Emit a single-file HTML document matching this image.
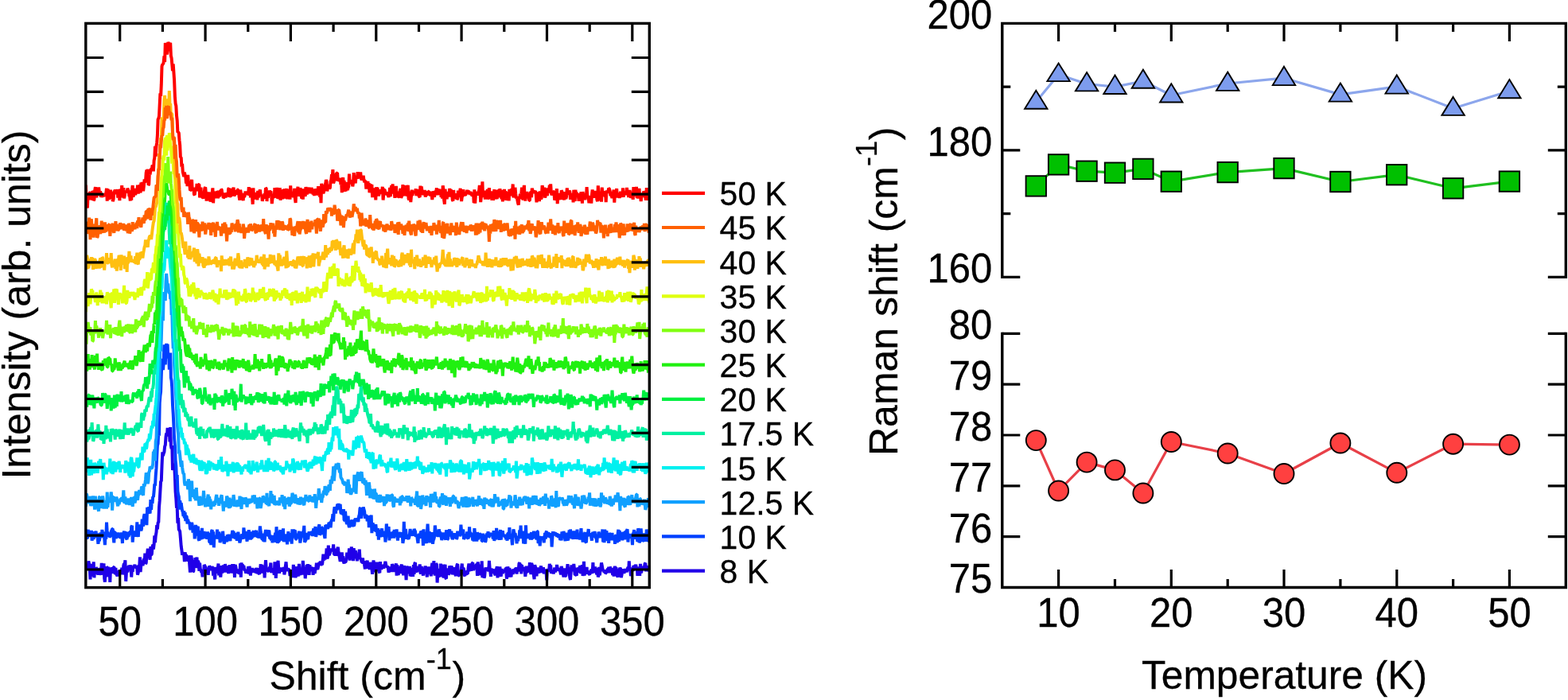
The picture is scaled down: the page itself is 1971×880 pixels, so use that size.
<!DOCTYPE html>
<html lang="en"><head><meta charset="utf-8"><title>Raman spectra</title>
<style>html,body{margin:0;padding:0;background:#fff;}body{width:1971px;height:880px;overflow:hidden;}svg{display:block;}text{font-family:'Liberation Sans', Arial, Helvetica, sans-serif;fill:#000;stroke:#000;stroke-width:0.3px;}</style>
</head><body>
<svg width="1971" height="880" viewBox="0 0 1971 880">
<rect x="0" y="0" width="1971" height="880" fill="#ffffff"/>
<g fill="none" stroke-width="4.0" stroke-linejoin="bevel" clip-path="url(#clipL)">
<clipPath id="clipL"><rect x="107.8" y="29.4" width="708.5" height="709.2"/></clipPath>
<path stroke="#2000e8" d="M107.8 716.7L108.5 714.4L109.2 713.8L109.9 714.7L110.6 714.9L111.3 705.5L112.1 708.9L112.8 714.6L113.5 728.4L114.2 713.6L114.9 709.0L115.6 718.0L116.3 718.8L117.0 724.5L117.7 706.4L118.4 726.3L119.1 717.5L119.9 720.7L120.6 713.6L121.3 714.5L122.0 720.9L122.7 721.0L123.4 714.5L124.1 722.7L124.8 717.4L125.5 714.1L126.2 718.4L126.9 722.9L127.7 707.9L128.4 719.6L129.1 709.7L129.8 719.4L130.5 708.3L131.2 727.1L131.9 731.8L132.6 712.9L133.3 725.4L134.0 712.5L134.7 713.4L135.5 725.0L136.2 712.6L136.9 722.4L137.6 714.9L138.3 731.9L139.0 714.7L139.7 714.9L140.4 716.3L141.1 719.4L141.8 720.4L142.6 713.1L143.3 713.0L144.0 714.5L144.7 722.0L145.4 714.0L146.1 721.8L146.8 722.5L147.5 724.1L148.2 722.1L148.9 722.1L149.6 718.1L150.4 717.5L151.1 720.5L151.8 717.3L152.5 722.2L153.2 713.6L153.9 722.2L154.6 719.6L155.3 711.0L156.0 708.2L156.7 710.3L157.4 704.3L158.2 730.8L158.9 719.7L159.6 711.7L160.3 719.3L161.0 716.1L161.7 712.4L162.4 711.4L163.1 712.9L163.8 713.4L164.5 710.4L165.2 725.5L166.0 712.9L166.7 718.8L167.4 711.7L168.1 714.2L168.8 711.8L169.5 709.8L170.2 713.6L170.9 712.4L171.6 713.2L172.3 714.9L173.0 722.6L173.8 719.8L174.5 710.1L175.2 712.7L175.9 700.4L176.6 719.0L177.3 710.4L178.0 708.2L178.7 704.4L179.4 711.1L180.1 708.2L180.8 702.2L181.6 707.4L182.3 695.6L183.0 708.7L183.7 707.8L184.4 698.9L185.1 696.3L185.8 689.6L186.5 696.9L187.2 697.9L187.9 698.9L188.6 703.7L189.4 687.2L190.1 697.3L190.8 696.8L191.5 688.0L192.2 684.8L192.9 690.5L193.6 684.6L194.3 673.3L195.0 682.2L195.7 673.9L196.5 669.1L197.2 660.1L197.9 665.3L198.6 657.0L199.3 656.5L200.0 637.7L200.7 629.4L201.4 617.3L202.1 605.4L202.8 604.7L203.5 586.0L204.3 568.4L205.0 573.2L205.7 569.9L206.4 568.2L207.1 561.4L207.8 559.4L208.5 549.4L209.2 544.5L209.9 548.3L210.6 537.8L211.3 542.9L212.1 546.5L212.8 540.6L213.5 555.3L214.2 537.0L214.9 559.9L215.6 564.3L216.3 560.0L217.0 590.9L217.7 588.8L218.4 584.6L219.1 582.5L219.9 599.5L220.6 618.4L221.3 626.5L222.0 638.4L222.7 638.3L223.4 657.6L224.1 651.0L224.8 665.9L225.5 666.5L226.2 668.3L226.9 676.5L227.7 686.6L228.4 691.4L229.1 697.7L229.8 695.5L230.5 694.7L231.2 696.4L231.9 706.1L232.6 694.3L233.3 698.5L234.0 697.1L234.7 702.1L235.5 703.2L236.2 705.3L236.9 698.6L237.6 700.7L238.3 710.6L239.0 719.7L239.7 703.4L240.4 698.4L241.1 704.1L241.8 705.7L242.5 718.9L243.3 718.1L244.0 706.6L244.7 713.8L245.4 701.1L246.1 712.9L246.8 704.9L247.5 700.6L248.2 714.1L248.9 705.0L249.6 706.8L250.4 717.9L251.1 707.7L251.8 715.3L252.5 716.7L253.2 719.6L253.9 719.1L254.6 725.4L255.3 718.3L256.0 722.3L256.7 710.0L257.4 711.3L258.2 712.6L258.9 718.3L259.6 719.5L260.3 713.8L261.0 718.5L261.7 722.8L262.4 714.2L263.1 711.7L263.8 712.5L264.5 712.8L265.2 715.5L266.0 716.1L266.7 713.1L267.4 713.5L268.1 723.7L268.8 717.9L269.5 722.9L270.2 728.4L270.9 712.9L271.6 719.8L272.3 715.6L273.0 720.8L273.8 714.3L274.5 708.5L275.2 723.3L275.9 714.7L276.6 716.0L277.3 725.6L278.0 718.1L278.7 711.1L279.4 720.4L280.1 716.6L280.8 710.6L281.6 716.3L282.3 719.4L283.0 709.2L283.7 713.2L284.4 719.6L285.1 711.4L285.8 716.5L286.5 713.5L287.2 721.0L287.9 713.3L288.6 710.5L289.4 713.4L290.1 715.6L290.8 717.6L291.5 720.3L292.2 709.1L292.9 715.8L293.6 709.2L294.3 716.0L295.0 725.8L295.7 710.0L296.4 712.5L297.2 718.5L297.9 717.9L298.6 720.4L299.3 715.4L300.0 721.3L300.7 719.3L301.4 721.7L302.1 708.3L302.8 725.7L303.5 707.4L304.3 714.1L305.0 709.8L305.7 712.4L306.4 711.0L307.1 715.7L307.8 717.5L308.5 716.0L309.2 720.8L309.9 718.4L310.6 716.0L311.3 717.5L312.1 712.2L312.8 721.7L313.5 711.8L314.2 715.7L314.9 723.6L315.6 714.3L316.3 719.9L317.0 714.1L317.7 719.1L318.4 715.1L319.1 719.5L319.9 717.6L320.6 718.1L321.3 720.0L322.0 713.9L322.7 718.5L323.4 721.0L324.1 714.3L324.8 720.5L325.5 720.9L326.2 721.7L326.9 717.7L327.7 709.3L328.4 720.7L329.1 710.1L329.8 713.5L330.5 720.5L331.2 713.6L331.9 711.9L332.6 726.3L333.3 713.1L334.0 704.1L334.7 714.3L335.5 715.2L336.2 717.0L336.9 717.8L337.6 718.2L338.3 715.9L339.0 712.9L339.7 713.3L340.4 707.5L341.1 720.2L341.8 716.5L342.5 716.8L343.3 715.8L344.0 715.2L344.7 722.9L345.4 706.3L346.1 717.0L346.8 726.8L347.5 716.4L348.2 720.8L348.9 708.4L349.6 704.8L350.3 715.4L351.1 720.7L351.8 717.2L352.5 713.6L353.2 718.1L353.9 714.5L354.6 718.8L355.3 714.2L356.0 718.8L356.7 713.0L357.4 722.4L358.2 718.0L358.9 711.3L359.6 706.4L360.3 716.1L361.0 714.2L361.7 717.8L362.4 715.6L363.1 716.0L363.8 716.4L364.5 724.1L365.2 718.9L366.0 717.4L366.7 718.5L367.4 722.5L368.1 725.9L368.8 709.9L369.5 715.6L370.2 713.3L370.9 713.2L371.6 726.3L372.3 713.6L373.0 713.9L373.8 720.7L374.5 721.9L375.2 724.4L375.9 708.9L376.6 715.7L377.3 723.2L378.0 715.1L378.7 716.6L379.4 718.9L380.1 722.3L380.8 704.9L381.6 715.5L382.3 716.3L383.0 715.2L383.7 727.2L384.4 719.7L385.1 716.4L385.8 710.0L386.5 722.5L387.2 709.2L387.9 716.6L388.6 722.8L389.4 710.2L390.1 717.2L390.8 715.0L391.5 718.0L392.2 714.3L392.9 713.1L393.6 722.8L394.3 715.7L395.0 713.8L395.7 720.9L396.4 715.5L397.2 714.7L397.9 707.8L398.6 714.7L399.3 715.7L400.0 712.6L400.7 708.7L401.4 707.5L402.1 710.9L402.8 705.6L403.5 710.4L404.2 709.3L405.0 710.0L405.7 704.6L406.4 696.8L407.1 704.5L407.8 700.1L408.5 703.6L409.2 698.0L409.9 699.1L410.6 689.5L411.3 702.3L412.1 700.1L412.8 685.7L413.5 698.0L414.2 696.7L414.9 694.9L415.6 689.6L416.3 692.2L417.0 691.5L417.7 691.9L418.4 691.6L419.1 684.4L419.9 696.8L420.6 697.0L421.3 696.5L422.0 689.8L422.7 694.5L423.4 698.8L424.1 690.7L424.8 687.8L425.5 693.1L426.2 697.8L426.9 701.2L427.7 705.9L428.4 703.0L429.1 700.4L429.8 694.4L430.5 704.6L431.2 699.2L431.9 706.3L432.6 708.2L433.3 705.6L434.0 706.7L434.7 706.0L435.5 702.6L436.2 694.7L436.9 698.8L437.6 700.0L438.3 698.4L439.0 689.3L439.7 704.6L440.4 693.0L441.1 700.5L441.8 687.4L442.5 695.2L443.3 691.4L444.0 705.1L444.7 689.1L445.4 695.6L446.1 702.3L446.8 692.2L447.5 695.5L448.2 698.5L448.9 705.2L449.6 700.6L450.3 697.5L451.1 702.6L451.8 690.5L452.5 702.7L453.2 701.8L453.9 703.4L454.6 706.7L455.3 706.9L456.0 701.5L456.7 708.9L457.4 705.2L458.1 710.3L458.9 715.4L459.6 706.1L460.3 712.7L461.0 707.7L461.7 704.6L462.4 714.8L463.1 707.7L463.8 709.8L464.5 715.9L465.2 706.8L466.0 711.3L466.7 711.6L467.4 715.3L468.1 721.8L468.8 715.2L469.5 704.5L470.2 710.0L470.9 714.7L471.6 718.1L472.3 718.2L473.0 712.1L473.8 706.8L474.5 710.6L475.2 711.2L475.9 710.8L476.6 718.9L477.3 720.2L478.0 706.1L478.7 713.8L479.4 715.9L480.1 712.9L480.8 711.2L481.6 711.5L482.3 714.6L483.0 711.5L483.7 710.0L484.4 705.9L485.1 709.6L485.8 712.2L486.5 712.4L487.2 711.6L487.9 714.9L488.6 719.7L489.4 712.4L490.1 715.5L490.8 718.2L491.5 717.1L492.2 718.2L492.9 709.1L493.6 711.4L494.3 719.1L495.0 713.7L495.7 715.6L496.4 716.1L497.2 711.9L497.9 708.3L498.6 723.7L499.3 710.1L500.0 716.9L500.7 723.1L501.4 712.7L502.1 713.5L502.8 721.0L503.5 714.3L504.2 711.7L505.0 709.7L505.7 715.1L506.4 718.8L507.1 723.2L507.8 711.0L508.5 717.8L509.2 717.3L509.9 716.6L510.6 729.1L511.3 711.6L512.0 715.7L512.8 721.1L513.5 712.6L514.2 716.5L514.9 711.9L515.6 724.2L516.3 723.0L517.0 713.9L517.7 720.1L518.4 715.4L519.1 724.8L519.9 710.0L520.6 722.0L521.3 708.2L522.0 707.3L522.7 718.8L523.4 718.2L524.1 717.9L524.8 717.5L525.5 713.7L526.2 712.8L526.9 717.0L527.7 709.5L528.4 720.0L529.1 721.1L529.8 712.0L530.5 720.8L531.2 718.6L531.9 723.7L532.6 715.6L533.3 719.2L534.0 714.3L534.7 711.7L535.5 714.5L536.2 721.1L536.9 725.4L537.6 712.5L538.3 721.6L539.0 719.8L539.7 715.0L540.4 713.0L541.1 718.6L541.8 724.3L542.5 713.3L543.3 707.9L544.0 718.2L544.7 721.2L545.4 705.2L546.1 720.4L546.8 723.4L547.5 719.1L548.2 708.9L548.9 709.3L549.6 732.5L550.3 721.5L551.1 718.9L551.8 714.8L552.5 724.2L553.2 724.8L553.9 708.7L554.6 714.9L555.3 709.7L556.0 718.9L556.7 720.1L557.4 726.4L558.1 724.2L558.9 712.0L559.6 709.8L560.3 726.9L561.0 727.5L561.7 714.5L562.4 719.7L563.1 714.5L563.8 722.1L564.5 721.4L565.2 711.3L565.9 714.5L566.7 720.8L567.4 711.5L568.1 713.7L568.8 722.4L569.5 717.9L570.2 722.2L570.9 718.1L571.6 713.2L572.3 721.9L573.0 724.0L573.8 714.5L574.5 710.0L575.2 709.1L575.9 722.4L576.6 723.5L577.3 723.6L578.0 718.3L578.7 722.9L579.4 720.1L580.1 713.4L580.8 708.6L581.6 722.4L582.3 713.9L583.0 715.5L583.7 723.2L584.4 723.8L585.1 721.4L585.8 718.3L586.5 718.8L587.2 721.1L587.9 721.2L588.6 714.1L589.4 708.5L590.1 716.8L590.8 717.8L591.5 711.8L592.2 717.7L592.9 710.9L593.6 707.9L594.3 707.5L595.0 717.1L595.7 713.8L596.4 712.7L597.2 715.3L597.9 714.0L598.6 709.8L599.3 709.6L600.0 723.9L600.7 706.4L601.4 713.6L602.1 709.7L602.8 723.2L603.5 718.2L604.2 710.3L605.0 720.7L605.7 705.4L606.4 726.1L607.1 717.3L607.8 715.4L608.5 726.5L609.2 724.5L609.9 715.6L610.6 713.7L611.3 717.3L612.0 714.7L612.8 714.8L613.5 715.3L614.2 718.3L614.9 704.9L615.6 713.9L616.3 718.2L617.0 724.9L617.7 714.6L618.4 720.6L619.1 715.4L619.8 718.6L620.6 720.4L621.3 715.9L622.0 721.7L622.7 723.0L623.4 715.3L624.1 715.4L624.8 712.2L625.5 726.3L626.2 713.4L626.9 723.8L627.7 718.7L628.4 712.5L629.1 721.9L629.8 724.7L630.5 715.2L631.2 717.7L631.9 721.2L632.6 716.2L633.3 718.1L634.0 716.1L634.7 719.7L635.5 714.5L636.2 714.5L636.9 727.7L637.6 723.8L638.3 712.3L639.0 716.4L639.7 718.6L640.4 713.8L641.1 725.5L641.8 721.6L642.5 725.2L643.3 716.4L644.0 717.0L644.7 721.9L645.4 717.5L646.1 720.1L646.8 716.0L647.5 715.7L648.2 720.1L648.9 713.2L649.6 721.6L650.3 716.1L651.1 718.1L651.8 715.7L652.5 708.3L653.2 707.5L653.9 717.9L654.6 708.9L655.3 721.3L656.0 710.1L656.7 717.5L657.4 713.1L658.1 715.8L658.9 717.6L659.6 714.2L660.3 724.8L661.0 719.2L661.7 711.6L662.4 719.1L663.1 718.5L663.8 719.2L664.5 713.7L665.2 716.7L665.9 707.1L666.7 716.6L667.4 722.1L668.1 708.1L668.8 709.8L669.5 717.7L670.2 719.1L670.9 723.5L671.6 728.2L672.3 710.2L673.0 712.7L673.7 716.1L674.5 724.4L675.2 716.4L675.9 713.6L676.6 718.1L677.3 714.8L678.0 719.2L678.7 719.7L679.4 714.9L680.1 711.5L680.8 720.0L681.6 713.6L682.3 716.3L683.0 713.2L683.7 721.3L684.4 717.9L685.1 715.5L685.8 719.8L686.5 717.6L687.2 729.4L687.9 717.0L688.6 715.5L689.4 717.6L690.1 718.4L690.8 708.8L691.5 713.8L692.2 710.4L692.9 720.9L693.6 718.3L694.3 720.7L695.0 717.9L695.7 721.3L696.4 718.4L697.2 713.7L697.9 719.5L698.6 714.4L699.3 717.1L700.0 710.0L700.7 713.8L701.4 717.8L702.1 715.0L702.8 716.5L703.5 714.2L704.2 718.3L705.0 722.4L705.7 712.0L706.4 714.9L707.1 719.1L707.8 721.1L708.5 725.5L709.2 716.7L709.9 714.5L710.6 724.0L711.3 723.9L712.0 717.8L712.8 716.2L713.5 709.2L714.2 716.3L714.9 713.5L715.6 720.3L716.3 726.2L717.0 728.9L717.7 719.4L718.4 710.5L719.1 717.7L719.8 716.0L720.6 716.2L721.3 709.0L722.0 715.6L722.7 722.9L723.4 722.7L724.1 722.7L724.8 723.7L725.5 713.7L726.2 719.7L726.9 716.4L727.6 713.3L728.4 719.2L729.1 711.0L729.8 721.2L730.5 714.3L731.2 719.0L731.9 710.2L732.6 724.0L733.3 715.3L734.0 705.8L734.7 723.6L735.5 713.8L736.2 716.1L736.9 717.4L737.6 712.9L738.3 721.5L739.0 718.5L739.7 717.9L740.4 721.7L741.1 722.1L741.8 720.7L742.5 719.9L743.3 715.5L744.0 720.5L744.7 718.8L745.4 707.1L746.1 720.1L746.8 715.2L747.5 717.3L748.2 712.6L748.9 716.9L749.6 719.6L750.3 722.1L751.1 714.0L751.8 725.4L752.5 723.2L753.2 712.8L753.9 723.2L754.6 716.4L755.3 715.0L756.0 707.5L756.7 710.6L757.4 714.8L758.1 717.8L758.9 716.4L759.6 719.8L760.3 717.2L761.0 720.9L761.7 720.3L762.4 716.3L763.1 718.5L763.8 714.5L764.5 720.3L765.2 712.6L765.9 720.3L766.7 712.7L767.4 713.9L768.1 719.5L768.8 718.0L769.5 716.3L770.2 723.0L770.9 714.1L771.6 724.7L772.3 714.2L773.0 712.0L773.7 714.2L774.5 713.4L775.2 722.5L775.9 723.9L776.6 725.3L777.3 721.3L778.0 717.9L778.7 715.8L779.4 714.0L780.1 715.1L780.8 726.0L781.5 722.9L782.3 716.7L783.0 719.9L783.7 715.3L784.4 720.9L785.1 717.0L785.8 715.8L786.5 717.1L787.2 717.3L787.9 719.2L788.6 715.4L789.4 713.2L790.1 717.3L790.8 705.3L791.5 717.3L792.2 713.4L792.9 724.1L793.6 719.4L794.3 717.8L795.0 714.7L795.7 718.0L796.4 710.9L797.2 713.0L797.9 710.9L798.6 713.5L799.3 709.7L800.0 715.5L800.7 712.4L801.4 723.8L802.1 716.6L802.8 713.4L803.5 718.9L804.2 723.8L805.0 708.9L805.7 719.9L806.4 718.9L807.1 713.6L807.8 712.0L808.5 714.2L809.2 715.6L809.9 713.3L810.6 708.6L811.3 708.0L812.0 718.4L812.8 711.0L813.5 718.1L814.2 714.3L814.9 716.0L815.6 718.2L816.3 711.9"/>
<path stroke="#0040ff" d="M107.8 665.4L108.5 675.1L109.2 676.4L109.9 677.2L110.6 665.9L111.3 669.3L112.1 670.1L112.8 674.9L113.5 667.9L114.2 675.0L114.9 666.9L115.6 679.7L116.3 673.0L117.0 671.5L117.7 677.9L118.4 672.6L119.1 668.2L119.9 671.3L120.6 667.6L121.3 675.6L122.0 670.6L122.7 676.0L123.4 683.8L124.1 678.7L124.8 680.1L125.5 676.4L126.2 669.8L126.9 671.3L127.7 675.8L128.4 666.0L129.1 671.4L129.8 669.7L130.5 669.1L131.2 676.9L131.9 685.2L132.6 670.4L133.3 677.6L134.0 656.6L134.7 668.5L135.5 669.9L136.2 673.7L136.9 672.7L137.6 674.9L138.3 674.4L139.0 673.3L139.7 668.4L140.4 666.9L141.1 665.0L141.8 664.9L142.6 676.0L143.3 682.4L144.0 669.0L144.7 668.9L145.4 674.9L146.1 676.8L146.8 674.3L147.5 674.6L148.2 669.6L148.9 675.5L149.6 672.6L150.4 671.4L151.1 676.8L151.8 675.4L152.5 669.5L153.2 672.4L153.9 683.0L154.6 670.8L155.3 671.3L156.0 667.7L156.7 675.6L157.4 668.2L158.2 675.5L158.9 677.1L159.6 678.1L160.3 668.6L161.0 674.1L161.7 674.2L162.4 669.3L163.1 669.3L163.8 668.3L164.5 672.3L165.2 662.0L166.0 660.7L166.7 681.6L167.4 671.3L168.1 667.5L168.8 669.7L169.5 672.4L170.2 669.2L170.9 674.8L171.6 668.9L172.3 656.3L173.0 671.1L173.8 674.8L174.5 663.2L175.2 667.0L175.9 659.5L176.6 663.3L177.3 667.3L178.0 664.8L178.7 652.6L179.4 659.7L180.1 661.7L180.8 649.8L181.6 646.3L182.3 649.4L183.0 646.7L183.7 647.2L184.4 660.2L185.1 637.9L185.8 643.0L186.5 645.3L187.2 637.2L187.9 643.5L188.6 645.5L189.4 628.0L190.1 641.0L190.8 629.3L191.5 632.8L192.2 624.3L192.9 624.8L193.6 617.8L194.3 608.3L195.0 610.6L195.7 598.5L196.5 588.7L197.2 573.8L197.9 560.3L198.6 557.8L199.3 542.0L200.0 547.8L200.7 506.6L201.4 497.5L202.1 492.3L202.8 470.8L203.5 451.0L204.3 452.7L205.0 465.0L205.7 456.4L206.4 433.3L207.1 437.5L207.8 458.5L208.5 439.9L209.2 432.0L209.9 438.6L210.6 432.6L211.3 450.6L212.1 443.7L212.8 464.6L213.5 449.7L214.2 443.5L214.9 474.8L215.6 478.3L216.3 488.2L217.0 508.8L217.7 519.9L218.4 534.5L219.1 551.6L219.9 560.2L220.6 578.6L221.3 585.8L222.0 602.5L222.7 597.1L223.4 617.5L224.1 621.8L224.8 624.4L225.5 640.6L226.2 629.4L226.9 633.5L227.7 632.3L228.4 637.9L229.1 642.0L229.8 643.3L230.5 649.0L231.2 642.1L231.9 651.3L232.6 644.1L233.3 655.1L234.0 648.6L234.7 649.8L235.5 658.5L236.2 652.9L236.9 657.3L237.6 656.9L238.3 657.6L239.0 664.7L239.7 665.1L240.4 662.0L241.1 656.8L241.8 660.7L242.5 669.6L243.3 665.9L244.0 661.2L244.7 677.3L245.4 670.6L246.1 660.0L246.8 669.7L247.5 673.3L248.2 663.3L248.9 661.9L249.6 677.7L250.4 679.7L251.1 669.3L251.8 667.5L252.5 678.1L253.2 674.3L253.9 663.9L254.6 677.6L255.3 668.9L256.0 672.3L256.7 667.9L257.4 674.4L258.2 673.9L258.9 676.7L259.6 671.4L260.3 677.7L261.0 668.5L261.7 674.6L262.4 670.0L263.1 680.7L263.8 682.1L264.5 675.9L265.2 685.0L266.0 667.5L266.7 666.0L267.4 678.9L268.1 668.4L268.8 688.3L269.5 672.8L270.2 675.6L270.9 674.9L271.6 673.0L272.3 677.5L273.0 665.7L273.8 677.7L274.5 673.3L275.2 668.7L275.9 671.4L276.6 682.2L277.3 675.9L278.0 680.4L278.7 672.4L279.4 677.3L280.1 667.8L280.8 675.5L281.6 683.3L282.3 682.0L283.0 674.2L283.7 677.3L284.4 675.0L285.1 681.3L285.8 672.4L286.5 673.4L287.2 675.9L287.9 678.3L288.6 674.9L289.4 680.1L290.1 671.6L290.8 676.2L291.5 672.6L292.2 666.9L292.9 669.9L293.6 667.8L294.3 676.8L295.0 670.0L295.7 677.5L296.4 671.3L297.2 676.0L297.9 679.7L298.6 675.2L299.3 668.8L300.0 673.1L300.7 677.5L301.4 682.4L302.1 679.3L302.8 675.7L303.5 676.7L304.3 671.2L305.0 675.1L305.7 677.6L306.4 663.4L307.1 669.6L307.8 672.6L308.5 668.3L309.2 676.6L309.9 675.4L310.6 680.7L311.3 667.8L312.1 678.0L312.8 666.0L313.5 678.6L314.2 668.4L314.9 678.2L315.6 676.2L316.3 676.9L317.0 675.0L317.7 670.2L318.4 668.7L319.1 667.5L319.9 673.6L320.6 674.1L321.3 669.0L322.0 666.9L322.7 674.9L323.4 674.6L324.1 670.9L324.8 675.8L325.5 675.1L326.2 671.1L326.9 661.4L327.7 668.4L328.4 673.0L329.1 676.9L329.8 678.2L330.5 670.6L331.2 680.7L331.9 671.9L332.6 681.4L333.3 670.0L334.0 666.0L334.7 673.2L335.5 667.1L336.2 673.6L336.9 673.1L337.6 668.2L338.3 666.7L339.0 676.0L339.7 677.5L340.4 672.7L341.1 679.5L341.8 676.1L342.5 682.3L343.3 674.1L344.0 674.4L344.7 678.4L345.4 677.2L346.1 669.7L346.8 681.8L347.5 662.2L348.2 674.9L348.9 682.8L349.6 678.8L350.3 680.5L351.1 680.0L351.8 668.2L352.5 666.4L353.2 679.3L353.9 677.3L354.6 675.4L355.3 673.1L356.0 664.3L356.7 681.2L357.4 674.4L358.2 673.3L358.9 676.8L359.6 678.0L360.3 671.5L361.0 684.4L361.7 676.4L362.4 668.2L363.1 680.1L363.8 678.3L364.5 670.6L365.2 672.2L366.0 674.4L366.7 683.6L367.4 665.4L368.1 676.4L368.8 668.9L369.5 668.5L370.2 667.1L370.9 666.6L371.6 677.8L372.3 677.7L373.0 676.2L373.8 673.9L374.5 671.1L375.2 673.3L375.9 667.8L376.6 672.5L377.3 682.5L378.0 678.1L378.7 675.0L379.4 674.2L380.1 668.5L380.8 669.2L381.6 667.3L382.3 660.9L383.0 681.6L383.7 680.1L384.4 679.0L385.1 670.0L385.8 674.7L386.5 676.7L387.2 678.1L387.9 672.2L388.6 668.3L389.4 672.6L390.1 670.0L390.8 670.9L391.5 672.2L392.2 667.7L392.9 674.1L393.6 668.1L394.3 664.4L395.0 673.3L395.7 668.2L396.4 662.0L397.2 675.0L397.9 670.5L398.6 670.0L399.3 667.1L400.0 672.0L400.7 662.0L401.4 659.3L402.1 672.6L402.8 671.0L403.5 669.0L404.2 662.7L405.0 663.4L405.7 670.1L406.4 671.1L407.1 667.5L407.8 673.9L408.5 676.9L409.2 660.0L409.9 661.3L410.6 659.9L411.3 662.6L412.1 664.9L412.8 661.4L413.5 656.7L414.2 659.2L414.9 656.2L415.6 663.2L416.3 655.7L417.0 653.6L417.7 652.7L418.4 646.2L419.1 655.7L419.9 642.2L420.6 637.2L421.3 639.9L422.0 645.6L422.7 636.8L423.4 641.6L424.1 633.8L424.8 640.6L425.5 633.0L426.2 638.7L426.9 636.1L427.7 633.8L428.4 644.9L429.1 645.4L429.8 640.9L430.5 644.9L431.2 647.1L431.9 640.2L432.6 653.9L433.3 654.2L434.0 642.8L434.7 650.0L435.5 656.9L436.2 658.9L436.9 657.0L437.6 648.5L438.3 660.2L439.0 663.0L439.7 659.4L440.4 656.1L441.1 654.7L441.8 658.1L442.5 653.4L443.3 662.2L444.0 655.3L444.7 661.3L445.4 659.7L446.1 653.1L446.8 652.5L447.5 655.2L448.2 651.7L448.9 652.6L449.6 654.0L450.3 655.9L451.1 649.2L451.8 646.9L452.5 639.0L453.2 638.3L453.9 651.8L454.6 646.4L455.3 644.8L456.0 641.8L456.7 637.6L457.4 640.4L458.1 642.6L458.9 651.8L459.6 648.4L460.3 648.2L461.0 648.6L461.7 655.2L462.4 651.2L463.1 648.1L463.8 663.1L464.5 654.4L465.2 655.0L466.0 652.9L466.7 647.5L467.4 670.2L468.1 658.6L468.8 657.5L469.5 665.6L470.2 662.1L470.9 667.0L471.6 666.8L472.3 659.3L473.0 665.4L473.8 664.3L474.5 673.9L475.2 664.2L475.9 678.7L476.6 670.1L477.3 666.2L478.0 675.4L478.7 668.4L479.4 668.1L480.1 664.3L480.8 674.7L481.6 669.4L482.3 674.9L483.0 668.2L483.7 669.2L484.4 681.4L485.1 675.4L485.8 658.5L486.5 664.7L487.2 669.7L487.9 671.3L488.6 662.1L489.4 679.4L490.1 668.8L490.8 676.6L491.5 672.2L492.2 672.6L492.9 670.7L493.6 672.0L494.3 668.2L495.0 676.7L495.7 665.8L496.4 674.6L497.2 669.4L497.9 672.8L498.6 665.4L499.3 674.2L500.0 679.6L500.7 671.7L501.4 670.2L502.1 670.6L502.8 675.8L503.5 670.6L504.2 669.7L505.0 672.8L505.7 671.5L506.4 682.9L507.1 678.4L507.8 655.9L508.5 677.4L509.2 673.0L509.9 664.9L510.6 671.8L511.3 677.7L512.0 671.9L512.8 676.7L513.5 677.4L514.2 675.8L514.9 672.1L515.6 665.0L516.3 672.2L517.0 673.4L517.7 666.9L518.4 672.9L519.1 671.4L519.9 673.4L520.6 665.0L521.3 667.0L522.0 668.0L522.7 674.7L523.4 673.7L524.1 672.2L524.8 678.6L525.5 682.9L526.2 672.8L526.9 671.3L527.7 676.8L528.4 671.4L529.1 667.9L529.8 668.6L530.5 675.2L531.2 671.8L531.9 685.9L532.6 665.3L533.3 678.8L534.0 671.9L534.7 669.0L535.5 680.4L536.2 682.9L536.9 669.8L537.6 658.7L538.3 672.6L539.0 676.6L539.7 668.1L540.4 682.3L541.1 676.2L541.8 674.9L542.5 669.3L543.3 677.7L544.0 683.7L544.7 679.0L545.4 677.6L546.1 674.6L546.8 660.6L547.5 665.9L548.2 672.3L548.9 674.2L549.6 669.1L550.3 670.7L551.1 674.9L551.8 665.4L552.5 669.0L553.2 668.9L553.9 672.4L554.6 674.6L555.3 679.0L556.0 676.7L556.7 675.3L557.4 669.6L558.1 673.4L558.9 672.3L559.6 676.7L560.3 678.6L561.0 666.3L561.7 670.8L562.4 677.9L563.1 677.6L563.8 670.6L564.5 669.8L565.2 665.4L565.9 674.1L566.7 672.5L567.4 667.7L568.1 676.1L568.8 677.9L569.5 676.4L570.2 673.8L570.9 670.3L571.6 676.4L572.3 675.0L573.0 673.9L573.8 677.7L574.5 676.7L575.2 667.6L575.9 671.7L576.6 673.8L577.3 670.2L578.0 673.8L578.7 672.6L579.4 659.7L580.1 668.5L580.8 672.4L581.6 667.6L582.3 665.7L583.0 678.0L583.7 676.2L584.4 671.7L585.1 673.2L585.8 672.0L586.5 676.9L587.2 668.5L587.9 676.3L588.6 677.2L589.4 673.1L590.1 662.4L590.8 674.9L591.5 670.2L592.2 670.7L592.9 675.0L593.6 674.3L594.3 679.6L595.0 672.3L595.7 680.5L596.4 664.1L597.2 672.6L597.9 678.7L598.6 673.0L599.3 680.6L600.0 669.0L600.7 678.0L601.4 676.0L602.1 672.6L602.8 670.6L603.5 671.7L604.2 675.4L605.0 673.2L605.7 680.3L606.4 680.2L607.1 670.7L607.8 677.1L608.5 675.2L609.2 672.3L609.9 681.5L610.6 680.1L611.3 674.3L612.0 670.5L612.8 674.6L613.5 668.1L614.2 675.1L614.9 674.6L615.6 670.0L616.3 671.6L617.0 671.5L617.7 671.6L618.4 670.6L619.1 673.6L619.8 677.5L620.6 667.1L621.3 679.9L622.0 675.2L622.7 674.5L623.4 678.3L624.1 663.8L624.8 671.9L625.5 667.9L626.2 676.9L626.9 670.0L627.7 678.8L628.4 670.2L629.1 666.1L629.8 678.5L630.5 668.7L631.2 672.3L631.9 667.1L632.6 674.0L633.3 673.0L634.0 672.9L634.7 675.5L635.5 671.8L636.2 678.2L636.9 675.7L637.6 679.6L638.3 670.5L639.0 670.4L639.7 675.9L640.4 663.2L641.1 677.6L641.8 675.7L642.5 671.0L643.3 678.6L644.0 685.2L644.7 674.4L645.4 665.5L646.1 668.5L646.8 675.1L647.5 670.1L648.2 673.3L648.9 676.0L649.6 683.2L650.3 676.6L651.1 680.4L651.8 674.0L652.5 677.4L653.2 666.5L653.9 673.7L654.6 660.6L655.3 675.5L656.0 675.4L656.7 675.4L657.4 670.6L658.1 683.3L658.9 667.7L659.6 670.9L660.3 683.8L661.0 660.3L661.7 676.0L662.4 676.6L663.1 673.1L663.8 670.8L664.5 676.0L665.2 673.5L665.9 674.8L666.7 678.3L667.4 671.5L668.1 669.4L668.8 676.9L669.5 677.0L670.2 672.3L670.9 667.8L671.6 673.2L672.3 675.7L673.0 675.3L673.7 675.6L674.5 678.3L675.2 668.0L675.9 668.2L676.6 682.8L677.3 681.6L678.0 677.8L678.7 686.3L679.4 675.6L680.1 674.9L680.8 676.8L681.6 678.4L682.3 675.7L683.0 675.6L683.7 682.3L684.4 676.2L685.1 670.1L685.8 677.5L686.5 668.8L687.2 667.9L687.9 675.1L688.6 672.6L689.4 670.4L690.1 670.8L690.8 674.0L691.5 675.5L692.2 674.9L692.9 670.2L693.6 687.5L694.3 677.4L695.0 668.2L695.7 673.5L696.4 669.0L697.2 671.4L697.9 669.8L698.6 671.2L699.3 671.1L700.0 674.8L700.7 671.8L701.4 671.6L702.1 675.8L702.8 671.7L703.5 674.7L704.2 678.8L705.0 673.3L705.7 679.4L706.4 668.5L707.1 672.3L707.8 674.6L708.5 667.9L709.2 671.5L709.9 676.2L710.6 680.2L711.3 672.1L712.0 669.9L712.8 679.1L713.5 677.8L714.2 679.2L714.9 673.7L715.6 666.5L716.3 676.9L717.0 665.5L717.7 674.5L718.4 675.1L719.1 676.8L719.8 674.0L720.6 677.8L721.3 667.5L722.0 673.5L722.7 677.0L723.4 672.2L724.1 677.5L724.8 675.6L725.5 665.7L726.2 676.8L726.9 676.4L727.6 674.3L728.4 671.3L729.1 678.5L729.8 671.0L730.5 664.1L731.2 677.3L731.9 670.9L732.6 681.5L733.3 669.6L734.0 674.1L734.7 672.8L735.5 669.0L736.2 681.3L736.9 682.0L737.6 673.2L738.3 674.3L739.0 671.0L739.7 665.1L740.4 672.9L741.1 670.3L741.8 674.2L742.5 670.8L743.3 675.8L744.0 679.6L744.7 670.4L745.4 669.5L746.1 675.0L746.8 674.2L747.5 668.0L748.2 672.9L748.9 676.2L749.6 676.8L750.3 682.2L751.1 671.8L751.8 675.4L752.5 668.7L753.2 671.0L753.9 676.0L754.6 672.7L755.3 675.7L756.0 671.9L756.7 674.6L757.4 665.5L758.1 681.3L758.9 675.2L759.6 682.1L760.3 665.5L761.0 677.6L761.7 677.2L762.4 667.3L763.1 674.9L763.8 679.6L764.5 678.4L765.2 682.8L765.9 669.8L766.7 675.4L767.4 672.9L768.1 670.1L768.8 679.3L769.5 669.8L770.2 678.5L770.9 673.2L771.6 677.6L772.3 674.7L773.0 683.8L773.7 673.8L774.5 672.8L775.2 680.4L775.9 682.0L776.6 671.2L777.3 665.8L778.0 680.8L778.7 667.0L779.4 676.8L780.1 669.1L780.8 672.9L781.5 672.6L782.3 679.3L783.0 672.2L783.7 670.7L784.4 669.2L785.1 678.4L785.8 668.3L786.5 668.4L787.2 673.7L787.9 666.9L788.6 665.3L789.4 681.5L790.1 673.2L790.8 676.6L791.5 671.1L792.2 675.7L792.9 674.1L793.6 671.8L794.3 676.0L795.0 685.1L795.7 670.9L796.4 670.2L797.2 666.2L797.9 674.2L798.6 668.1L799.3 677.5L800.0 675.5L800.7 676.6L801.4 680.9L802.1 664.4L802.8 666.4L803.5 682.1L804.2 680.9L805.0 672.7L805.7 664.3L806.4 673.9L807.1 675.5L807.8 680.8L808.5 679.4L809.2 670.5L809.9 674.9L810.6 675.6L811.3 676.2L812.0 680.8L812.8 665.5L813.5 676.1L814.2 668.9L814.9 675.3L815.6 678.6L816.3 681.6"/>
<path stroke="#10a0ff" d="M107.8 636.6L108.5 620.8L109.2 622.0L109.9 628.1L110.6 633.3L111.3 627.7L112.1 630.8L112.8 623.9L113.5 627.8L114.2 636.2L114.9 632.8L115.6 628.9L116.3 632.4L117.0 623.4L117.7 635.7L118.4 631.9L119.1 640.6L119.9 623.6L120.6 635.5L121.3 634.0L122.0 627.8L122.7 635.3L123.4 639.9L124.1 642.7L124.8 624.9L125.5 624.3L126.2 638.0L126.9 634.4L127.7 638.8L128.4 628.7L129.1 623.6L129.8 628.4L130.5 639.6L131.2 629.6L131.9 635.1L132.6 630.4L133.3 630.4L134.0 639.7L134.7 618.5L135.5 637.9L136.2 625.8L136.9 631.6L137.6 629.2L138.3 629.3L139.0 626.5L139.7 618.5L140.4 624.4L141.1 641.7L141.8 628.2L142.6 625.1L143.3 624.8L144.0 628.3L144.7 625.6L145.4 631.1L146.1 625.1L146.8 626.2L147.5 633.1L148.2 636.3L148.9 628.6L149.6 634.1L150.4 629.8L151.1 628.5L151.8 626.9L152.5 628.6L153.2 625.1L153.9 631.0L154.6 626.9L155.3 616.4L156.0 631.0L156.7 632.4L157.4 624.5L158.2 631.7L158.9 633.9L159.6 632.6L160.3 632.2L161.0 629.7L161.7 626.7L162.4 628.6L163.1 635.1L163.8 628.5L164.5 627.9L165.2 625.2L166.0 627.9L166.7 636.8L167.4 629.0L168.1 625.5L168.8 625.6L169.5 632.4L170.2 629.0L170.9 617.6L171.6 628.4L172.3 625.7L173.0 628.8L173.8 622.3L174.5 621.5L175.2 615.9L175.9 620.8L176.6 620.4L177.3 619.6L178.0 611.6L178.7 612.8L179.4 621.0L180.1 622.6L180.8 608.0L181.6 611.4L182.3 607.9L183.0 603.0L183.7 594.5L184.4 596.2L185.1 602.6L185.8 608.0L186.5 604.6L187.2 593.7L187.9 592.4L188.6 586.6L189.4 590.3L190.1 586.0L190.8 589.2L191.5 587.0L192.2 583.2L192.9 567.7L193.6 570.5L194.3 564.9L195.0 579.5L195.7 554.9L196.5 550.9L197.2 530.2L197.9 517.4L198.6 506.3L199.3 500.7L200.0 492.4L200.7 468.7L201.4 437.3L202.1 441.6L202.8 425.6L203.5 401.3L204.3 398.8L205.0 403.2L205.7 367.0L206.4 374.9L207.1 375.6L207.8 377.9L208.5 354.0L209.2 344.0L209.9 353.6L210.6 365.7L211.3 356.4L212.1 366.8L212.8 368.9L213.5 365.6L214.2 376.2L214.9 368.2L215.6 396.0L216.3 393.7L217.0 420.5L217.7 438.1L218.4 427.8L219.1 459.3L219.9 471.3L220.6 485.8L221.3 499.2L222.0 512.3L222.7 532.7L223.4 539.5L224.1 545.8L224.8 570.4L225.5 566.0L226.2 572.1L226.9 579.7L227.7 586.8L228.4 579.1L229.1 587.2L229.8 592.5L230.5 595.8L231.2 594.8L231.9 606.8L232.6 610.4L233.3 608.4L234.0 605.1L234.7 610.6L235.5 606.8L236.2 615.4L236.9 602.3L237.6 609.6L238.3 612.5L239.0 630.2L239.7 609.4L240.4 609.9L241.1 604.6L241.8 622.0L242.5 623.9L243.3 623.6L244.0 615.0L244.7 627.1L245.4 624.9L246.1 629.1L246.8 613.1L247.5 624.4L248.2 628.8L248.9 626.2L249.6 628.0L250.4 635.8L251.1 623.9L251.8 627.6L252.5 631.5L253.2 635.2L253.9 631.4L254.6 631.4L255.3 627.3L256.0 616.9L256.7 625.7L257.4 632.9L258.2 637.1L258.9 633.4L259.6 632.3L260.3 634.5L261.0 626.0L261.7 621.5L262.4 636.9L263.1 624.2L263.8 630.4L264.5 627.7L265.2 640.4L266.0 631.5L266.7 632.5L267.4 631.9L268.1 633.2L268.8 636.5L269.5 629.8L270.2 634.5L270.9 631.3L271.6 624.8L272.3 621.9L273.0 629.7L273.8 628.5L274.5 626.0L275.2 635.8L275.9 631.5L276.6 629.5L277.3 628.0L278.0 624.0L278.7 622.3L279.4 632.1L280.1 632.9L280.8 642.7L281.6 630.6L282.3 632.3L283.0 630.8L283.7 637.4L284.4 631.5L285.1 623.8L285.8 625.3L286.5 631.6L287.2 630.2L287.9 639.1L288.6 625.6L289.4 637.9L290.1 635.7L290.8 636.2L291.5 627.4L292.2 632.9L292.9 629.5L293.6 622.1L294.3 628.2L295.0 636.9L295.7 630.4L296.4 634.0L297.2 633.3L297.9 637.2L298.6 628.4L299.3 632.7L300.0 630.8L300.7 635.5L301.4 623.5L302.1 637.0L302.8 634.6L303.5 639.9L304.3 626.3L305.0 625.9L305.7 632.8L306.4 629.8L307.1 628.0L307.8 634.1L308.5 625.5L309.2 627.3L309.9 632.6L310.6 637.5L311.3 629.6L312.1 627.1L312.8 633.5L313.5 626.8L314.2 629.6L314.9 630.6L315.6 630.8L316.3 630.6L317.0 630.6L317.7 622.6L318.4 628.5L319.1 629.2L319.9 622.3L320.6 633.3L321.3 631.3L322.0 625.8L322.7 627.9L323.4 639.4L324.1 629.2L324.8 631.7L325.5 626.3L326.2 626.5L326.9 628.6L327.7 639.0L328.4 634.7L329.1 628.1L329.8 631.6L330.5 623.8L331.2 624.7L331.9 631.9L332.6 629.7L333.3 629.6L334.0 631.6L334.7 633.4L335.5 619.9L336.2 635.1L336.9 628.7L337.6 633.5L338.3 636.2L339.0 625.7L339.7 632.3L340.4 617.0L341.1 630.5L341.8 621.2L342.5 632.1L343.3 631.7L344.0 629.8L344.7 622.9L345.4 634.9L346.1 633.5L346.8 631.3L347.5 633.9L348.2 629.6L348.9 631.8L349.6 634.9L350.3 631.2L351.1 635.4L351.8 625.5L352.5 631.4L353.2 630.3L353.9 631.7L354.6 622.2L355.3 629.9L356.0 632.5L356.7 636.7L357.4 623.9L358.2 640.2L358.9 627.2L359.6 628.4L360.3 633.8L361.0 630.0L361.7 626.1L362.4 628.7L363.1 624.9L363.8 636.7L364.5 633.1L365.2 632.9L366.0 632.7L366.7 630.3L367.4 619.9L368.1 621.9L368.8 627.4L369.5 631.3L370.2 631.0L370.9 622.0L371.6 623.7L372.3 633.0L373.0 626.4L373.8 631.4L374.5 633.8L375.2 632.4L375.9 626.2L376.6 628.7L377.3 634.7L378.0 624.7L378.7 630.0L379.4 632.7L380.1 628.9L380.8 625.7L381.6 633.8L382.3 635.1L383.0 629.2L383.7 629.2L384.4 622.0L385.1 630.2L385.8 624.2L386.5 630.2L387.2 626.3L387.9 629.8L388.6 630.2L389.4 622.5L390.1 630.3L390.8 626.8L391.5 624.4L392.2 627.1L392.9 631.2L393.6 625.5L394.3 631.5L395.0 627.4L395.7 621.2L396.4 627.4L397.2 638.9L397.9 630.1L398.6 626.1L399.3 627.0L400.0 628.1L400.7 614.0L401.4 619.3L402.1 625.0L402.8 628.3L403.5 620.8L404.2 631.9L405.0 625.3L405.7 625.3L406.4 620.1L407.1 616.8L407.8 620.4L408.5 611.1L409.2 614.2L409.9 621.6L410.6 621.5L411.3 611.6L412.1 619.0L412.8 615.0L413.5 609.5L414.2 610.3L414.9 616.8L415.6 603.2L416.3 604.2L417.0 608.0L417.7 598.5L418.4 600.4L419.1 586.3L419.9 604.7L420.6 596.3L421.3 585.7L422.0 587.0L422.7 582.8L423.4 590.1L424.1 587.2L424.8 583.7L425.5 582.3L426.2 589.1L426.9 594.3L427.7 588.9L428.4 599.9L429.1 601.4L429.8 602.2L430.5 604.1L431.2 607.0L431.9 608.3L432.6 605.0L433.3 610.6L434.0 607.2L434.7 610.0L435.5 605.9L436.2 620.0L436.9 614.3L437.6 602.7L438.3 609.9L439.0 609.7L439.7 618.5L440.4 619.7L441.1 621.6L441.8 619.6L442.5 617.4L443.3 614.0L444.0 615.2L444.7 618.5L445.4 596.9L446.1 606.8L446.8 597.9L447.5 620.8L448.2 604.1L448.9 599.2L449.6 595.3L450.3 593.6L451.1 600.7L451.8 604.7L452.5 594.1L453.2 594.6L453.9 596.3L454.6 593.2L455.3 600.9L456.0 607.0L456.7 606.6L457.4 601.0L458.1 606.9L458.9 609.5L459.6 603.6L460.3 610.6L461.0 622.9L461.7 614.9L462.4 609.1L463.1 613.9L463.8 606.4L464.5 611.2L465.2 626.2L466.0 617.9L466.7 616.1L467.4 615.8L468.1 619.0L468.8 625.0L469.5 626.8L470.2 625.9L470.9 614.5L471.6 621.8L472.3 620.3L473.0 621.0L473.8 629.7L474.5 630.4L475.2 629.6L475.9 622.4L476.6 623.7L477.3 631.9L478.0 621.9L478.7 628.1L479.4 627.2L480.1 628.1L480.8 630.8L481.6 627.3L482.3 624.0L483.0 636.1L483.7 630.4L484.4 632.4L485.1 631.6L485.8 631.4L486.5 621.5L487.2 628.2L487.9 624.0L488.6 622.0L489.4 629.9L490.1 629.1L490.8 622.6L491.5 628.8L492.2 622.0L492.9 622.3L493.6 625.4L494.3 635.6L495.0 637.5L495.7 625.9L496.4 626.2L497.2 631.7L497.9 627.1L498.6 630.6L499.3 626.9L500.0 629.5L500.7 631.4L501.4 629.9L502.1 627.1L502.8 635.3L503.5 624.4L504.2 632.4L505.0 623.9L505.7 624.1L506.4 626.7L507.1 629.8L507.8 625.0L508.5 628.8L509.2 627.8L509.9 627.6L510.6 629.5L511.3 623.3L512.0 627.5L512.8 631.6L513.5 623.3L514.2 626.5L514.9 627.3L515.6 625.7L516.3 636.3L517.0 625.0L517.7 626.8L518.4 629.9L519.1 630.8L519.9 630.3L520.6 628.6L521.3 628.7L522.0 634.8L522.7 626.3L523.4 624.4L524.1 617.5L524.8 636.6L525.5 630.5L526.2 637.5L526.9 625.1L527.7 626.2L528.4 623.6L529.1 639.9L529.8 635.0L530.5 629.2L531.2 622.6L531.9 627.3L532.6 632.3L533.3 632.6L534.0 625.3L534.7 629.7L535.5 636.0L536.2 623.0L536.9 629.9L537.6 626.3L538.3 629.4L539.0 629.5L539.7 624.0L540.4 629.7L541.1 637.9L541.8 620.9L542.5 630.2L543.3 626.4L544.0 631.7L544.7 620.5L545.4 631.1L546.1 628.5L546.8 618.5L547.5 628.0L548.2 624.2L548.9 630.8L549.6 632.2L550.3 631.8L551.1 627.9L551.8 636.9L552.5 636.5L553.2 628.0L553.9 624.6L554.6 631.2L555.3 627.2L556.0 620.2L556.7 632.7L557.4 634.4L558.1 622.5L558.9 631.8L559.6 632.3L560.3 623.3L561.0 635.8L561.7 630.2L562.4 631.1L563.1 626.8L563.8 625.7L564.5 629.9L565.2 629.2L565.9 636.8L566.7 629.7L567.4 625.2L568.1 632.9L568.8 629.1L569.5 623.7L570.2 623.6L570.9 629.3L571.6 630.6L572.3 624.6L573.0 633.4L573.8 630.3L574.5 629.7L575.2 631.3L575.9 635.2L576.6 639.0L577.3 635.4L578.0 631.1L578.7 634.2L579.4 634.6L580.1 631.5L580.8 625.0L581.6 628.1L582.3 637.5L583.0 627.8L583.7 630.8L584.4 624.7L585.1 632.0L585.8 624.0L586.5 637.9L587.2 631.2L587.9 633.7L588.6 637.5L589.4 625.4L590.1 636.6L590.8 632.9L591.5 627.0L592.2 629.7L592.9 626.8L593.6 631.2L594.3 624.8L595.0 636.9L595.7 631.8L596.4 634.0L597.2 628.2L597.9 630.5L598.6 634.5L599.3 633.9L600.0 636.2L600.7 629.9L601.4 628.0L602.1 623.4L602.8 634.7L603.5 629.7L604.2 626.7L605.0 634.5L605.7 630.9L606.4 627.6L607.1 636.2L607.8 633.9L608.5 639.8L609.2 625.6L609.9 628.6L610.6 633.7L611.3 626.6L612.0 632.8L612.8 628.0L613.5 632.1L614.2 630.1L614.9 634.3L615.6 634.6L616.3 634.3L617.0 628.3L617.7 627.5L618.4 637.4L619.1 632.2L619.8 637.0L620.6 633.0L621.3 631.1L622.0 621.2L622.7 629.1L623.4 626.9L624.1 630.6L624.8 631.5L625.5 624.9L626.2 628.1L626.9 637.1L627.7 631.2L628.4 632.0L629.1 630.6L629.8 633.9L630.5 635.0L631.2 629.1L631.9 628.9L632.6 639.9L633.3 639.7L634.0 627.1L634.7 629.4L635.5 636.4L636.2 635.5L636.9 634.9L637.6 635.6L638.3 629.4L639.0 628.7L639.7 628.4L640.4 622.3L641.1 631.1L641.8 623.5L642.5 638.6L643.3 631.3L644.0 630.8L644.7 635.0L645.4 633.7L646.1 632.4L646.8 630.2L647.5 622.4L648.2 626.9L648.9 638.1L649.6 635.7L650.3 638.8L651.1 628.2L651.8 629.8L652.5 632.1L653.2 624.6L653.9 631.6L654.6 635.3L655.3 631.6L656.0 627.0L656.7 635.0L657.4 630.3L658.1 628.3L658.9 624.7L659.6 627.1L660.3 623.7L661.0 628.1L661.7 629.9L662.4 633.6L663.1 624.4L663.8 629.7L664.5 628.3L665.2 639.5L665.9 625.6L666.7 629.6L667.4 630.5L668.1 631.0L668.8 634.7L669.5 631.4L670.2 623.1L670.9 628.0L671.6 633.8L672.3 631.7L673.0 626.8L673.7 623.2L674.5 634.2L675.2 633.4L675.9 632.9L676.6 633.1L677.3 627.9L678.0 635.9L678.7 633.3L679.4 630.5L680.1 626.0L680.8 628.1L681.6 632.5L682.3 633.2L683.0 624.1L683.7 629.5L684.4 623.7L685.1 636.0L685.8 620.6L686.5 629.7L687.2 627.0L687.9 626.0L688.6 632.2L689.4 629.4L690.1 639.7L690.8 631.1L691.5 628.7L692.2 636.1L692.9 623.6L693.6 624.8L694.3 634.8L695.0 636.5L695.7 628.5L696.4 636.9L697.2 628.2L697.9 627.4L698.6 638.3L699.3 617.0L700.0 634.9L700.7 630.9L701.4 636.4L702.1 635.4L702.8 625.9L703.5 626.4L704.2 627.6L705.0 626.6L705.7 628.6L706.4 625.6L707.1 627.0L707.8 633.1L708.5 632.7L709.2 635.8L709.9 632.4L710.6 628.3L711.3 629.9L712.0 635.6L712.8 633.6L713.5 630.7L714.2 631.2L714.9 623.0L715.6 632.3L716.3 624.0L717.0 632.0L717.7 623.7L718.4 625.2L719.1 627.2L719.8 634.4L720.6 633.6L721.3 632.2L722.0 639.2L722.7 630.1L723.4 621.4L724.1 628.2L724.8 635.1L725.5 634.1L726.2 627.2L726.9 624.9L727.6 633.8L728.4 635.5L729.1 633.0L729.8 633.9L730.5 639.5L731.2 634.5L731.9 623.1L732.6 624.5L733.3 632.8L734.0 622.8L734.7 625.4L735.5 630.1L736.2 633.3L736.9 632.4L737.6 630.9L738.3 627.6L739.0 630.7L739.7 624.7L740.4 626.2L741.1 619.4L741.8 635.7L742.5 627.8L743.3 631.1L744.0 631.9L744.7 631.0L745.4 626.4L746.1 636.0L746.8 634.9L747.5 628.7L748.2 626.7L748.9 636.7L749.6 632.8L750.3 634.9L751.1 634.4L751.8 635.6L752.5 628.2L753.2 626.7L753.9 629.4L754.6 637.3L755.3 634.2L756.0 619.3L756.7 629.9L757.4 629.9L758.1 623.1L758.9 629.2L759.6 630.8L760.3 633.0L761.0 625.5L761.7 627.6L762.4 631.1L763.1 630.6L763.8 633.6L764.5 628.3L765.2 633.7L765.9 633.3L766.7 623.8L767.4 627.5L768.1 634.1L768.8 636.1L769.5 633.9L770.2 629.4L770.9 634.6L771.6 626.6L772.3 628.6L773.0 630.0L773.7 622.5L774.5 628.3L775.2 630.9L775.9 625.5L776.6 619.1L777.3 625.3L778.0 629.8L778.7 628.3L779.4 642.2L780.1 623.9L780.8 629.4L781.5 629.0L782.3 633.5L783.0 634.6L783.7 630.7L784.4 625.8L785.1 636.3L785.8 637.4L786.5 627.4L787.2 628.5L787.9 630.8L788.6 634.6L789.4 624.2L790.1 624.6L790.8 635.0L791.5 630.5L792.2 634.7L792.9 631.1L793.6 627.0L794.3 622.1L795.0 632.5L795.7 628.3L796.4 629.3L797.2 626.4L797.9 628.3L798.6 632.6L799.3 625.0L800.0 621.6L800.7 621.4L801.4 637.3L802.1 629.6L802.8 628.0L803.5 636.5L804.2 626.8L805.0 627.1L805.7 632.8L806.4 634.3L807.1 630.0L807.8 633.5L808.5 632.3L809.2 634.8L809.9 627.8L810.6 632.7L811.3 640.9L812.0 638.1L812.8 629.0L813.5 636.8L814.2 632.8L814.9 626.2L815.6 638.0L816.3 626.4"/>
<path stroke="#00f0f0" d="M107.8 586.4L108.5 590.1L109.2 581.5L109.9 575.3L110.6 593.9L111.3 585.5L112.1 597.8L112.8 590.1L113.5 584.2L114.2 577.9L114.9 597.2L115.6 589.8L116.3 590.2L117.0 581.9L117.7 589.8L118.4 595.2L119.1 581.5L119.9 592.8L120.6 588.3L121.3 589.5L122.0 582.7L122.7 594.8L123.4 586.1L124.1 579.8L124.8 589.3L125.5 580.6L126.2 577.2L126.9 587.2L127.7 589.6L128.4 584.5L129.1 582.5L129.8 603.2L130.5 581.8L131.2 588.6L131.9 587.0L132.6 593.0L133.3 590.2L134.0 596.1L134.7 591.2L135.5 592.7L136.2 587.7L136.9 589.4L137.6 590.3L138.3 576.7L139.0 584.2L139.7 595.2L140.4 583.0L141.1 583.7L141.8 596.1L142.6 582.3L143.3 580.0L144.0 584.5L144.7 590.1L145.4 593.2L146.1 585.5L146.8 581.3L147.5 584.5L148.2 589.9L148.9 583.4L149.6 579.9L150.4 584.8L151.1 593.8L151.8 585.8L152.5 584.9L153.2 588.9L153.9 586.1L154.6 584.4L155.3 587.1L156.0 587.7L156.7 586.6L157.4 594.7L158.2 579.1L158.9 583.2L159.6 585.4L160.3 580.8L161.0 585.8L161.7 593.7L162.4 598.3L163.1 589.0L163.8 600.7L164.5 577.0L165.2 574.9L166.0 581.2L166.7 599.2L167.4 584.3L168.1 593.2L168.8 587.4L169.5 581.4L170.2 585.9L170.9 581.5L171.6 585.1L172.3 575.5L173.0 580.0L173.8 587.1L174.5 587.3L175.2 579.5L175.9 576.4L176.6 575.3L177.3 569.5L178.0 571.7L178.7 578.5L179.4 561.7L180.1 567.4L180.8 567.7L181.6 567.1L182.3 557.9L183.0 558.2L183.7 564.2L184.4 562.3L185.1 555.6L185.8 555.2L186.5 551.9L187.2 554.6L187.9 545.2L188.6 552.2L189.4 546.3L190.1 539.4L190.8 535.3L191.5 538.7L192.2 528.8L192.9 536.1L193.6 520.1L194.3 520.5L195.0 514.7L195.7 508.7L196.5 500.0L197.2 489.7L197.9 473.2L198.6 459.6L199.3 430.6L200.0 441.7L200.7 419.4L201.4 378.0L202.1 391.2L202.8 364.6L203.5 361.5L204.3 342.3L205.0 343.0L205.7 330.5L206.4 340.4L207.1 329.0L207.8 315.6L208.5 316.1L209.2 302.0L209.9 324.8L210.6 309.8L211.3 319.1L212.1 314.9L212.8 311.9L213.5 328.0L214.2 335.8L214.9 342.4L215.6 348.2L216.3 360.7L217.0 374.8L217.7 389.5L218.4 400.3L219.1 426.8L219.9 431.7L220.6 445.1L221.3 462.2L222.0 487.5L222.7 502.6L223.4 500.4L224.1 515.0L224.8 514.3L225.5 529.6L226.2 535.2L226.9 540.1L227.7 537.5L228.4 550.1L229.1 544.1L229.8 552.3L230.5 552.0L231.2 551.6L231.9 558.3L232.6 555.6L233.3 558.9L234.0 572.1L234.7 559.0L235.5 564.5L236.2 563.9L236.9 566.5L237.6 570.9L238.3 574.5L239.0 578.3L239.7 573.1L240.4 581.5L241.1 571.7L241.8 580.0L242.5 579.4L243.3 570.8L244.0 580.1L244.7 582.6L245.4 579.6L246.1 576.2L246.8 577.8L247.5 584.1L248.2 581.9L248.9 578.5L249.6 581.0L250.4 581.9L251.1 589.7L251.8 591.6L252.5 585.2L253.2 578.6L253.9 592.2L254.6 580.3L255.3 587.2L256.0 587.4L256.7 581.0L257.4 589.3L258.2 586.8L258.9 596.0L259.6 593.5L260.3 595.3L261.0 582.7L261.7 588.9L262.4 578.8L263.1 591.1L263.8 590.1L264.5 580.6L265.2 583.1L266.0 584.9L266.7 583.3L267.4 582.5L268.1 586.0L268.8 590.2L269.5 588.5L270.2 587.7L270.9 587.8L271.6 583.5L272.3 591.2L273.0 589.8L273.8 588.9L274.5 590.1L275.2 578.0L275.9 589.4L276.6 583.9L277.3 587.1L278.0 574.0L278.7 585.4L279.4 592.9L280.1 591.6L280.8 588.6L281.6 584.2L282.3 592.1L283.0 590.1L283.7 589.6L284.4 579.8L285.1 584.7L285.8 584.3L286.5 598.6L287.2 589.4L287.9 583.4L288.6 590.8L289.4 592.8L290.1 584.3L290.8 584.8L291.5 584.7L292.2 584.6L292.9 580.9L293.6 594.3L294.3 588.0L295.0 591.0L295.7 582.4L296.4 587.1L297.2 593.0L297.9 581.4L298.6 586.2L299.3 582.5L300.0 592.7L300.7 585.7L301.4 585.7L302.1 592.4L302.8 590.6L303.5 596.4L304.3 588.7L305.0 592.8L305.7 586.8L306.4 587.5L307.1 588.1L307.8 584.6L308.5 585.7L309.2 584.2L309.9 589.4L310.6 587.0L311.3 588.1L312.1 592.9L312.8 579.2L313.5 591.8L314.2 593.7L314.9 588.6L315.6 596.3L316.3 589.0L317.0 591.7L317.7 579.0L318.4 587.6L319.1 591.7L319.9 588.6L320.6 590.6L321.3 588.5L322.0 584.8L322.7 580.8L323.4 588.4L324.1 593.7L324.8 587.3L325.5 587.4L326.2 586.2L326.9 590.4L327.7 582.3L328.4 585.2L329.1 578.4L329.8 586.5L330.5 589.8L331.2 585.2L331.9 593.2L332.6 584.7L333.3 588.6L334.0 593.0L334.7 578.6L335.5 587.6L336.2 592.9L336.9 588.0L337.6 575.9L338.3 590.8L339.0 584.8L339.7 585.9L340.4 581.9L341.1 581.8L341.8 590.7L342.5 588.5L343.3 583.7L344.0 592.3L344.7 590.7L345.4 580.3L346.1 580.3L346.8 588.4L347.5 587.4L348.2 591.1L348.9 581.8L349.6 589.2L350.3 588.7L351.1 589.1L351.8 585.3L352.5 589.8L353.2 592.1L353.9 592.3L354.6 587.0L355.3 593.9L356.0 596.2L356.7 589.5L357.4 588.4L358.2 588.5L358.9 590.5L359.6 588.5L360.3 579.5L361.0 588.1L361.7 583.2L362.4 586.4L363.1 585.4L363.8 585.1L364.5 593.3L365.2 588.0L366.0 584.5L366.7 584.4L367.4 591.2L368.1 576.7L368.8 578.3L369.5 586.8L370.2 594.5L370.9 588.8L371.6 581.8L372.3 587.3L373.0 590.0L373.8 580.1L374.5 582.0L375.2 585.4L375.9 590.9L376.6 582.4L377.3 587.2L378.0 590.6L378.7 582.8L379.4 582.7L380.1 578.8L380.8 580.8L381.6 583.0L382.3 580.4L383.0 588.4L383.7 578.3L384.4 582.1L385.1 585.0L385.8 589.3L386.5 592.5L387.2 590.8L387.9 587.7L388.6 583.8L389.4 581.3L390.1 585.6L390.8 580.4L391.5 589.0L392.2 583.3L392.9 585.8L393.6 577.7L394.3 585.2L395.0 581.8L395.7 574.9L396.4 573.9L397.2 583.8L397.9 580.9L398.6 578.5L399.3 575.8L400.0 575.2L400.7 582.5L401.4 575.0L402.1 575.9L402.8 574.7L403.5 580.5L404.2 583.8L405.0 592.0L405.7 577.1L406.4 580.4L407.1 572.0L407.8 580.0L408.5 572.9L409.2 571.2L409.9 567.3L410.6 571.7L411.3 567.0L412.1 563.6L412.8 571.2L413.5 556.1L414.2 566.2L414.9 567.6L415.6 556.0L416.3 565.0L417.0 556.1L417.7 549.7L418.4 554.6L419.1 537.1L419.9 544.7L420.6 537.1L421.3 545.0L422.0 536.1L422.7 547.4L423.4 536.0L424.1 544.8L424.8 542.5L425.5 550.7L426.2 538.8L426.9 565.4L427.7 553.4L428.4 555.3L429.1 565.7L429.8 558.6L430.5 559.0L431.2 563.9L431.9 566.9L432.6 563.8L433.3 567.8L434.0 566.4L434.7 567.5L435.5 564.9L436.2 564.8L436.9 568.7L437.6 565.0L438.3 577.7L439.0 569.5L439.7 570.0L440.4 567.9L441.1 569.2L441.8 566.1L442.5 568.9L443.3 572.9L444.0 565.2L444.7 553.6L445.4 562.1L446.1 563.2L446.8 564.6L447.5 556.1L448.2 549.3L448.9 559.3L449.6 549.3L450.3 549.2L451.1 563.1L451.8 552.7L452.5 554.5L453.2 552.9L453.9 547.6L454.6 550.6L455.3 552.5L456.0 556.8L456.7 555.2L457.4 556.8L458.1 563.2L458.9 568.6L459.6 566.8L460.3 564.6L461.0 575.9L461.7 570.6L462.4 574.5L463.1 576.3L463.8 568.2L464.5 575.0L465.2 577.4L466.0 578.4L466.7 582.1L467.4 572.6L468.1 569.9L468.8 569.2L469.5 589.8L470.2 581.4L470.9 579.0L471.6 580.3L472.3 589.2L473.0 579.3L473.8 578.0L474.5 583.2L475.2 580.6L475.9 581.4L476.6 578.6L477.3 573.1L478.0 572.0L478.7 581.1L479.4 586.2L480.1 578.4L480.8 583.2L481.6 585.4L482.3 584.3L483.0 583.6L483.7 583.7L484.4 583.7L485.1 587.6L485.8 584.7L486.5 592.8L487.2 593.8L487.9 582.6L488.6 580.9L489.4 586.3L490.1 582.6L490.8 580.3L491.5 575.7L492.2 587.6L492.9 583.9L493.6 587.2L494.3 585.4L495.0 584.5L495.7 580.2L496.4 589.0L497.2 590.7L497.9 583.3L498.6 587.7L499.3 576.3L500.0 584.6L500.7 584.3L501.4 589.0L502.1 592.9L502.8 586.6L503.5 584.9L504.2 585.0L505.0 583.3L505.7 591.0L506.4 582.6L507.1 585.2L507.8 581.0L508.5 583.9L509.2 587.7L509.9 592.5L510.6 584.8L511.3 577.2L512.0 585.9L512.8 591.4L513.5 582.2L514.2 589.2L514.9 591.5L515.6 581.0L516.3 583.9L517.0 589.7L517.7 588.7L518.4 589.1L519.1 581.8L519.9 582.8L520.6 588.1L521.3 584.5L522.0 589.1L522.7 580.3L523.4 580.9L524.1 583.7L524.8 573.7L525.5 586.2L526.2 580.1L526.9 581.5L527.7 589.0L528.4 589.8L529.1 580.8L529.8 591.1L530.5 585.8L531.2 595.7L531.9 593.7L532.6 585.6L533.3 592.2L534.0 593.4L534.7 587.7L535.5 592.3L536.2 592.2L536.9 588.8L537.6 592.9L538.3 591.9L539.0 584.5L539.7 586.0L540.4 592.5L541.1 587.3L541.8 592.8L542.5 581.1L543.3 595.4L544.0 584.0L544.7 585.8L545.4 587.1L546.1 587.9L546.8 582.1L547.5 585.4L548.2 588.4L548.9 589.2L549.6 591.0L550.3 582.6L551.1 592.1L551.8 593.5L552.5 586.8L553.2 596.5L553.9 586.6L554.6 582.3L555.3 582.6L556.0 585.2L556.7 586.4L557.4 583.7L558.1 588.0L558.9 588.1L559.6 589.8L560.3 582.5L561.0 599.1L561.7 586.2L562.4 584.1L563.1 583.5L563.8 586.7L564.5 585.7L565.2 589.1L565.9 578.5L566.7 581.1L567.4 594.2L568.1 585.9L568.8 582.4L569.5 584.0L570.2 587.3L570.9 588.9L571.6 593.7L572.3 583.9L573.0 586.3L573.8 582.7L574.5 586.2L575.2 592.4L575.9 591.3L576.6 586.9L577.3 593.6L578.0 586.5L578.7 580.6L579.4 579.3L580.1 579.0L580.8 593.7L581.6 587.3L582.3 583.8L583.0 596.3L583.7 586.4L584.4 583.9L585.1 591.4L585.8 590.9L586.5 590.7L587.2 594.3L587.9 588.4L588.6 584.8L589.4 581.4L590.1 602.4L590.8 597.5L591.5 590.0L592.2 590.5L592.9 590.7L593.6 593.8L594.3 589.4L595.0 580.2L595.7 590.6L596.4 586.0L597.2 586.6L597.9 581.0L598.6 589.4L599.3 588.5L600.0 583.7L600.7 584.7L601.4 584.4L602.1 577.0L602.8 584.3L603.5 582.9L604.2 597.1L605.0 588.3L605.7 585.1L606.4 586.3L607.1 584.3L607.8 583.1L608.5 582.7L609.2 592.0L609.9 582.1L610.6 588.3L611.3 591.2L612.0 588.1L612.8 588.8L613.5 588.6L614.2 579.0L614.9 583.2L615.6 590.4L616.3 586.2L617.0 584.6L617.7 591.3L618.4 581.2L619.1 590.1L619.8 599.0L620.6 580.8L621.3 587.9L622.0 588.9L622.7 582.3L623.4 591.4L624.1 588.9L624.8 589.6L625.5 587.2L626.2 580.4L626.9 588.0L627.7 598.1L628.4 597.2L629.1 584.7L629.8 582.7L630.5 591.8L631.2 587.7L631.9 579.3L632.6 589.4L633.3 595.4L634.0 590.1L634.7 576.0L635.5 591.2L636.2 588.3L636.9 585.4L637.6 582.9L638.3 587.2L639.0 588.2L639.7 582.6L640.4 593.3L641.1 592.9L641.8 592.0L642.5 589.0L643.3 591.3L644.0 589.3L644.7 589.0L645.4 587.7L646.1 585.4L646.8 590.8L647.5 586.6L648.2 594.1L648.9 579.5L649.6 601.5L650.3 596.9L651.1 586.3L651.8 589.7L652.5 590.7L653.2 586.1L653.9 591.2L654.6 587.0L655.3 584.0L656.0 588.5L656.7 588.9L657.4 585.8L658.1 590.1L658.9 588.7L659.6 594.3L660.3 584.9L661.0 592.9L661.7 582.2L662.4 598.2L663.1 589.7L663.8 583.1L664.5 597.1L665.2 588.5L665.9 587.8L666.7 588.0L667.4 596.8L668.1 594.7L668.8 575.5L669.5 578.8L670.2 587.4L670.9 588.8L671.6 581.3L672.3 587.8L673.0 590.4L673.7 589.9L674.5 582.6L675.2 595.8L675.9 581.1L676.6 590.5L677.3 588.0L678.0 591.7L678.7 595.3L679.4 590.0L680.1 582.2L680.8 587.6L681.6 585.7L682.3 587.1L683.0 590.6L683.7 592.7L684.4 581.4L685.1 584.3L685.8 592.1L686.5 586.1L687.2 586.1L687.9 587.2L688.6 587.9L689.4 584.9L690.1 586.4L690.8 590.2L691.5 585.7L692.2 585.7L692.9 590.8L693.6 576.8L694.3 588.7L695.0 593.2L695.7 583.7L696.4 587.2L697.2 587.7L697.9 589.7L698.6 586.9L699.3 590.4L700.0 594.2L700.7 590.9L701.4 593.7L702.1 584.8L702.8 584.4L703.5 588.6L704.2 592.4L705.0 580.7L705.7 590.3L706.4 599.7L707.1 591.8L707.8 587.6L708.5 585.4L709.2 585.0L709.9 589.2L710.6 583.0L711.3 589.9L712.0 591.6L712.8 585.6L713.5 588.9L714.2 583.5L714.9 582.5L715.6 581.8L716.3 584.9L717.0 588.9L717.7 587.4L718.4 592.1L719.1 586.2L719.8 585.4L720.6 585.6L721.3 589.9L722.0 586.7L722.7 583.1L723.4 585.7L724.1 587.2L724.8 589.4L725.5 589.5L726.2 590.6L726.9 577.3L727.6 586.4L728.4 586.6L729.1 586.7L729.8 583.9L730.5 591.9L731.2 585.4L731.9 588.0L732.6 584.9L733.3 587.6L734.0 585.9L734.7 584.0L735.5 587.9L736.2 594.0L736.9 594.9L737.6 593.8L738.3 589.0L739.0 596.9L739.7 589.7L740.4 587.9L741.1 585.8L741.8 589.4L742.5 600.2L743.3 593.3L744.0 591.6L744.7 586.5L745.4 590.8L746.1 596.7L746.8 593.0L747.5 594.9L748.2 587.4L748.9 596.0L749.6 585.9L750.3 595.0L751.1 585.6L751.8 584.1L752.5 589.1L753.2 597.4L753.9 588.9L754.6 592.3L755.3 591.3L756.0 588.9L756.7 588.0L757.4 592.0L758.1 581.8L758.9 591.1L759.6 575.3L760.3 584.2L761.0 584.2L761.7 589.5L762.4 580.8L763.1 587.6L763.8 585.1L764.5 589.8L765.2 593.8L765.9 583.3L766.7 582.9L767.4 590.6L768.1 585.2L768.8 594.9L769.5 583.0L770.2 585.7L770.9 584.3L771.6 575.3L772.3 590.9L773.0 587.9L773.7 592.3L774.5 587.9L775.2 584.0L775.9 578.6L776.6 586.5L777.3 595.7L778.0 588.3L778.7 583.4L779.4 595.6L780.1 597.0L780.8 591.6L781.5 584.2L782.3 580.9L783.0 589.2L783.7 584.3L784.4 591.7L785.1 579.5L785.8 589.9L786.5 590.1L787.2 588.2L787.9 586.4L788.6 591.8L789.4 588.2L790.1 591.7L790.8 590.0L791.5 592.5L792.2 588.6L792.9 583.1L793.6 586.4L794.3 579.2L795.0 581.1L795.7 594.3L796.4 583.5L797.2 594.5L797.9 581.7L798.6 580.0L799.3 585.2L800.0 584.9L800.7 591.8L801.4 583.6L802.1 584.5L802.8 586.7L803.5 585.2L804.2 582.5L805.0 586.4L805.7 586.2L806.4 591.7L807.1 582.5L807.8 593.0L808.5 586.8L809.2 582.3L809.9 590.5L810.6 592.1L811.3 595.6L812.0 593.2L812.8 581.6L813.5 593.9L814.2 588.9L814.9 590.0L815.6 592.3L816.3 581.3"/>
<path stroke="#00f0a0" d="M107.8 544.2L108.5 540.1L109.2 555.4L109.9 552.3L110.6 542.5L111.3 552.1L112.1 549.3L112.8 539.3L113.5 548.2L114.2 536.9L114.9 544.2L115.6 531.0L116.3 544.2L117.0 554.6L117.7 553.4L118.4 541.2L119.1 547.2L119.9 541.2L120.6 546.2L121.3 539.9L122.0 550.6L122.7 545.4L123.4 533.4L124.1 542.9L124.8 545.8L125.5 541.4L126.2 546.8L126.9 552.8L127.7 549.9L128.4 553.7L129.1 546.4L129.8 545.6L130.5 557.9L131.2 546.8L131.9 542.0L132.6 552.3L133.3 534.9L134.0 546.5L134.7 539.5L135.5 551.1L136.2 547.8L136.9 543.8L137.6 545.6L138.3 548.9L139.0 555.4L139.7 539.1L140.4 546.0L141.1 538.9L141.8 542.0L142.6 546.5L143.3 544.0L144.0 544.4L144.7 552.6L145.4 539.5L146.1 543.0L146.8 544.2L147.5 540.6L148.2 546.7L148.9 548.4L149.6 545.9L150.4 539.5L151.1 552.1L151.8 540.5L152.5 542.6L153.2 541.6L153.9 544.8L154.6 551.9L155.3 542.1L156.0 542.9L156.7 531.4L157.4 546.0L158.2 539.4L158.9 546.4L159.6 542.8L160.3 538.7L161.0 541.9L161.7 546.6L162.4 538.6L163.1 544.6L163.8 539.0L164.5 543.9L165.2 538.1L166.0 543.8L166.7 541.9L167.4 547.7L168.1 544.4L168.8 539.8L169.5 540.2L170.2 536.2L170.9 535.5L171.6 539.7L172.3 531.3L173.0 541.9L173.8 542.2L174.5 537.1L175.2 537.0L175.9 535.5L176.6 531.2L177.3 537.9L178.0 521.2L178.7 519.1L179.4 526.6L180.1 528.4L180.8 523.4L181.6 523.0L182.3 514.8L183.0 515.6L183.7 517.6L184.4 511.6L185.1 510.3L185.8 512.0L186.5 507.4L187.2 502.3L187.9 499.1L188.6 500.6L189.4 505.1L190.1 491.5L190.8 499.6L191.5 488.3L192.2 488.5L192.9 483.1L193.6 465.4L194.3 470.5L195.0 462.9L195.7 442.0L196.5 441.2L197.2 425.8L197.9 408.8L198.6 389.8L199.3 366.5L200.0 361.6L200.7 360.9L201.4 329.0L202.1 315.3L202.8 322.3L203.5 303.8L204.3 287.2L205.0 286.3L205.7 290.3L206.4 286.9L207.1 252.0L207.8 284.8L208.5 278.2L209.2 268.6L209.9 276.1L210.6 254.9L211.3 276.2L212.1 265.2L212.8 292.9L213.5 307.2L214.2 296.8L214.9 304.1L215.6 320.6L216.3 336.6L217.0 338.8L217.7 361.3L218.4 387.1L219.1 388.7L219.9 413.3L220.6 430.1L221.3 426.7L222.0 436.9L222.7 461.5L223.4 474.5L224.1 478.0L224.8 478.2L225.5 502.4L226.2 501.7L226.9 509.0L227.7 495.2L228.4 506.1L229.1 513.2L229.8 503.0L230.5 507.4L231.2 518.4L231.9 513.7L232.6 513.2L233.3 523.8L234.0 518.0L234.7 524.6L235.5 520.2L236.2 527.4L236.9 528.4L237.6 524.7L238.3 536.1L239.0 533.2L239.7 530.4L240.4 523.5L241.1 535.5L241.8 531.7L242.5 532.3L243.3 537.2L244.0 535.8L244.7 533.7L245.4 536.6L246.1 526.2L246.8 541.5L247.5 546.0L248.2 537.9L248.9 547.9L249.6 537.9L250.4 543.4L251.1 551.9L251.8 542.6L252.5 536.4L253.2 547.4L253.9 545.6L254.6 544.8L255.3 539.2L256.0 548.2L256.7 547.7L257.4 550.9L258.2 548.3L258.9 546.6L259.6 550.7L260.3 541.3L261.0 541.3L261.7 541.9L262.4 538.2L263.1 543.0L263.8 536.8L264.5 543.6L265.2 545.0L266.0 550.1L266.7 539.5L267.4 549.1L268.1 543.7L268.8 549.2L269.5 549.4L270.2 539.3L270.9 547.7L271.6 539.4L272.3 547.4L273.0 542.8L273.8 552.2L274.5 552.5L275.2 539.4L275.9 543.7L276.6 549.3L277.3 549.7L278.0 547.4L278.7 540.6L279.4 533.0L280.1 543.6L280.8 548.1L281.6 544.3L282.3 538.6L283.0 547.1L283.7 547.0L284.4 544.1L285.1 543.4L285.8 534.3L286.5 549.7L287.2 546.2L287.9 541.4L288.6 542.0L289.4 536.2L290.1 551.3L290.8 550.5L291.5 542.3L292.2 545.2L292.9 550.9L293.6 539.2L294.3 546.7L295.0 544.4L295.7 547.2L296.4 552.1L297.2 543.0L297.9 535.7L298.6 547.1L299.3 544.7L300.0 542.4L300.7 550.5L301.4 545.7L302.1 540.8L302.8 552.1L303.5 547.8L304.3 539.9L305.0 551.5L305.7 552.3L306.4 548.6L307.1 544.3L307.8 541.5L308.5 548.3L309.2 531.6L309.9 548.9L310.6 552.7L311.3 545.6L312.1 540.9L312.8 547.6L313.5 545.3L314.2 547.2L314.9 552.5L315.6 545.7L316.3 552.4L317.0 545.7L317.7 545.5L318.4 540.2L319.1 552.7L319.9 546.6L320.6 550.8L321.3 540.6L322.0 548.1L322.7 547.1L323.4 544.0L324.1 543.1L324.8 536.6L325.5 544.7L326.2 535.6L326.9 540.7L327.7 540.4L328.4 543.8L329.1 547.9L329.8 535.9L330.5 544.9L331.2 534.0L331.9 543.6L332.6 546.5L333.3 552.7L334.0 554.7L334.7 550.6L335.5 551.3L336.2 540.7L336.9 549.4L337.6 539.7L338.3 560.0L339.0 543.3L339.7 546.5L340.4 551.6L341.1 546.8L341.8 543.8L342.5 548.6L343.3 547.7L344.0 538.6L344.7 543.3L345.4 545.0L346.1 548.2L346.8 546.5L347.5 540.4L348.2 544.3L348.9 543.9L349.6 544.3L350.3 549.4L351.1 539.1L351.8 549.0L352.5 544.8L353.2 539.6L353.9 550.2L354.6 539.1L355.3 543.2L356.0 541.4L356.7 550.1L357.4 547.8L358.2 534.1L358.9 540.5L359.6 550.6L360.3 542.1L361.0 545.8L361.7 539.9L362.4 544.9L363.1 548.2L363.8 549.0L364.5 548.7L365.2 545.5L366.0 542.0L366.7 543.2L367.4 552.0L368.1 540.0L368.8 537.7L369.5 549.6L370.2 546.4L370.9 542.1L371.6 549.0L372.3 538.3L373.0 542.2L373.8 547.1L374.5 542.7L375.2 543.9L375.9 550.7L376.6 554.7L377.3 541.3L378.0 531.4L378.7 540.2L379.4 536.1L380.1 541.5L380.8 543.1L381.6 538.8L382.3 547.4L383.0 541.7L383.7 543.6L384.4 544.5L385.1 548.9L385.8 540.6L386.5 557.1L387.2 541.2L387.9 545.6L388.6 539.1L389.4 545.6L390.1 546.4L390.8 543.6L391.5 545.0L392.2 539.3L392.9 544.7L393.6 542.8L394.3 536.9L395.0 541.2L395.7 531.0L396.4 542.0L397.2 533.1L397.9 541.9L398.6 539.6L399.3 541.6L400.0 545.8L400.7 537.5L401.4 543.7L402.1 543.6L402.8 543.3L403.5 533.7L404.2 534.9L405.0 545.7L405.7 538.4L406.4 540.7L407.1 536.4L407.8 540.6L408.5 545.4L409.2 536.6L409.9 534.4L410.6 528.3L411.3 541.2L412.1 521.1L412.8 524.9L413.5 530.4L414.2 533.9L414.9 519.6L415.6 521.3L416.3 517.5L417.0 525.5L417.7 518.4L418.4 509.3L419.1 513.1L419.9 498.2L420.6 522.6L421.3 497.7L422.0 499.5L422.7 486.0L423.4 487.4L424.1 490.8L424.8 490.3L425.5 508.3L426.2 502.4L426.9 501.5L427.7 505.3L428.4 504.1L429.1 519.3L429.8 512.4L430.5 512.9L431.2 507.5L431.9 513.0L432.6 532.2L433.3 521.8L434.0 529.4L434.7 527.7L435.5 523.1L436.2 532.9L436.9 527.2L437.6 525.2L438.3 523.7L439.0 525.7L439.7 531.8L440.4 527.1L441.1 529.3L441.8 515.2L442.5 529.1L443.3 530.6L444.0 523.6L444.7 518.4L445.4 524.5L446.1 513.8L446.8 522.9L447.5 512.8L448.2 520.7L448.9 515.8L449.6 508.6L450.3 513.3L451.1 495.3L451.8 496.0L452.5 503.1L453.2 496.6L453.9 485.2L454.6 498.4L455.3 503.0L456.0 505.2L456.7 499.5L457.4 509.5L458.1 505.8L458.9 517.9L459.6 507.5L460.3 513.6L461.0 513.5L461.7 518.7L462.4 522.2L463.1 524.3L463.8 526.9L464.5 532.0L465.2 531.4L466.0 520.1L466.7 536.5L467.4 534.7L468.1 533.7L468.8 537.5L469.5 539.2L470.2 537.5L470.9 537.7L471.6 541.6L472.3 542.7L473.0 541.1L473.8 540.0L474.5 530.7L475.2 530.4L475.9 543.8L476.6 539.9L477.3 535.1L478.0 545.8L478.7 549.2L479.4 534.9L480.1 546.5L480.8 536.8L481.6 536.4L482.3 538.3L483.0 537.4L483.7 545.3L484.4 532.5L485.1 536.4L485.8 538.9L486.5 546.4L487.2 532.4L487.9 547.2L488.6 540.9L489.4 539.0L490.1 548.6L490.8 541.1L491.5 545.7L492.2 550.7L492.9 545.2L493.6 547.1L494.3 546.7L495.0 544.7L495.7 539.9L496.4 543.0L497.2 546.2L497.9 545.7L498.6 543.6L499.3 550.2L500.0 545.7L500.7 549.8L501.4 548.5L502.1 538.3L502.8 542.4L503.5 538.6L504.2 542.7L505.0 546.1L505.7 542.9L506.4 551.6L507.1 541.7L507.8 534.2L508.5 545.5L509.2 537.9L509.9 542.2L510.6 543.2L511.3 540.4L512.0 537.8L512.8 553.5L513.5 542.1L514.2 548.9L514.9 542.8L515.6 546.9L516.3 545.9L517.0 546.3L517.7 543.7L518.4 544.3L519.1 547.3L519.9 548.6L520.6 536.3L521.3 556.0L522.0 543.0L522.7 553.2L523.4 550.7L524.1 549.3L524.8 550.7L525.5 549.2L526.2 553.0L526.9 541.1L527.7 544.9L528.4 541.8L529.1 541.9L529.8 552.2L530.5 544.9L531.2 545.7L531.9 549.5L532.6 537.1L533.3 543.8L534.0 543.2L534.7 549.6L535.5 548.8L536.2 545.1L536.9 546.3L537.6 545.6L538.3 546.5L539.0 538.3L539.7 543.8L540.4 546.0L541.1 545.3L541.8 543.1L542.5 544.2L543.3 547.6L544.0 549.1L544.7 549.5L545.4 544.4L546.1 541.8L546.8 545.5L547.5 540.2L548.2 546.6L548.9 545.1L549.6 544.2L550.3 550.8L551.1 543.2L551.8 536.8L552.5 539.9L553.2 547.3L553.9 537.5L554.6 550.7L555.3 546.8L556.0 546.2L556.7 544.8L557.4 549.2L558.1 536.6L558.9 533.3L559.6 543.3L560.3 538.6L561.0 559.1L561.7 540.4L562.4 548.1L563.1 537.3L563.8 547.4L564.5 551.9L565.2 548.7L565.9 548.8L566.7 545.5L567.4 552.2L568.1 536.1L568.8 540.2L569.5 543.8L570.2 545.5L570.9 538.3L571.6 541.0L572.3 547.1L573.0 545.5L573.8 544.1L574.5 536.8L575.2 547.9L575.9 542.4L576.6 538.7L577.3 550.9L578.0 549.6L578.7 542.8L579.4 541.8L580.1 544.0L580.8 543.2L581.6 542.6L582.3 543.6L583.0 550.0L583.7 542.2L584.4 539.1L585.1 540.1L585.8 543.7L586.5 550.5L587.2 543.0L587.9 540.6L588.6 546.7L589.4 547.0L590.1 532.9L590.8 550.0L591.5 540.8L592.2 543.9L592.9 540.8L593.6 547.8L594.3 550.7L595.0 543.6L595.7 558.0L596.4 550.0L597.2 554.0L597.9 550.2L598.6 545.9L599.3 543.2L600.0 545.6L600.7 545.5L601.4 547.1L602.1 546.4L602.8 542.1L603.5 548.0L604.2 538.8L605.0 547.3L605.7 542.4L606.4 551.0L607.1 549.0L607.8 545.0L608.5 541.8L609.2 535.5L609.9 542.6L610.6 541.3L611.3 538.2L612.0 547.9L612.8 545.1L613.5 543.9L614.2 541.4L614.9 539.1L615.6 546.9L616.3 543.2L617.0 538.0L617.7 545.7L618.4 545.4L619.1 542.9L619.8 557.7L620.6 550.5L621.3 535.3L622.0 545.2L622.7 548.9L623.4 552.1L624.1 544.8L624.8 542.8L625.5 538.8L626.2 550.3L626.9 548.7L627.7 547.7L628.4 549.2L629.1 542.2L629.8 548.0L630.5 547.7L631.2 546.1L631.9 544.9L632.6 538.5L633.3 548.2L634.0 547.2L634.7 541.9L635.5 546.9L636.2 539.5L636.9 540.2L637.6 542.3L638.3 547.1L639.0 550.9L639.7 545.1L640.4 557.2L641.1 547.5L641.8 542.4L642.5 550.2L643.3 542.5L644.0 557.1L644.7 545.0L645.4 541.0L646.1 549.1L646.8 552.1L647.5 536.8L648.2 540.4L648.9 549.9L649.6 535.1L650.3 539.7L651.1 544.8L651.8 541.6L652.5 546.8L653.2 539.7L653.9 542.9L654.6 539.1L655.3 550.5L656.0 546.6L656.7 545.6L657.4 542.4L658.1 534.5L658.9 544.9L659.6 546.1L660.3 544.0L661.0 539.6L661.7 545.2L662.4 545.6L663.1 540.7L663.8 553.6L664.5 550.3L665.2 545.4L665.9 538.4L666.7 540.5L667.4 539.8L668.1 540.3L668.8 543.3L669.5 544.1L670.2 535.9L670.9 554.6L671.6 543.7L672.3 541.7L673.0 544.8L673.7 541.9L674.5 541.8L675.2 547.0L675.9 537.5L676.6 548.8L677.3 546.0L678.0 550.4L678.7 552.0L679.4 550.0L680.1 539.8L680.8 552.4L681.6 539.4L682.3 545.5L683.0 552.0L683.7 548.7L684.4 550.4L685.1 547.5L685.8 551.3L686.5 543.6L687.2 553.7L687.9 551.4L688.6 545.2L689.4 535.4L690.1 548.3L690.8 547.6L691.5 545.0L692.2 549.1L692.9 542.9L693.6 540.0L694.3 543.4L695.0 546.2L695.7 544.4L696.4 540.0L697.2 551.6L697.9 535.4L698.6 546.9L699.3 549.4L700.0 539.1L700.7 545.7L701.4 553.4L702.1 537.5L702.8 550.2L703.5 543.7L704.2 539.8L705.0 548.1L705.7 543.1L706.4 551.9L707.1 540.8L707.8 550.7L708.5 544.4L709.2 543.9L709.9 546.3L710.6 541.0L711.3 544.7L712.0 542.6L712.8 548.7L713.5 539.5L714.2 553.0L714.9 546.6L715.6 546.3L716.3 549.3L717.0 543.2L717.7 550.2L718.4 542.5L719.1 543.1L719.8 545.3L720.6 530.1L721.3 542.3L722.0 539.5L722.7 547.1L723.4 550.9L724.1 553.5L724.8 544.1L725.5 552.1L726.2 545.7L726.9 543.2L727.6 539.1L728.4 540.5L729.1 546.0L729.8 542.6L730.5 550.2L731.2 545.0L731.9 543.2L732.6 547.7L733.3 546.8L734.0 544.1L734.7 546.1L735.5 545.9L736.2 547.6L736.9 555.0L737.6 541.7L738.3 557.2L739.0 552.8L739.7 545.9L740.4 541.6L741.1 540.7L741.8 534.7L742.5 549.6L743.3 537.8L744.0 541.2L744.7 543.3L745.4 537.8L746.1 544.7L746.8 548.6L747.5 544.6L748.2 543.8L748.9 544.3L749.6 543.4L750.3 538.6L751.1 542.3L751.8 548.0L752.5 548.5L753.2 542.7L753.9 545.1L754.6 551.2L755.3 543.7L756.0 543.9L756.7 543.6L757.4 545.1L758.1 545.0L758.9 540.1L759.6 541.2L760.3 542.9L761.0 543.5L761.7 544.0L762.4 544.6L763.1 539.2L763.8 534.8L764.5 541.3L765.2 544.5L765.9 546.7L766.7 542.4L767.4 539.7L768.1 544.7L768.8 544.9L769.5 546.2L770.2 554.0L770.9 546.3L771.6 540.7L772.3 554.5L773.0 542.2L773.7 543.1L774.5 551.0L775.2 546.1L775.9 542.3L776.6 551.9L777.3 545.5L778.0 546.7L778.7 534.4L779.4 550.5L780.1 544.9L780.8 542.8L781.5 551.3L782.3 541.8L783.0 554.7L783.7 548.5L784.4 550.5L785.1 549.1L785.8 541.3L786.5 543.0L787.2 547.0L787.9 549.7L788.6 547.5L789.4 545.0L790.1 547.2L790.8 549.7L791.5 544.0L792.2 545.8L792.9 545.1L793.6 543.5L794.3 540.5L795.0 545.6L795.7 543.1L796.4 547.7L797.2 545.1L797.9 542.5L798.6 549.2L799.3 546.0L800.0 546.1L800.7 549.9L801.4 546.6L802.1 536.4L802.8 549.5L803.5 545.5L804.2 545.1L805.0 546.1L805.7 545.9L806.4 541.3L807.1 539.9L807.8 537.0L808.5 549.8L809.2 540.5L809.9 545.0L810.6 538.3L811.3 548.4L812.0 539.4L812.8 553.7L813.5 546.6L814.2 545.5L814.9 541.9L815.6 550.3L816.3 547.4"/>
<path stroke="#00f040" d="M107.8 504.7L108.5 502.4L109.2 511.6L109.9 504.4L110.6 508.7L111.3 496.7L112.1 496.3L112.8 507.4L113.5 498.7L114.2 509.2L114.9 506.3L115.6 500.7L116.3 496.6L117.0 504.8L117.7 505.9L118.4 513.4L119.1 499.7L119.9 502.7L120.6 504.5L121.3 506.5L122.0 503.8L122.7 499.8L123.4 500.4L124.1 504.4L124.8 505.1L125.5 500.9L126.2 506.9L126.9 509.5L127.7 509.4L128.4 506.1L129.1 494.1L129.8 498.4L130.5 506.8L131.2 498.4L131.9 495.5L132.6 495.9L133.3 506.3L134.0 499.8L134.7 513.9L135.5 505.2L136.2 499.7L136.9 497.0L137.6 502.9L138.3 506.0L139.0 500.0L139.7 516.4L140.4 508.0L141.1 500.8L141.8 502.3L142.6 513.7L143.3 505.7L144.0 496.6L144.7 512.5L145.4 505.8L146.1 499.5L146.8 511.0L147.5 495.7L148.2 503.3L148.9 504.3L149.6 498.2L150.4 497.5L151.1 499.0L151.8 505.3L152.5 492.1L153.2 505.3L153.9 502.0L154.6 504.4L155.3 501.9L156.0 502.7L156.7 497.4L157.4 503.4L158.2 496.4L158.9 507.6L159.6 505.2L160.3 495.8L161.0 504.7L161.7 507.7L162.4 505.4L163.1 503.2L163.8 504.6L164.5 503.5L165.2 505.4L166.0 504.9L166.7 504.9L167.4 495.7L168.1 493.5L168.8 498.0L169.5 494.9L170.2 498.6L170.9 493.6L171.6 498.1L172.3 500.6L173.0 492.0L173.8 495.3L174.5 489.2L175.2 498.6L175.9 491.1L176.6 494.4L177.3 500.4L178.0 504.0L178.7 491.1L179.4 491.7L180.1 490.3L180.8 485.1L181.6 482.8L182.3 485.0L183.0 474.2L183.7 476.7L184.4 476.6L185.1 488.6L185.8 473.7L186.5 483.1L187.2 476.5L187.9 471.7L188.6 457.0L189.4 466.4L190.1 470.3L190.8 458.7L191.5 463.2L192.2 452.9L192.9 455.2L193.6 457.9L194.3 454.7L195.0 450.0L195.7 437.9L196.5 435.9L197.2 424.4L197.9 417.2L198.6 409.2L199.3 397.1L200.0 391.2L200.7 372.0L201.4 349.5L202.1 341.1L202.8 327.1L203.5 305.4L204.3 316.6L205.0 294.9L205.7 287.2L206.4 284.8L207.1 288.9L207.8 279.4L208.5 269.7L209.2 272.3L209.9 277.1L210.6 258.2L211.3 268.8L212.1 270.9L212.8 252.3L213.5 267.3L214.2 270.9L214.9 252.0L215.6 271.0L216.3 284.1L217.0 306.8L217.7 306.1L218.4 310.2L219.1 311.0L219.9 340.1L220.6 352.5L221.3 361.5L222.0 376.9L222.7 391.4L223.4 408.5L224.1 410.9L224.8 420.9L225.5 434.0L226.2 441.6L226.9 439.0L227.7 463.9L228.4 468.4L229.1 457.7L229.8 468.9L230.5 460.3L231.2 475.5L231.9 487.3L232.6 475.7L233.3 481.4L234.0 466.2L234.7 480.3L235.5 479.1L236.2 472.9L236.9 480.2L237.6 479.5L238.3 490.6L239.0 482.0L239.7 484.0L240.4 488.1L241.1 491.3L241.8 486.0L242.5 496.6L243.3 494.2L244.0 493.7L244.7 494.0L245.4 489.0L246.1 494.6L246.8 492.6L247.5 490.1L248.2 499.7L248.9 500.9L249.6 495.7L250.4 497.0L251.1 487.9L251.8 491.1L252.5 499.9L253.2 497.4L253.9 507.3L254.6 507.3L255.3 496.8L256.0 497.5L256.7 499.4L257.4 487.0L258.2 494.6L258.9 499.1L259.6 504.4L260.3 503.0L261.0 501.1L261.7 505.2L262.4 507.0L263.1 495.7L263.8 501.1L264.5 509.4L265.2 506.1L266.0 505.0L266.7 501.0L267.4 503.1L268.1 505.7L268.8 500.3L269.5 515.0L270.2 494.8L270.9 497.0L271.6 496.7L272.3 506.0L273.0 504.0L273.8 501.4L274.5 504.0L275.2 503.2L275.9 499.1L276.6 505.6L277.3 500.6L278.0 506.6L278.7 497.4L279.4 499.4L280.1 510.6L280.8 505.8L281.6 502.3L282.3 505.3L283.0 505.2L283.7 490.0L284.4 495.1L285.1 504.0L285.8 501.5L286.5 503.6L287.2 503.8L287.9 508.8L288.6 494.1L289.4 499.1L290.1 494.5L290.8 501.7L291.5 488.9L292.2 493.7L292.9 493.8L293.6 509.7L294.3 491.9L295.0 503.8L295.7 516.0L296.4 496.2L297.2 498.7L297.9 504.5L298.6 504.2L299.3 501.6L300.0 503.7L300.7 500.9L301.4 503.6L302.1 498.3L302.8 482.7L303.5 505.4L304.3 499.7L305.0 498.5L305.7 496.8L306.4 498.5L307.1 500.3L307.8 498.8L308.5 501.7L309.2 508.2L309.9 498.9L310.6 500.7L311.3 500.5L312.1 500.8L312.8 506.8L313.5 499.3L314.2 501.4L314.9 495.1L315.6 502.9L316.3 509.1L317.0 504.5L317.7 499.2L318.4 506.4L319.1 498.1L319.9 501.4L320.6 500.3L321.3 497.6L322.0 502.8L322.7 497.6L323.4 493.2L324.1 500.8L324.8 505.8L325.5 502.7L326.2 495.6L326.9 495.3L327.7 505.0L328.4 499.1L329.1 495.4L329.8 498.1L330.5 498.6L331.2 506.5L331.9 499.8L332.6 507.5L333.3 493.1L334.0 498.8L334.7 501.3L335.5 501.7L336.2 500.2L336.9 503.5L337.6 499.7L338.3 498.8L339.0 506.0L339.7 499.1L340.4 508.4L341.1 503.2L341.8 499.1L342.5 501.1L343.3 502.9L344.0 508.3L344.7 492.9L345.4 509.0L346.1 497.0L346.8 506.2L347.5 508.5L348.2 500.5L348.9 498.4L349.6 499.8L350.3 496.2L351.1 502.3L351.8 502.6L352.5 501.8L353.2 503.9L353.9 502.5L354.6 505.6L355.3 503.4L356.0 502.4L356.7 500.3L357.4 508.7L358.2 498.9L358.9 494.9L359.6 499.6L360.3 510.3L361.0 497.5L361.7 498.2L362.4 490.8L363.1 505.3L363.8 497.8L364.5 497.4L365.2 507.0L366.0 504.4L366.7 502.7L367.4 499.7L368.1 497.1L368.8 497.7L369.5 505.1L370.2 504.0L370.9 502.4L371.6 492.9L372.3 507.1L373.0 508.9L373.8 496.7L374.5 505.1L375.2 499.7L375.9 506.5L376.6 495.7L377.3 492.1L378.0 504.5L378.7 509.9L379.4 500.7L380.1 496.9L380.8 492.0L381.6 494.0L382.3 502.5L383.0 496.0L383.7 505.8L384.4 497.3L385.1 496.6L385.8 492.8L386.5 494.6L387.2 496.0L387.9 494.1L388.6 499.0L389.4 493.2L390.1 498.3L390.8 493.4L391.5 507.5L392.2 495.2L392.9 493.9L393.6 511.2L394.3 493.6L395.0 495.5L395.7 492.5L396.4 494.6L397.2 498.3L397.9 498.0L398.6 503.9L399.3 501.1L400.0 490.6L400.7 496.7L401.4 498.0L402.1 495.4L402.8 499.0L403.5 482.1L404.2 495.3L405.0 488.0L405.7 492.9L406.4 495.0L407.1 497.1L407.8 482.5L408.5 486.6L409.2 485.5L409.9 483.6L410.6 486.3L411.3 488.2L412.1 484.6L412.8 485.7L413.5 479.4L414.2 493.3L414.9 479.0L415.6 485.0L416.3 472.7L417.0 475.3L417.7 479.2L418.4 469.8L419.1 490.7L419.9 477.5L420.6 469.4L421.3 479.3L422.0 483.5L422.7 476.6L423.4 477.2L424.1 474.4L424.8 476.1L425.5 484.6L426.2 479.0L426.9 479.9L427.7 489.7L428.4 483.4L429.1 479.0L429.8 477.5L430.5 480.8L431.2 479.3L431.9 477.3L432.6 494.2L433.3 487.3L434.0 481.1L434.7 479.1L435.5 481.4L436.2 481.1L436.9 487.4L437.6 492.3L438.3 489.0L439.0 479.0L439.7 476.7L440.4 479.3L441.1 483.1L441.8 481.9L442.5 479.1L443.3 489.2L444.0 484.0L444.7 478.3L445.4 480.0L446.1 479.3L446.8 471.4L447.5 472.6L448.2 467.5L448.9 479.1L449.6 477.8L450.3 481.3L451.1 468.8L451.8 481.0L452.5 485.8L453.2 481.1L453.9 478.7L454.6 478.6L455.3 482.8L456.0 482.9L456.7 476.8L457.4 480.3L458.1 488.6L458.9 493.8L459.6 495.7L460.3 482.0L461.0 483.1L461.7 488.7L462.4 485.4L463.1 501.9L463.8 483.2L464.5 497.6L465.2 490.1L466.0 498.5L466.7 498.6L467.4 496.8L468.1 491.7L468.8 491.2L469.5 493.5L470.2 502.3L470.9 495.6L471.6 498.1L472.3 493.8L473.0 489.0L473.8 502.1L474.5 487.2L475.2 496.7L475.9 500.9L476.6 495.9L477.3 502.0L478.0 497.8L478.7 498.8L479.4 496.1L480.1 494.3L480.8 491.5L481.6 495.0L482.3 497.2L483.0 491.4L483.7 497.8L484.4 509.4L485.1 506.4L485.8 502.9L486.5 495.3L487.2 496.7L487.9 507.5L488.6 495.4L489.4 499.8L490.1 501.8L490.8 499.1L491.5 500.0L492.2 504.5L492.9 512.3L493.6 502.9L494.3 504.7L495.0 497.6L495.7 493.8L496.4 507.8L497.2 504.1L497.9 499.1L498.6 497.6L499.3 499.1L500.0 510.6L500.7 494.7L501.4 501.1L502.1 505.6L502.8 493.3L503.5 494.8L504.2 502.8L505.0 498.5L505.7 502.4L506.4 501.7L507.1 504.8L507.8 499.4L508.5 507.0L509.2 507.5L509.9 504.6L510.6 503.8L511.3 498.4L512.0 502.9L512.8 500.4L513.5 499.0L514.2 509.5L514.9 497.9L515.6 493.8L516.3 491.4L517.0 503.8L517.7 503.0L518.4 498.7L519.1 489.3L519.9 497.5L520.6 504.1L521.3 496.9L522.0 507.9L522.7 497.7L523.4 499.2L524.1 504.9L524.8 488.2L525.5 505.0L526.2 498.4L526.9 498.2L527.7 503.0L528.4 503.4L529.1 504.0L529.8 507.6L530.5 500.0L531.2 495.7L531.9 495.9L532.6 505.3L533.3 508.0L534.0 496.9L534.7 509.9L535.5 500.7L536.2 500.1L536.9 503.2L537.6 493.4L538.3 507.9L539.0 502.5L539.7 500.8L540.4 504.9L541.1 499.5L541.8 501.7L542.5 499.4L543.3 507.7L544.0 502.0L544.7 505.3L545.4 507.7L546.1 501.0L546.8 516.4L547.5 500.6L548.2 493.8L548.9 504.0L549.6 498.5L550.3 509.0L551.1 503.9L551.8 500.9L552.5 497.8L553.2 513.1L553.9 507.9L554.6 513.3L555.3 509.0L556.0 495.4L556.7 499.0L557.4 497.8L558.1 492.4L558.9 492.8L559.6 507.3L560.3 496.0L561.0 499.9L561.7 497.2L562.4 499.6L563.1 505.7L563.8 496.3L564.5 508.1L565.2 502.6L565.9 499.3L566.7 503.0L567.4 502.3L568.1 509.7L568.8 500.9L569.5 512.7L570.2 505.8L570.9 504.1L571.6 500.6L572.3 502.3L573.0 496.6L573.8 500.3L574.5 500.3L575.2 505.5L575.9 503.2L576.6 501.9L577.3 503.0L578.0 502.1L578.7 507.2L579.4 507.8L580.1 501.8L580.8 499.1L581.6 498.8L582.3 507.1L583.0 502.3L583.7 499.3L584.4 506.5L585.1 504.0L585.8 500.0L586.5 497.2L587.2 498.5L587.9 499.6L588.6 493.9L589.4 497.8L590.1 501.6L590.8 499.7L591.5 509.5L592.2 497.2L592.9 508.8L593.6 498.7L594.3 501.0L595.0 494.5L595.7 505.0L596.4 502.9L597.2 497.2L597.9 497.9L598.6 509.0L599.3 495.7L600.0 504.9L600.7 501.1L601.4 505.1L602.1 505.4L602.8 505.5L603.5 510.2L604.2 506.0L605.0 495.6L605.7 508.1L606.4 497.1L607.1 498.6L607.8 501.4L608.5 503.2L609.2 492.9L609.9 504.1L610.6 499.4L611.3 503.6L612.0 495.0L612.8 512.5L613.5 505.5L614.2 507.3L614.9 499.9L615.6 505.5L616.3 494.5L617.0 496.1L617.7 504.0L618.4 508.4L619.1 499.2L619.8 507.4L620.6 506.0L621.3 495.8L622.0 492.8L622.7 491.4L623.4 504.6L624.1 501.8L624.8 505.8L625.5 506.0L626.2 505.8L626.9 493.5L627.7 497.0L628.4 500.7L629.1 508.0L629.8 503.1L630.5 499.2L631.2 502.5L631.9 505.2L632.6 504.7L633.3 505.1L634.0 505.9L634.7 504.9L635.5 508.8L636.2 500.3L636.9 506.8L637.6 497.8L638.3 495.4L639.0 495.5L639.7 503.0L640.4 500.2L641.1 494.6L641.8 503.9L642.5 505.3L643.3 500.1L644.0 506.1L644.7 499.7L645.4 509.0L646.1 498.0L646.8 509.0L647.5 501.4L648.2 496.8L648.9 499.4L649.6 504.8L650.3 503.2L651.1 498.6L651.8 499.5L652.5 509.1L653.2 504.2L653.9 503.3L654.6 496.9L655.3 505.7L656.0 502.4L656.7 498.5L657.4 501.6L658.1 502.3L658.9 502.8L659.6 496.8L660.3 497.5L661.0 505.9L661.7 505.1L662.4 499.9L663.1 503.7L663.8 502.1L664.5 494.9L665.2 500.8L665.9 497.7L666.7 495.1L667.4 501.3L668.1 498.8L668.8 497.3L669.5 495.0L670.2 501.2L670.9 511.9L671.6 503.5L672.3 502.7L673.0 502.5L673.7 504.1L674.5 499.1L675.2 500.1L675.9 496.7L676.6 502.1L677.3 500.0L678.0 499.6L678.7 497.4L679.4 506.3L680.1 505.5L680.8 497.8L681.6 498.5L682.3 504.0L683.0 500.9L683.7 501.5L684.4 502.9L685.1 501.4L685.8 501.0L686.5 506.9L687.2 496.7L687.9 506.1L688.6 507.3L689.4 501.8L690.1 504.7L690.8 501.8L691.5 506.0L692.2 498.2L692.9 503.6L693.6 503.7L694.3 504.4L695.0 506.4L695.7 506.0L696.4 496.0L697.2 496.6L697.9 507.0L698.6 499.2L699.3 500.0L700.0 497.3L700.7 506.1L701.4 497.5L702.1 500.4L702.8 500.4L703.5 503.3L704.2 489.7L705.0 506.6L705.7 508.6L706.4 500.3L707.1 502.3L707.8 502.2L708.5 501.8L709.2 509.5L709.9 507.4L710.6 501.5L711.3 496.9L712.0 503.5L712.8 503.4L713.5 494.6L714.2 503.6L714.9 514.3L715.6 502.1L716.3 502.3L717.0 504.4L717.7 496.2L718.4 499.4L719.1 512.6L719.8 506.9L720.6 507.4L721.3 499.6L722.0 499.7L722.7 503.9L723.4 502.2L724.1 509.3L724.8 503.2L725.5 505.1L726.2 508.9L726.9 502.1L727.6 505.4L728.4 500.7L729.1 502.9L729.8 503.1L730.5 501.8L731.2 504.6L731.9 497.7L732.6 504.6L733.3 499.1L734.0 502.1L734.7 507.1L735.5 503.5L736.2 506.7L736.9 501.3L737.6 506.7L738.3 505.9L739.0 507.9L739.7 500.9L740.4 505.4L741.1 506.1L741.8 511.1L742.5 495.7L743.3 498.7L744.0 497.0L744.7 499.0L745.4 497.3L746.1 503.7L746.8 501.9L747.5 499.7L748.2 498.5L748.9 501.5L749.6 504.1L750.3 515.7L751.1 501.9L751.8 505.8L752.5 507.0L753.2 509.5L753.9 505.2L754.6 500.8L755.3 501.5L756.0 507.6L756.7 506.1L757.4 499.2L758.1 504.5L758.9 502.9L759.6 496.2L760.3 497.8L761.0 506.6L761.7 512.6L762.4 503.7L763.1 501.0L763.8 495.9L764.5 497.9L765.2 500.0L765.9 502.5L766.7 503.1L767.4 503.7L768.1 506.7L768.8 503.0L769.5 490.7L770.2 500.9L770.9 501.4L771.6 509.8L772.3 512.1L773.0 500.3L773.7 501.7L774.5 499.4L775.2 499.3L775.9 502.5L776.6 500.6L777.3 502.1L778.0 500.3L778.7 496.5L779.4 507.3L780.1 497.3L780.8 501.3L781.5 502.1L782.3 494.2L783.0 501.3L783.7 495.9L784.4 502.6L785.1 503.9L785.8 493.9L786.5 498.5L787.2 498.8L787.9 506.8L788.6 498.6L789.4 500.3L790.1 506.7L790.8 511.1L791.5 504.1L792.2 498.2L792.9 505.8L793.6 515.4L794.3 507.3L795.0 508.8L795.7 507.5L796.4 503.3L797.2 498.7L797.9 507.3L798.6 499.6L799.3 503.5L800.0 504.9L800.7 496.5L801.4 506.7L802.1 500.6L802.8 506.1L803.5 506.0L804.2 504.6L805.0 505.2L805.7 508.9L806.4 506.4L807.1 507.5L807.8 500.5L808.5 500.6L809.2 490.7L809.9 503.1L810.6 501.5L811.3 492.9L812.0 502.5L812.8 501.6L813.5 493.4L814.2 502.4L814.9 501.5L815.6 497.4L816.3 496.2"/>
<path stroke="#20f010" d="M107.8 461.0L108.5 457.8L109.2 466.6L109.9 458.9L110.6 445.2L111.3 459.5L112.1 462.0L112.8 464.6L113.5 451.0L114.2 461.7L114.9 458.5L115.6 446.2L116.3 460.3L117.0 454.8L117.7 455.4L118.4 461.9L119.1 464.4L119.9 446.8L120.6 450.8L121.3 458.9L122.0 444.5L122.7 461.0L123.4 459.5L124.1 464.8L124.8 457.6L125.5 456.1L126.2 461.1L126.9 460.9L127.7 464.6L128.4 465.2L129.1 463.2L129.8 453.2L130.5 458.8L131.2 457.9L131.9 450.9L132.6 453.2L133.3 456.1L134.0 454.2L134.7 461.5L135.5 461.3L136.2 449.3L136.9 449.8L137.6 454.3L138.3 450.4L139.0 458.1L139.7 457.8L140.4 459.2L141.1 466.5L141.8 466.5L142.6 459.2L143.3 464.9L144.0 461.3L144.7 450.4L145.4 458.6L146.1 461.3L146.8 455.9L147.5 458.1L148.2 461.6L148.9 466.0L149.6 455.3L150.4 459.0L151.1 462.2L151.8 466.0L152.5 459.2L153.2 462.7L153.9 463.3L154.6 456.7L155.3 461.7L156.0 455.5L156.7 453.7L157.4 460.9L158.2 459.2L158.9 459.2L159.6 460.5L160.3 456.6L161.0 461.2L161.7 461.5L162.4 464.1L163.1 457.2L163.8 455.3L164.5 453.4L165.2 458.6L166.0 459.4L166.7 464.7L167.4 456.2L168.1 453.2L168.8 454.2L169.5 455.6L170.2 447.2L170.9 455.6L171.6 459.9L172.3 456.2L173.0 451.1L173.8 452.6L174.5 440.1L175.2 451.6L175.9 447.3L176.6 453.4L177.3 454.5L178.0 443.7L178.7 442.6L179.4 454.9L180.1 441.9L180.8 440.2L181.6 433.6L182.3 440.7L183.0 442.8L183.7 439.7L184.4 433.1L185.1 441.7L185.8 431.7L186.5 432.9L187.2 434.2L187.9 436.1L188.6 428.9L189.4 420.7L190.1 421.3L190.8 416.4L191.5 430.8L192.2 415.8L192.9 419.0L193.6 406.8L194.3 407.6L195.0 392.5L195.7 402.2L196.5 389.9L197.2 401.5L197.9 360.1L198.6 371.2L199.3 359.9L200.0 339.0L200.7 316.2L201.4 321.7L202.1 296.9L202.8 302.6L203.5 272.5L204.3 270.6L205.0 257.0L205.7 252.3L206.4 253.5L207.1 250.9L207.8 237.5L208.5 235.2L209.2 230.0L209.9 235.0L210.6 241.1L211.3 239.1L212.1 243.8L212.8 244.6L213.5 239.9L214.2 241.3L214.9 249.8L215.6 260.4L216.3 260.0L217.0 283.9L217.7 276.2L218.4 287.9L219.1 310.2L219.9 319.2L220.6 321.0L221.3 334.1L222.0 354.0L222.7 361.5L223.4 392.1L224.1 379.1L224.8 383.6L225.5 405.8L226.2 421.4L226.9 412.0L227.7 410.7L228.4 423.1L229.1 416.5L229.8 423.1L230.5 428.4L231.2 426.6L231.9 425.7L232.6 432.4L233.3 441.9L234.0 444.9L234.7 447.8L235.5 447.0L236.2 433.4L236.9 436.9L237.6 448.3L238.3 437.6L239.0 450.0L239.7 443.4L240.4 445.2L241.1 450.6L241.8 449.4L242.5 452.6L243.3 450.4L244.0 445.8L244.7 455.8L245.4 448.8L246.1 458.0L246.8 444.6L247.5 459.0L248.2 460.7L248.9 456.1L249.6 456.6L250.4 456.7L251.1 454.5L251.8 463.6L252.5 448.9L253.2 460.0L253.9 458.7L254.6 460.6L255.3 458.8L256.0 451.8L256.7 458.0L257.4 455.3L258.2 444.7L258.9 452.1L259.6 455.2L260.3 464.7L261.0 454.3L261.7 453.6L262.4 458.5L263.1 466.2L263.8 459.7L264.5 462.7L265.2 452.9L266.0 456.6L266.7 457.3L267.4 462.7L268.1 462.2L268.8 454.9L269.5 454.7L270.2 451.8L270.9 457.5L271.6 458.8L272.3 455.8L273.0 463.5L273.8 459.9L274.5 461.6L275.2 454.6L275.9 465.1L276.6 462.1L277.3 459.2L278.0 456.9L278.7 459.8L279.4 457.5L280.1 460.4L280.8 464.6L281.6 458.8L282.3 452.8L283.0 459.4L283.7 459.3L284.4 457.9L285.1 456.9L285.8 458.7L286.5 466.3L287.2 454.3L287.9 450.5L288.6 462.9L289.4 461.7L290.1 457.3L290.8 460.5L291.5 468.7L292.2 449.1L292.9 463.2L293.6 452.2L294.3 460.5L295.0 461.3L295.7 465.2L296.4 459.2L297.2 457.9L297.9 452.1L298.6 458.5L299.3 459.4L300.0 458.5L300.7 462.5L301.4 455.4L302.1 453.2L302.8 458.5L303.5 456.8L304.3 458.0L305.0 461.2L305.7 451.0L306.4 463.2L307.1 455.0L307.8 454.4L308.5 463.5L309.2 454.9L309.9 466.1L310.6 454.3L311.3 466.4L312.1 452.7L312.8 457.8L313.5 467.6L314.2 465.0L314.9 462.9L315.6 462.1L316.3 462.1L317.0 461.2L317.7 458.8L318.4 464.5L319.1 460.5L319.9 459.2L320.6 445.2L321.3 457.8L322.0 463.2L322.7 457.5L323.4 451.9L324.1 454.1L324.8 460.2L325.5 454.1L326.2 466.3L326.9 457.2L327.7 454.5L328.4 461.2L329.1 451.2L329.8 459.1L330.5 458.3L331.2 463.8L331.9 458.7L332.6 457.7L333.3 457.0L334.0 462.9L334.7 458.9L335.5 459.2L336.2 456.1L336.9 460.2L337.6 460.7L338.3 445.3L339.0 450.7L339.7 463.4L340.4 452.7L341.1 462.4L341.8 457.9L342.5 458.2L343.3 459.0L344.0 458.9L344.7 460.0L345.4 455.8L346.1 452.4L346.8 450.7L347.5 471.9L348.2 450.2L348.9 460.3L349.6 466.4L350.3 459.0L351.1 447.0L351.8 450.9L352.5 451.5L353.2 461.8L353.9 449.8L354.6 449.4L355.3 449.8L356.0 452.5L356.7 459.4L357.4 461.7L358.2 461.5L358.9 457.9L359.6 457.8L360.3 459.1L361.0 461.0L361.7 467.0L362.4 460.3L363.1 462.1L363.8 455.0L364.5 451.9L365.2 455.9L366.0 454.2L366.7 456.1L367.4 457.9L368.1 462.7L368.8 461.7L369.5 458.0L370.2 464.1L370.9 453.2L371.6 458.6L372.3 457.1L373.0 459.0L373.8 461.5L374.5 459.7L375.2 454.6L375.9 454.5L376.6 458.3L377.3 459.5L378.0 456.9L378.7 463.0L379.4 458.6L380.1 463.6L380.8 460.6L381.6 452.9L382.3 456.2L383.0 462.6L383.7 460.8L384.4 456.3L385.1 462.8L385.8 456.8L386.5 449.5L387.2 455.6L387.9 451.0L388.6 456.4L389.4 449.1L390.1 455.9L390.8 456.1L391.5 450.3L392.2 458.5L392.9 457.4L393.6 457.9L394.3 454.7L395.0 456.8L395.7 445.6L396.4 461.8L397.2 452.0L397.9 458.8L398.6 454.1L399.3 448.3L400.0 457.1L400.7 465.2L401.4 450.6L402.1 446.4L402.8 452.8L403.5 455.3L404.2 454.7L405.0 449.9L405.7 453.7L406.4 459.4L407.1 453.2L407.8 449.5L408.5 448.8L409.2 446.6L409.9 442.8L410.6 436.8L411.3 451.1L412.1 440.0L412.8 443.1L413.5 441.4L414.2 448.1L414.9 433.0L415.6 447.2L416.3 436.3L417.0 420.4L417.7 432.4L418.4 423.7L419.1 430.8L419.9 429.8L420.6 420.1L421.3 418.5L422.0 424.3L422.7 427.0L423.4 424.8L424.1 423.3L424.8 429.0L425.5 418.9L426.2 430.5L426.9 431.0L427.7 434.8L428.4 439.3L429.1 431.1L429.8 438.9L430.5 434.5L431.2 437.9L431.9 424.1L432.6 435.6L433.3 429.0L434.0 452.1L434.7 441.0L435.5 438.5L436.2 448.2L436.9 440.9L437.6 446.4L438.3 434.9L439.0 444.2L439.7 443.7L440.4 430.7L441.1 443.3L441.8 447.9L442.5 439.0L443.3 445.0L444.0 447.2L444.7 437.4L445.4 434.9L446.1 445.0L446.8 430.7L447.5 443.9L448.2 435.0L448.9 426.5L449.6 428.5L450.3 437.8L451.1 432.3L451.8 434.7L452.5 439.7L453.2 424.9L453.9 415.6L454.6 435.0L455.3 439.9L456.0 434.6L456.7 430.2L457.4 430.2L458.1 438.7L458.9 429.7L459.6 441.7L460.3 437.5L461.0 427.0L461.7 439.4L462.4 441.8L463.1 440.5L463.8 445.9L464.5 445.4L465.2 451.5L466.0 453.7L466.7 455.4L467.4 445.9L468.1 456.6L468.8 448.3L469.5 438.5L470.2 447.0L470.9 454.5L471.6 450.1L472.3 445.1L473.0 456.1L473.8 447.1L474.5 462.0L475.2 459.5L475.9 448.8L476.6 460.7L477.3 447.2L478.0 457.1L478.7 453.1L479.4 455.6L480.1 460.5L480.8 451.4L481.6 455.8L482.3 451.0L483.0 463.2L483.7 468.6L484.4 456.5L485.1 456.6L485.8 457.7L486.5 453.6L487.2 455.1L487.9 465.2L488.6 463.8L489.4 460.6L490.1 457.5L490.8 458.2L491.5 456.0L492.2 469.2L492.9 453.1L493.6 458.4L494.3 456.5L495.0 450.5L495.7 455.0L496.4 460.6L497.2 459.7L497.9 451.2L498.6 457.0L499.3 454.1L500.0 457.9L500.7 448.5L501.4 443.8L502.1 459.2L502.8 458.1L503.5 459.4L504.2 462.0L505.0 446.4L505.7 449.1L506.4 464.9L507.1 462.1L507.8 453.0L508.5 457.1L509.2 451.9L509.9 460.7L510.6 450.0L511.3 465.2L512.0 455.9L512.8 460.3L513.5 457.8L514.2 454.4L514.9 459.9L515.6 459.8L516.3 460.7L517.0 449.4L517.7 465.5L518.4 459.5L519.1 453.7L519.9 464.1L520.6 465.5L521.3 456.6L522.0 467.5L522.7 470.0L523.4 457.9L524.1 460.1L524.8 454.3L525.5 462.7L526.2 454.4L526.9 461.1L527.7 463.8L528.4 452.8L529.1 452.3L529.8 463.1L530.5 460.6L531.2 458.4L531.9 456.1L532.6 459.1L533.3 460.7L534.0 451.1L534.7 456.9L535.5 465.5L536.2 463.7L536.9 461.7L537.6 453.7L538.3 453.3L539.0 463.2L539.7 452.1L540.4 455.6L541.1 454.0L541.8 455.5L542.5 462.8L543.3 463.6L544.0 451.8L544.7 462.2L545.4 455.7L546.1 453.9L546.8 459.4L547.5 453.4L548.2 453.5L548.9 448.6L549.6 457.0L550.3 458.4L551.1 457.8L551.8 463.8L552.5 456.6L553.2 462.1L553.9 458.2L554.6 455.6L555.3 457.7L556.0 464.6L556.7 453.6L557.4 457.2L558.1 462.4L558.9 458.6L559.6 450.6L560.3 459.4L561.0 459.3L561.7 455.1L562.4 454.1L563.1 459.1L563.8 464.9L564.5 460.5L565.2 463.8L565.9 451.1L566.7 455.7L567.4 459.7L568.1 469.1L568.8 461.6L569.5 452.7L570.2 456.4L570.9 460.1L571.6 474.3L572.3 459.4L573.0 461.8L573.8 453.7L574.5 459.9L575.2 456.8L575.9 453.3L576.6 461.9L577.3 464.8L578.0 462.7L578.7 456.4L579.4 449.1L580.1 454.9L580.8 461.9L581.6 448.3L582.3 460.6L583.0 456.4L583.7 459.7L584.4 453.6L585.1 462.2L585.8 458.4L586.5 454.2L587.2 459.2L587.9 457.9L588.6 457.3L589.4 466.0L590.1 457.2L590.8 463.9L591.5 461.1L592.2 461.4L592.9 460.6L593.6 455.1L594.3 461.8L595.0 455.1L595.7 459.2L596.4 461.2L597.2 461.4L597.9 458.4L598.6 457.8L599.3 462.9L600.0 457.9L600.7 460.4L601.4 459.0L602.1 459.7L602.8 459.8L603.5 463.5L604.2 450.2L605.0 454.4L605.7 461.8L606.4 461.4L607.1 461.1L607.8 452.4L608.5 464.5L609.2 454.3L609.9 461.2L610.6 461.0L611.3 465.0L612.0 455.7L612.8 451.9L613.5 455.8L614.2 461.9L614.9 468.3L615.6 460.6L616.3 456.6L617.0 465.5L617.7 457.8L618.4 463.2L619.1 465.5L619.8 465.5L620.6 452.3L621.3 460.6L622.0 466.3L622.7 462.1L623.4 470.0L624.1 467.0L624.8 467.4L625.5 457.3L626.2 453.6L626.9 462.9L627.7 453.1L628.4 463.6L629.1 452.4L629.8 455.7L630.5 457.0L631.2 460.9L631.9 472.7L632.6 459.2L633.3 462.1L634.0 458.6L634.7 456.0L635.5 457.7L636.2 460.7L636.9 456.3L637.6 459.6L638.3 463.0L639.0 456.2L639.7 461.8L640.4 463.0L641.1 454.2L641.8 460.7L642.5 458.9L643.3 465.7L644.0 457.6L644.7 448.6L645.4 457.3L646.1 457.3L646.8 463.7L647.5 455.5L648.2 467.4L648.9 465.1L649.6 459.2L650.3 449.7L651.1 455.7L651.8 462.2L652.5 468.2L653.2 457.2L653.9 469.1L654.6 468.6L655.3 460.5L656.0 460.5L656.7 467.9L657.4 464.2L658.1 459.1L658.9 462.3L659.6 458.7L660.3 456.2L661.0 452.8L661.7 451.1L662.4 455.9L663.1 459.4L663.8 460.5L664.5 447.3L665.2 459.9L665.9 460.6L666.7 463.8L667.4 451.3L668.1 456.8L668.8 463.5L669.5 469.7L670.2 463.8L670.9 461.3L671.6 459.7L672.3 465.2L673.0 461.8L673.7 457.0L674.5 452.7L675.2 455.6L675.9 457.1L676.6 448.3L677.3 459.5L678.0 455.2L678.7 466.2L679.4 464.7L680.1 461.8L680.8 463.2L681.6 467.3L682.3 463.3L683.0 460.6L683.7 466.0L684.4 454.9L685.1 460.6L685.8 455.5L686.5 460.2L687.2 462.0L687.9 460.3L688.6 459.7L689.4 462.5L690.1 457.3L690.8 460.7L691.5 450.2L692.2 451.9L692.9 462.1L693.6 453.6L694.3 457.8L695.0 459.6L695.7 452.4L696.4 465.7L697.2 460.4L697.9 458.8L698.6 455.1L699.3 462.9L700.0 459.1L700.7 458.2L701.4 462.3L702.1 455.1L702.8 454.3L703.5 462.0L704.2 453.3L705.0 462.0L705.7 458.1L706.4 456.7L707.1 459.2L707.8 453.9L708.5 464.1L709.2 459.4L709.9 462.9L710.6 448.8L711.3 450.7L712.0 460.4L712.8 456.8L713.5 454.6L714.2 460.7L714.9 469.7L715.6 462.8L716.3 460.7L717.0 463.7L717.7 461.7L718.4 460.2L719.1 461.5L719.8 456.0L720.6 455.1L721.3 465.1L722.0 465.4L722.7 455.5L723.4 456.6L724.1 453.9L724.8 462.2L725.5 455.5L726.2 454.7L726.9 458.4L727.6 458.8L728.4 454.8L729.1 469.7L729.8 457.3L730.5 457.9L731.2 455.3L731.9 454.1L732.6 459.5L733.3 462.2L734.0 463.2L734.7 454.4L735.5 465.6L736.2 462.9L736.9 461.9L737.6 456.3L738.3 464.6L739.0 461.9L739.7 459.9L740.4 456.8L741.1 460.2L741.8 453.2L742.5 461.1L743.3 457.7L744.0 455.7L744.7 462.9L745.4 457.9L746.1 460.4L746.8 461.5L747.5 460.5L748.2 454.3L748.9 466.0L749.6 459.3L750.3 449.7L751.1 467.3L751.8 457.7L752.5 449.5L753.2 458.4L753.9 446.6L754.6 459.8L755.3 455.8L756.0 459.9L756.7 462.8L757.4 455.1L758.1 457.0L758.9 466.2L759.6 457.7L760.3 455.3L761.0 454.3L761.7 454.1L762.4 455.5L763.1 451.3L763.8 464.6L764.5 463.7L765.2 457.9L765.9 454.8L766.7 455.9L767.4 462.7L768.1 457.7L768.8 455.0L769.5 460.3L770.2 457.8L770.9 457.3L771.6 460.0L772.3 449.7L773.0 459.5L773.7 462.4L774.5 453.3L775.2 462.1L775.9 453.2L776.6 462.3L777.3 455.3L778.0 459.7L778.7 461.1L779.4 460.0L780.1 468.5L780.8 468.3L781.5 454.8L782.3 448.7L783.0 465.6L783.7 462.6L784.4 455.0L785.1 460.1L785.8 456.3L786.5 467.6L787.2 457.0L787.9 463.5L788.6 454.5L789.4 460.2L790.1 456.4L790.8 458.6L791.5 463.5L792.2 451.8L792.9 458.7L793.6 456.0L794.3 447.7L795.0 457.1L795.7 465.1L796.4 469.5L797.2 466.3L797.9 456.7L798.6 465.6L799.3 461.7L800.0 461.6L800.7 456.2L801.4 459.5L802.1 459.9L802.8 463.2L803.5 463.0L804.2 467.3L805.0 462.0L805.7 454.3L806.4 462.6L807.1 461.8L807.8 466.6L808.5 457.4L809.2 464.5L809.9 458.6L810.6 453.2L811.3 464.1L812.0 453.3L812.8 459.7L813.5 464.9L814.2 453.4L814.9 468.6L815.6 457.1L816.3 460.7"/>
<path stroke="#80ff10" d="M107.8 418.8L108.5 432.6L109.2 411.5L109.9 416.2L110.6 404.9L111.3 410.5L112.1 418.7L112.8 412.8L113.5 411.3L114.2 421.4L114.9 420.4L115.6 416.0L116.3 429.0L117.0 428.5L117.7 415.8L118.4 417.8L119.1 419.5L119.9 403.1L120.6 415.1L121.3 409.4L122.0 414.7L122.7 416.4L123.4 418.9L124.1 424.7L124.8 416.3L125.5 419.2L126.2 412.2L126.9 420.5L127.7 420.5L128.4 416.0L129.1 425.2L129.8 420.8L130.5 416.5L131.2 417.9L131.9 418.0L132.6 415.7L133.3 415.1L134.0 402.9L134.7 416.8L135.5 420.4L136.2 410.8L136.9 414.1L137.6 417.1L138.3 408.1L139.0 425.2L139.7 414.3L140.4 418.1L141.1 414.4L141.8 414.4L142.6 414.4L143.3 412.3L144.0 419.6L144.7 418.9L145.4 411.2L146.1 416.0L146.8 417.9L147.5 421.0L148.2 416.1L148.9 421.9L149.6 408.4L150.4 402.7L151.1 412.7L151.8 419.5L152.5 410.6L153.2 423.2L153.9 412.5L154.6 416.3L155.3 410.8L156.0 418.1L156.7 414.4L157.4 410.0L158.2 416.3L158.9 408.1L159.6 416.6L160.3 415.5L161.0 407.3L161.7 416.3L162.4 414.5L163.1 417.6L163.8 418.5L164.5 407.7L165.2 412.2L166.0 419.0L166.7 416.1L167.4 413.2L168.1 408.4L168.8 409.4L169.5 410.0L170.2 417.6L170.9 401.4L171.6 413.6L172.3 410.0L173.0 411.6L173.8 403.3L174.5 407.6L175.2 404.9L175.9 407.9L176.6 408.3L177.3 404.7L178.0 402.0L178.7 399.8L179.4 398.9L180.1 397.3L180.8 411.2L181.6 398.7L182.3 395.8L183.0 391.8L183.7 398.7L184.4 401.3L185.1 401.4L185.8 396.4L186.5 398.8L187.2 389.6L187.9 381.9L188.6 391.7L189.4 388.4L190.1 386.2L190.8 386.8L191.5 371.9L192.2 381.6L192.9 367.1L193.6 370.4L194.3 371.8L195.0 360.2L195.7 354.0L196.5 352.7L197.2 340.5L197.9 320.9L198.6 315.8L199.3 325.0L200.0 288.7L200.7 279.5L201.4 269.9L202.1 239.8L202.8 268.3L203.5 243.4L204.3 231.3L205.0 248.1L205.7 220.5L206.4 225.6L207.1 230.3L207.8 205.1L208.5 211.8L209.2 226.3L209.9 217.5L210.6 229.3L211.3 197.0L212.1 230.5L212.8 219.6L213.5 227.2L214.2 215.5L214.9 230.9L215.6 237.0L216.3 241.0L217.0 257.0L217.7 258.9L218.4 262.6L219.1 271.8L219.9 315.1L220.6 308.5L221.3 314.2L222.0 328.3L222.7 331.4L223.4 349.0L224.1 350.3L224.8 370.2L225.5 376.2L226.2 383.8L226.9 374.5L227.7 378.7L228.4 375.9L229.1 385.3L229.8 385.7L230.5 393.7L231.2 384.3L231.9 391.4L232.6 393.3L233.3 386.0L234.0 403.4L234.7 396.1L235.5 398.6L236.2 397.5L236.9 398.8L237.6 397.9L238.3 410.6L239.0 403.7L239.7 409.1L240.4 405.3L241.1 413.3L241.8 404.0L242.5 405.7L243.3 400.2L244.0 417.5L244.7 415.3L245.4 411.2L246.1 411.3L246.8 420.2L247.5 417.3L248.2 414.7L248.9 409.7L249.6 410.8L250.4 413.5L251.1 405.2L251.8 407.3L252.5 410.7L253.2 412.8L253.9 410.1L254.6 413.5L255.3 405.9L256.0 420.8L256.7 415.9L257.4 415.5L258.2 413.7L258.9 418.5L259.6 423.9L260.3 416.5L261.0 408.2L261.7 418.0L262.4 412.7L263.1 412.3L263.8 414.8L264.5 417.7L265.2 416.2L266.0 408.5L266.7 413.6L267.4 414.7L268.1 416.8L268.8 415.1L269.5 409.5L270.2 409.8L270.9 414.4L271.6 414.4L272.3 409.1L273.0 408.6L273.8 413.0L274.5 419.3L275.2 426.9L275.9 421.8L276.6 416.7L277.3 414.3L278.0 417.2L278.7 419.3L279.4 411.0L280.1 416.6L280.8 419.6L281.6 421.3L282.3 412.6L283.0 418.2L283.7 413.9L284.4 414.5L285.1 415.1L285.8 415.9L286.5 413.9L287.2 421.6L287.9 413.6L288.6 418.0L289.4 418.5L290.1 416.1L290.8 417.7L291.5 415.5L292.2 418.8L292.9 405.7L293.6 423.4L294.3 415.4L295.0 419.0L295.7 422.5L296.4 414.8L297.2 409.6L297.9 418.6L298.6 409.8L299.3 423.0L300.0 415.7L300.7 420.9L301.4 422.7L302.1 420.2L302.8 420.3L303.5 414.9L304.3 408.5L305.0 412.4L305.7 408.5L306.4 417.0L307.1 419.1L307.8 409.1L308.5 409.0L309.2 419.9L309.9 416.5L310.6 412.6L311.3 415.8L312.1 421.2L312.8 413.6L313.5 424.1L314.2 404.4L314.9 413.6L315.6 421.1L316.3 410.6L317.0 409.3L317.7 409.7L318.4 414.9L319.1 421.9L319.9 419.9L320.6 407.1L321.3 417.0L322.0 419.7L322.7 417.9L323.4 423.7L324.1 418.1L324.8 414.8L325.5 418.9L326.2 407.5L326.9 420.5L327.7 410.3L328.4 413.5L329.1 408.0L329.8 414.2L330.5 424.9L331.2 421.8L331.9 415.0L332.6 420.1L333.3 410.1L334.0 423.9L334.7 412.2L335.5 417.7L336.2 413.6L336.9 411.6L337.6 425.5L338.3 418.9L339.0 413.8L339.7 415.4L340.4 422.4L341.1 418.4L341.8 416.4L342.5 417.9L343.3 413.0L344.0 408.1L344.7 413.1L345.4 422.0L346.1 420.4L346.8 412.5L347.5 410.9L348.2 419.1L348.9 418.4L349.6 426.5L350.3 409.7L351.1 415.9L351.8 418.1L352.5 412.2L353.2 413.5L353.9 409.1L354.6 419.9L355.3 414.6L356.0 420.5L356.7 415.5L357.4 418.0L358.2 422.4L358.9 420.3L359.6 412.8L360.3 419.1L361.0 415.7L361.7 426.6L362.4 413.8L363.1 427.4L363.8 417.8L364.5 414.7L365.2 404.8L366.0 414.1L366.7 419.7L367.4 417.7L368.1 413.7L368.8 413.3L369.5 416.8L370.2 410.9L370.9 411.9L371.6 418.9L372.3 414.1L373.0 412.4L373.8 421.2L374.5 419.3L375.2 413.9L375.9 416.1L376.6 411.0L377.3 411.9L378.0 417.1L378.7 409.8L379.4 414.4L380.1 411.0L380.8 400.8L381.6 417.9L382.3 422.2L383.0 409.9L383.7 417.4L384.4 417.5L385.1 409.0L385.8 416.0L386.5 425.5L387.2 407.6L387.9 415.4L388.6 418.2L389.4 412.3L390.1 413.2L390.8 417.6L391.5 409.5L392.2 419.5L392.9 412.2L393.6 415.1L394.3 410.1L395.0 410.5L395.7 417.1L396.4 415.5L397.2 404.2L397.9 408.3L398.6 408.0L399.3 407.1L400.0 410.2L400.7 418.8L401.4 413.4L402.1 412.1L402.8 410.2L403.5 421.0L404.2 402.7L405.0 413.0L405.7 405.6L406.4 420.0L407.1 406.7L407.8 412.2L408.5 401.6L409.2 410.7L409.9 400.0L410.6 399.3L411.3 410.3L412.1 408.9L412.8 406.7L413.5 402.1L414.2 399.5L414.9 404.7L415.6 400.8L416.3 397.8L417.0 392.7L417.7 398.8L418.4 391.1L419.1 388.4L419.9 384.3L420.6 392.2L421.3 380.1L422.0 377.9L422.7 383.3L423.4 384.7L424.1 381.8L424.8 387.4L425.5 386.0L426.2 381.4L426.9 389.2L427.7 390.2L428.4 390.9L429.1 390.6L429.8 387.3L430.5 388.8L431.2 402.2L431.9 396.1L432.6 397.7L433.3 393.8L434.0 393.2L434.7 401.4L435.5 402.4L436.2 410.8L436.9 398.0L437.6 399.0L438.3 401.7L439.0 408.3L439.7 402.3L440.4 404.0L441.1 405.7L441.8 402.5L442.5 409.4L443.3 405.0L444.0 414.9L444.7 398.9L445.4 390.3L446.1 408.4L446.8 395.7L447.5 397.7L448.2 399.2L448.9 391.3L449.6 402.1L450.3 392.3L451.1 395.9L451.8 393.4L452.5 400.9L453.2 392.3L453.9 388.3L454.6 390.6L455.3 400.9L456.0 385.4L456.7 389.8L457.4 390.8L458.1 389.3L458.9 397.2L459.6 389.8L460.3 394.4L461.0 399.2L461.7 398.9L462.4 395.1L463.1 388.9L463.8 404.5L464.5 416.8L465.2 401.9L466.0 408.8L466.7 406.5L467.4 408.4L468.1 403.9L468.8 406.6L469.5 411.9L470.2 410.0L470.9 412.6L471.6 410.6L472.3 410.4L473.0 405.7L473.8 417.2L474.5 404.4L475.2 416.1L475.9 408.7L476.6 399.0L477.3 412.2L478.0 405.2L478.7 410.5L479.4 414.4L480.1 405.7L480.8 419.5L481.6 409.5L482.3 413.8L483.0 408.7L483.7 408.5L484.4 410.5L485.1 413.3L485.8 407.9L486.5 419.3L487.2 408.6L487.9 407.6L488.6 416.2L489.4 412.5L490.1 411.2L490.8 407.2L491.5 412.8L492.2 414.8L492.9 415.6L493.6 418.5L494.3 422.7L495.0 407.3L495.7 408.3L496.4 410.0L497.2 416.0L497.9 409.2L498.6 407.6L499.3 414.5L500.0 412.1L500.7 420.5L501.4 413.0L502.1 406.3L502.8 409.1L503.5 409.5L504.2 411.6L505.0 417.1L505.7 419.7L506.4 418.2L507.1 415.2L507.8 416.3L508.5 411.2L509.2 421.3L509.9 411.7L510.6 421.9L511.3 415.6L512.0 415.9L512.8 410.7L513.5 416.7L514.2 415.9L514.9 413.8L515.6 418.2L516.3 409.5L517.0 416.8L517.7 415.3L518.4 410.2L519.1 414.3L519.9 416.1L520.6 410.4L521.3 412.1L522.0 416.7L522.7 407.7L523.4 417.8L524.1 408.3L524.8 410.0L525.5 414.7L526.2 416.6L526.9 411.9L527.7 424.7L528.4 422.0L529.1 409.1L529.8 418.5L530.5 412.6L531.2 411.4L531.9 419.5L532.6 410.2L533.3 422.0L534.0 415.8L534.7 416.4L535.5 425.6L536.2 409.7L536.9 422.9L537.6 421.4L538.3 411.9L539.0 421.8L539.7 415.0L540.4 418.5L541.1 418.6L541.8 420.6L542.5 418.2L543.3 416.1L544.0 414.3L544.7 419.9L545.4 411.5L546.1 416.4L546.8 412.8L547.5 419.1L548.2 422.2L548.9 404.2L549.6 419.1L550.3 408.8L551.1 412.6L551.8 416.1L552.5 418.2L553.2 418.1L553.9 410.4L554.6 419.2L555.3 413.2L556.0 417.5L556.7 417.5L557.4 418.2L558.1 421.5L558.9 412.2L559.6 411.1L560.3 413.0L561.0 420.1L561.7 419.0L562.4 419.7L563.1 412.2L563.8 418.1L564.5 418.7L565.2 414.8L565.9 414.7L566.7 415.7L567.4 412.7L568.1 420.4L568.8 408.7L569.5 418.7L570.2 420.6L570.9 410.1L571.6 421.0L572.3 416.0L573.0 420.7L573.8 409.2L574.5 413.8L575.2 409.4L575.9 416.5L576.6 422.4L577.3 407.3L578.0 408.8L578.7 416.3L579.4 414.4L580.1 417.6L580.8 423.9L581.6 418.6L582.3 422.5L583.0 415.8L583.7 416.5L584.4 412.4L585.1 407.4L585.8 412.1L586.5 417.4L587.2 419.4L587.9 409.2L588.6 429.3L589.4 425.7L590.1 425.4L590.8 408.5L591.5 426.4L592.2 416.5L592.9 409.4L593.6 416.6L594.3 426.0L595.0 415.9L595.7 416.9L596.4 414.3L597.2 420.0L597.9 418.5L598.6 411.6L599.3 416.3L600.0 420.1L600.7 414.3L601.4 412.7L602.1 410.7L602.8 409.3L603.5 423.2L604.2 415.1L605.0 423.1L605.7 415.9L606.4 402.8L607.1 414.9L607.8 415.1L608.5 420.1L609.2 418.1L609.9 413.5L610.6 412.2L611.3 414.4L612.0 405.1L612.8 424.2L613.5 412.0L614.2 424.4L614.9 410.6L615.6 415.8L616.3 420.8L617.0 416.9L617.7 420.1L618.4 414.5L619.1 424.3L619.8 412.2L620.6 412.9L621.3 417.5L622.0 415.8L622.7 410.9L623.4 408.6L624.1 414.4L624.8 414.0L625.5 425.3L626.2 420.6L626.9 415.8L627.7 418.4L628.4 422.1L629.1 416.4L629.8 409.1L630.5 410.1L631.2 425.7L631.9 415.2L632.6 420.0L633.3 412.0L634.0 418.0L634.7 415.7L635.5 414.6L636.2 419.0L636.9 423.4L637.6 424.6L638.3 413.4L639.0 419.7L639.7 417.9L640.4 412.7L641.1 415.3L641.8 411.0L642.5 421.3L643.3 409.0L644.0 414.3L644.7 412.6L645.4 404.4L646.1 412.8L646.8 416.3L647.5 413.6L648.2 414.5L648.9 413.2L649.6 417.4L650.3 412.6L651.1 408.9L651.8 420.5L652.5 412.2L653.2 416.7L653.9 412.2L654.6 417.4L655.3 408.7L656.0 413.8L656.7 418.0L657.4 417.6L658.1 415.5L658.9 411.2L659.6 413.0L660.3 408.6L661.0 417.1L661.7 416.2L662.4 413.1L663.1 403.2L663.8 415.2L664.5 410.5L665.2 409.3L665.9 423.2L666.7 417.4L667.4 414.3L668.1 415.9L668.8 412.0L669.5 412.6L670.2 421.2L670.9 420.5L671.6 419.6L672.3 432.2L673.0 425.9L673.7 416.4L674.5 418.4L675.2 424.1L675.9 419.4L676.6 417.7L677.3 419.1L678.0 410.6L678.7 416.6L679.4 427.9L680.1 412.6L680.8 410.6L681.6 408.6L682.3 413.4L683.0 415.7L683.7 409.2L684.4 413.2L685.1 416.9L685.8 413.2L686.5 420.1L687.2 414.4L687.9 423.3L688.6 415.9L689.4 405.6L690.1 419.9L690.8 418.6L691.5 417.4L692.2 413.9L692.9 422.8L693.6 420.7L694.3 418.5L695.0 419.2L695.7 423.5L696.4 411.8L697.2 412.0L697.9 408.4L698.6 414.7L699.3 421.2L700.0 422.1L700.7 419.9L701.4 424.5L702.1 419.5L702.8 413.7L703.5 416.5L704.2 417.8L705.0 419.7L705.7 409.5L706.4 415.7L707.1 412.7L707.8 400.1L708.5 419.1L709.2 410.2L709.9 411.9L710.6 418.7L711.3 415.4L712.0 418.3L712.8 419.1L713.5 410.1L714.2 417.9L714.9 426.1L715.6 409.1L716.3 414.2L717.0 420.0L717.7 418.1L718.4 413.5L719.1 418.1L719.8 415.1L720.6 410.2L721.3 415.7L722.0 413.5L722.7 414.4L723.4 415.3L724.1 420.3L724.8 410.4L725.5 419.6L726.2 415.7L726.9 423.8L727.6 416.6L728.4 414.7L729.1 420.1L729.8 419.4L730.5 407.5L731.2 411.3L731.9 419.4L732.6 411.6L733.3 415.9L734.0 411.9L734.7 418.8L735.5 413.8L736.2 413.3L736.9 416.5L737.6 418.4L738.3 407.0L739.0 417.5L739.7 410.4L740.4 417.3L741.1 419.3L741.8 414.4L742.5 424.2L743.3 418.5L744.0 413.8L744.7 424.0L745.4 419.9L746.1 416.6L746.8 414.1L747.5 409.9L748.2 411.1L748.9 415.7L749.6 425.8L750.3 414.8L751.1 415.5L751.8 417.2L752.5 415.0L753.2 421.4L753.9 411.9L754.6 415.6L755.3 422.6L756.0 416.5L756.7 413.0L757.4 416.1L758.1 417.1L758.9 411.5L759.6 415.8L760.3 417.2L761.0 415.8L761.7 417.0L762.4 418.9L763.1 418.2L763.8 412.9L764.5 413.0L765.2 415.8L765.9 422.3L766.7 415.9L767.4 412.6L768.1 411.9L768.8 421.7L769.5 412.9L770.2 413.0L770.9 413.0L771.6 408.2L772.3 431.0L773.0 419.5L773.7 420.4L774.5 408.0L775.2 415.8L775.9 409.7L776.6 416.7L777.3 415.4L778.0 418.0L778.7 411.5L779.4 418.9L780.1 415.6L780.8 412.1L781.5 417.3L782.3 423.4L783.0 423.4L783.7 419.7L784.4 407.6L785.1 419.3L785.8 414.1L786.5 411.1L787.2 418.7L787.9 414.5L788.6 419.2L789.4 413.1L790.1 412.7L790.8 421.6L791.5 415.2L792.2 418.4L792.9 412.9L793.6 410.9L794.3 416.0L795.0 420.6L795.7 420.5L796.4 410.5L797.2 412.3L797.9 413.6L798.6 416.5L799.3 418.5L800.0 412.9L800.7 411.9L801.4 405.5L802.1 411.5L802.8 415.3L803.5 404.9L804.2 426.0L805.0 417.9L805.7 410.5L806.4 415.7L807.1 416.4L807.8 413.3L808.5 407.1L809.2 416.3L809.9 405.7L810.6 418.6L811.3 419.8L812.0 420.6L812.8 418.4L813.5 423.7L814.2 414.7L814.9 411.8L815.6 416.9L816.3 420.7"/>
<path stroke="#dfff10" d="M107.8 392.1L108.5 373.4L109.2 371.3L109.9 374.6L110.6 385.1L111.3 374.4L112.1 368.3L112.8 372.4L113.5 382.4L114.2 373.8L114.9 363.3L115.6 366.2L116.3 364.8L117.0 374.2L117.7 369.3L118.4 373.9L119.1 374.2L119.9 380.0L120.6 373.5L121.3 367.6L122.0 372.8L122.7 384.2L123.4 370.2L124.1 379.8L124.8 370.5L125.5 378.0L126.2 364.7L126.9 374.6L127.7 367.7L128.4 381.3L129.1 374.5L129.8 372.8L130.5 381.2L131.2 376.6L131.9 376.4L132.6 373.0L133.3 373.2L134.0 382.4L134.7 367.3L135.5 370.2L136.2 376.7L136.9 368.4L137.6 374.7L138.3 376.5L139.0 380.5L139.7 387.2L140.4 372.0L141.1 367.6L141.8 370.2L142.6 370.2L143.3 363.4L144.0 381.0L144.7 369.7L145.4 363.0L146.1 373.9L146.8 363.3L147.5 374.7L148.2 376.0L148.9 382.8L149.6 370.1L150.4 368.7L151.1 369.9L151.8 371.7L152.5 369.1L153.2 373.7L153.9 381.3L154.6 371.2L155.3 369.8L156.0 358.9L156.7 374.7L157.4 371.8L158.2 381.2L158.9 381.3L159.6 378.1L160.3 364.9L161.0 371.5L161.7 371.8L162.4 374.6L163.1 370.7L163.8 367.4L164.5 368.7L165.2 371.8L166.0 370.4L166.7 369.1L167.4 367.4L168.1 368.7L168.8 371.7L169.5 377.0L170.2 369.1L170.9 369.3L171.6 369.5L172.3 370.7L173.0 373.9L173.8 362.3L174.5 370.4L175.2 366.8L175.9 368.2L176.6 371.7L177.3 360.9L178.0 371.5L178.7 362.8L179.4 364.0L180.1 360.8L180.8 365.1L181.6 353.5L182.3 350.9L183.0 352.8L183.7 358.0L184.4 361.3L185.1 342.0L185.8 362.4L186.5 357.1L187.2 347.3L187.9 345.1L188.6 353.1L189.4 342.7L190.1 351.7L190.8 338.2L191.5 338.1L192.2 338.4L192.9 329.8L193.6 331.2L194.3 343.4L195.0 320.8L195.7 318.9L196.5 308.8L197.2 309.5L197.9 295.4L198.6 294.2L199.3 279.6L200.0 266.4L200.7 266.4L201.4 256.7L202.1 241.2L202.8 225.4L203.5 219.1L204.3 211.9L205.0 199.9L205.7 195.6L206.4 201.6L207.1 177.2L207.8 174.3L208.5 173.6L209.2 195.6L209.9 169.8L210.6 189.3L211.3 180.0L212.1 181.9L212.8 167.0L213.5 174.0L214.2 184.4L214.9 183.4L215.6 196.6L216.3 205.7L217.0 197.9L217.7 204.5L218.4 218.9L219.1 216.5L219.9 225.0L220.6 252.3L221.3 257.8L222.0 266.9L222.7 293.7L223.4 282.9L224.1 293.3L224.8 305.5L225.5 315.5L226.2 324.0L226.9 319.2L227.7 335.6L228.4 333.7L229.1 339.7L229.8 334.8L230.5 336.2L231.2 345.5L231.9 347.9L232.6 355.9L233.3 356.4L234.0 350.1L234.7 350.9L235.5 354.2L236.2 361.7L236.9 361.4L237.6 372.5L238.3 359.4L239.0 372.6L239.7 370.5L240.4 366.6L241.1 357.5L241.8 369.3L242.5 360.9L243.3 355.1L244.0 361.9L244.7 363.2L245.4 372.6L246.1 368.9L246.8 376.0L247.5 365.2L248.2 366.0L248.9 362.1L249.6 369.2L250.4 368.2L251.1 374.3L251.8 368.4L252.5 364.8L253.2 368.5L253.9 367.2L254.6 370.8L255.3 369.1L256.0 371.0L256.7 375.9L257.4 372.3L258.2 368.4L258.9 370.5L259.6 372.8L260.3 376.5L261.0 369.9L261.7 375.0L262.4 373.6L263.1 369.6L263.8 367.6L264.5 375.5L265.2 374.7L266.0 369.2L266.7 374.2L267.4 364.7L268.1 368.3L268.8 372.5L269.5 378.2L270.2 369.0L270.9 372.1L271.6 380.2L272.3 377.3L273.0 374.0L273.8 369.9L274.5 382.6L275.2 373.8L275.9 372.6L276.6 362.7L277.3 372.1L278.0 372.3L278.7 373.5L279.4 371.8L280.1 370.5L280.8 374.4L281.6 371.1L282.3 364.4L283.0 374.5L283.7 370.4L284.4 364.2L285.1 376.9L285.8 373.4L286.5 376.4L287.2 369.2L287.9 368.0L288.6 371.1L289.4 373.4L290.1 373.6L290.8 372.3L291.5 367.8L292.2 371.3L292.9 365.9L293.6 363.5L294.3 374.4L295.0 365.0L295.7 366.7L296.4 373.3L297.2 384.1L297.9 377.7L298.6 369.5L299.3 381.9L300.0 366.7L300.7 377.2L301.4 371.9L302.1 376.3L302.8 375.1L303.5 372.1L304.3 378.9L305.0 374.4L305.7 375.8L306.4 369.7L307.1 378.0L307.8 363.3L308.5 365.0L309.2 379.0L309.9 379.3L310.6 375.7L311.3 371.6L312.1 370.3L312.8 370.0L313.5 369.1L314.2 373.4L314.9 378.7L315.6 377.6L316.3 375.0L317.0 376.9L317.7 361.7L318.4 375.1L319.1 367.1L319.9 369.4L320.6 377.0L321.3 379.4L322.0 374.5L322.7 371.5L323.4 374.6L324.1 367.7L324.8 376.0L325.5 376.0L326.2 371.6L326.9 363.3L327.7 369.0L328.4 364.0L329.1 374.8L329.8 367.4L330.5 370.4L331.2 360.8L331.9 374.3L332.6 371.3L333.3 376.4L334.0 377.8L334.7 368.7L335.5 369.6L336.2 376.8L336.9 367.5L337.6 372.5L338.3 371.9L339.0 362.9L339.7 368.1L340.4 366.4L341.1 364.3L341.8 370.0L342.5 372.9L343.3 364.4L344.0 363.2L344.7 378.6L345.4 375.6L346.1 375.3L346.8 375.3L347.5 365.1L348.2 372.8L348.9 372.4L349.6 370.1L350.3 368.3L351.1 371.2L351.8 369.4L352.5 377.8L353.2 370.7L353.9 375.1L354.6 371.4L355.3 365.0L356.0 369.4L356.7 371.6L357.4 365.0L358.2 362.6L358.9 368.4L359.6 374.6L360.3 364.1L361.0 370.9L361.7 375.6L362.4 368.9L363.1 374.6L363.8 374.3L364.5 377.3L365.2 376.6L366.0 368.7L366.7 384.0L367.4 369.2L368.1 368.0L368.8 368.6L369.5 372.2L370.2 377.7L370.9 372.2L371.6 368.9L372.3 365.5L373.0 371.4L373.8 381.3L374.5 375.5L375.2 377.2L375.9 368.8L376.6 370.1L377.3 371.3L378.0 373.0L378.7 380.7L379.4 373.2L380.1 366.8L380.8 376.7L381.6 376.0L382.3 378.4L383.0 373.8L383.7 370.1L384.4 380.4L385.1 369.6L385.8 376.2L386.5 360.5L387.2 372.8L387.9 369.2L388.6 379.3L389.4 366.0L390.1 370.0L390.8 372.3L391.5 363.0L392.2 370.5L392.9 371.7L393.6 362.4L394.3 371.6L395.0 366.0L395.7 371.9L396.4 373.9L397.2 360.6L397.9 366.1L398.6 362.5L399.3 362.6L400.0 366.4L400.7 364.0L401.4 368.4L402.1 368.0L402.8 363.2L403.5 374.9L404.2 364.3L405.0 368.3L405.7 362.7L406.4 367.4L407.1 354.3L407.8 356.6L408.5 362.4L409.2 354.2L409.9 366.7L410.6 362.8L411.3 350.5L412.1 343.0L412.8 350.4L413.5 344.2L414.2 345.3L414.9 335.6L415.6 345.7L416.3 350.0L417.0 344.1L417.7 338.1L418.4 334.6L419.1 341.3L419.9 331.3L420.6 346.8L421.3 337.9L422.0 346.1L422.7 344.1L423.4 346.5L424.1 339.0L424.8 337.8L425.5 360.0L426.2 351.4L426.9 349.0L427.7 356.7L428.4 353.7L429.1 354.3L429.8 350.5L430.5 359.4L431.2 351.7L431.9 357.3L432.6 356.2L433.3 360.1L434.0 357.4L434.7 356.3L435.5 343.4L436.2 351.3L436.9 353.9L437.6 354.9L438.3 359.1L439.0 348.6L439.7 359.9L440.4 356.7L441.1 347.3L441.8 354.1L442.5 354.9L443.3 334.0L444.0 353.0L444.7 348.2L445.4 352.5L446.1 343.2L446.8 337.3L447.5 327.8L448.2 334.5L448.9 338.3L449.6 341.5L450.3 335.3L451.1 342.8L451.8 339.9L452.5 352.1L453.2 342.6L453.9 354.4L454.6 350.3L455.3 359.6L456.0 358.1L456.7 344.8L457.4 352.6L458.1 360.5L458.9 350.2L459.6 368.4L460.3 359.2L461.0 366.2L461.7 357.6L462.4 357.0L463.1 363.7L463.8 364.8L464.5 366.9L465.2 359.0L466.0 363.4L466.7 355.2L467.4 363.8L468.1 365.0L468.8 371.3L469.5 371.8L470.2 363.5L470.9 368.7L471.6 362.3L472.3 364.7L473.0 370.9L473.8 370.2L474.5 363.1L475.2 364.1L475.9 364.4L476.6 373.1L477.3 368.1L478.0 373.0L478.7 358.0L479.4 370.9L480.1 369.5L480.8 371.0L481.6 374.0L482.3 367.2L483.0 372.8L483.7 369.6L484.4 367.7L485.1 370.1L485.8 372.2L486.5 367.2L487.2 370.5L487.9 376.6L488.6 381.8L489.4 377.1L490.1 370.8L490.8 365.2L491.5 374.7L492.2 371.0L492.9 376.9L493.6 367.9L494.3 363.2L495.0 376.1L495.7 371.7L496.4 361.8L497.2 374.1L497.9 376.0L498.6 371.8L499.3 370.3L500.0 373.1L500.7 372.2L501.4 366.6L502.1 376.4L502.8 366.4L503.5 375.0L504.2 367.5L505.0 366.0L505.7 371.6L506.4 374.4L507.1 377.6L507.8 378.9L508.5 368.8L509.2 380.6L509.9 372.4L510.6 374.4L511.3 367.6L512.0 375.0L512.8 366.1L513.5 373.1L514.2 362.5L514.9 374.2L515.6 374.4L516.3 377.3L517.0 366.8L517.7 374.6L518.4 367.8L519.1 374.5L519.9 379.2L520.6 365.9L521.3 366.8L522.0 374.5L522.7 368.1L523.4 381.8L524.1 369.0L524.8 374.1L525.5 371.4L526.2 373.9L526.9 371.9L527.7 373.8L528.4 375.1L529.1 373.3L529.8 371.7L530.5 368.5L531.2 371.7L531.9 375.7L532.6 373.6L533.3 374.4L534.0 363.8L534.7 378.8L535.5 371.9L536.2 378.2L536.9 370.2L537.6 375.5L538.3 372.7L539.0 375.7L539.7 368.7L540.4 366.9L541.1 369.9L541.8 368.8L542.5 371.0L543.3 387.4L544.0 378.0L544.7 371.5L545.4 375.0L546.1 380.0L546.8 382.7L547.5 376.4L548.2 365.2L548.9 377.3L549.6 367.4L550.3 376.7L551.1 369.2L551.8 370.8L552.5 377.5L553.2 376.6L553.9 376.3L554.6 370.3L555.3 380.6L556.0 373.5L556.7 376.3L557.4 365.0L558.1 379.2L558.9 371.5L559.6 372.2L560.3 366.3L561.0 368.3L561.7 380.6L562.4 364.9L563.1 375.0L563.8 370.8L564.5 384.6L565.2 366.0L565.9 372.7L566.7 372.6L567.4 375.2L568.1 367.3L568.8 387.0L569.5 374.1L570.2 377.8L570.9 374.0L571.6 366.3L572.3 378.0L573.0 374.3L573.8 379.5L574.5 369.8L575.2 373.9L575.9 367.8L576.6 364.6L577.3 384.3L578.0 382.6L578.7 376.7L579.4 372.9L580.1 377.4L580.8 370.3L581.6 373.7L582.3 380.1L583.0 373.5L583.7 378.1L584.4 379.6L585.1 374.5L585.8 374.9L586.5 370.1L587.2 380.7L587.9 381.5L588.6 370.3L589.4 374.8L590.1 374.1L590.8 374.6L591.5 381.0L592.2 379.5L592.9 371.9L593.6 372.8L594.3 374.5L595.0 369.5L595.7 366.1L596.4 374.0L597.2 370.1L597.9 368.3L598.6 373.7L599.3 374.1L600.0 378.7L600.7 368.0L601.4 371.2L602.1 372.6L602.8 376.4L603.5 368.2L604.2 381.0L605.0 369.8L605.7 367.7L606.4 373.6L607.1 378.2L607.8 378.3L608.5 369.3L609.2 374.0L609.9 369.7L610.6 376.7L611.3 379.1L612.0 359.8L612.8 377.8L613.5 369.5L614.2 367.8L614.9 373.0L615.6 371.6L616.3 371.1L617.0 364.3L617.7 372.9L618.4 370.0L619.1 364.4L619.8 377.4L620.6 378.3L621.3 371.9L622.0 373.4L622.7 367.6L623.4 368.2L624.1 372.3L624.8 368.7L625.5 373.2L626.2 359.8L626.9 366.4L627.7 372.5L628.4 359.6L629.1 371.0L629.8 367.6L630.5 375.9L631.2 377.2L631.9 363.6L632.6 373.8L633.3 376.5L634.0 375.5L634.7 367.9L635.5 374.2L636.2 376.5L636.9 384.5L637.6 376.0L638.3 371.1L639.0 374.7L639.7 375.3L640.4 362.2L641.1 369.4L641.8 374.7L642.5 369.7L643.3 376.9L644.0 369.3L644.7 364.7L645.4 373.4L646.1 366.1L646.8 374.4L647.5 378.7L648.2 373.8L648.9 373.4L649.6 368.3L650.3 371.9L651.1 375.8L651.8 374.6L652.5 372.7L653.2 370.2L653.9 377.6L654.6 375.8L655.3 373.1L656.0 377.3L656.7 367.5L657.4 372.7L658.1 378.1L658.9 376.8L659.6 367.5L660.3 375.2L661.0 377.5L661.7 369.7L662.4 367.7L663.1 380.8L663.8 371.9L664.5 364.6L665.2 362.5L665.9 367.8L666.7 369.8L667.4 378.6L668.1 369.4L668.8 375.4L669.5 374.5L670.2 369.6L670.9 376.4L671.6 375.0L672.3 364.0L673.0 369.6L673.7 380.9L674.5 376.6L675.2 378.7L675.9 371.8L676.6 378.3L677.3 373.7L678.0 372.9L678.7 370.8L679.4 372.5L680.1 372.1L680.8 373.3L681.6 377.3L682.3 368.8L683.0 372.9L683.7 376.8L684.4 379.4L685.1 372.6L685.8 368.4L686.5 372.2L687.2 379.2L687.9 375.4L688.6 378.3L689.4 374.9L690.1 369.5L690.8 372.6L691.5 373.8L692.2 376.0L692.9 375.5L693.6 372.9L694.3 382.5L695.0 375.6L695.7 383.0L696.4 368.8L697.2 378.8L697.9 369.4L698.6 381.1L699.3 365.7L700.0 370.0L700.7 372.6L701.4 375.1L702.1 374.9L702.8 375.1L703.5 369.2L704.2 370.8L705.0 369.1L705.7 375.7L706.4 374.8L707.1 381.2L707.8 382.6L708.5 372.8L709.2 376.6L709.9 373.1L710.6 374.4L711.3 375.1L712.0 373.9L712.8 383.2L713.5 375.1L714.2 372.4L714.9 374.0L715.6 372.4L716.3 383.7L717.0 370.2L717.7 371.2L718.4 371.2L719.1 372.7L719.8 371.4L720.6 369.3L721.3 375.6L722.0 374.1L722.7 371.2L723.4 380.0L724.1 371.0L724.8 377.2L725.5 376.0L726.2 376.9L726.9 372.6L727.6 379.4L728.4 367.7L729.1 376.3L729.8 377.4L730.5 366.6L731.2 373.8L731.9 381.2L732.6 373.3L733.3 369.7L734.0 366.9L734.7 369.0L735.5 373.7L736.2 361.5L736.9 373.9L737.6 381.2L738.3 364.3L739.0 366.7L739.7 368.8L740.4 362.0L741.1 368.8L741.8 373.1L742.5 371.2L743.3 376.9L744.0 370.9L744.7 376.8L745.4 377.3L746.1 380.3L746.8 373.3L747.5 370.3L748.2 375.4L748.9 381.4L749.6 377.9L750.3 374.1L751.1 374.9L751.8 376.2L752.5 379.1L753.2 365.6L753.9 373.1L754.6 371.8L755.3 372.9L756.0 378.8L756.7 367.3L757.4 376.0L758.1 374.5L758.9 376.5L759.6 379.4L760.3 373.1L761.0 377.7L761.7 373.6L762.4 372.0L763.1 365.8L763.8 380.3L764.5 366.3L765.2 365.5L765.9 375.7L766.7 372.4L767.4 368.0L768.1 378.1L768.8 365.6L769.5 380.3L770.2 370.6L770.9 372.9L771.6 377.5L772.3 376.9L773.0 373.6L773.7 375.2L774.5 374.7L775.2 375.4L775.9 370.0L776.6 372.2L777.3 372.8L778.0 371.8L778.7 371.7L779.4 367.3L780.1 372.9L780.8 372.3L781.5 376.2L782.3 379.4L783.0 376.7L783.7 374.4L784.4 379.4L785.1 368.2L785.8 378.0L786.5 372.7L787.2 376.6L787.9 372.4L788.6 369.8L789.4 367.1L790.1 378.9L790.8 368.6L791.5 376.3L792.2 366.6L792.9 379.9L793.6 376.4L794.3 373.8L795.0 367.6L795.7 373.0L796.4 368.3L797.2 371.7L797.9 369.6L798.6 374.0L799.3 374.7L800.0 373.1L800.7 373.4L801.4 375.4L802.1 375.2L802.8 382.3L803.5 381.1L804.2 377.6L805.0 376.1L805.7 379.5L806.4 364.1L807.1 378.4L807.8 371.8L808.5 369.5L809.2 377.5L809.9 371.1L810.6 374.1L811.3 378.0L812.0 369.6L812.8 368.5L813.5 360.4L814.2 368.1L814.9 378.3L815.6 368.1L816.3 381.2"/>
<path stroke="#ffbf10" d="M107.8 338.9L108.5 327.6L109.2 320.9L109.9 324.1L110.6 336.6L111.3 336.6L112.1 331.3L112.8 331.1L113.5 325.4L114.2 332.1L114.9 323.1L115.6 333.3L116.3 323.8L117.0 338.8L117.7 333.4L118.4 329.8L119.1 325.2L119.9 327.0L120.6 335.1L121.3 337.6L122.0 330.2L122.7 330.6L123.4 332.3L124.1 330.2L124.8 337.6L125.5 327.2L126.2 324.5L126.9 335.0L127.7 334.8L128.4 323.3L129.1 324.2L129.8 334.4L130.5 333.8L131.2 339.6L131.9 327.4L132.6 329.0L133.3 329.9L134.0 318.0L134.7 331.0L135.5 330.7L136.2 328.7L136.9 331.0L137.6 324.2L138.3 330.9L139.0 329.4L139.7 318.2L140.4 333.0L141.1 336.2L141.8 329.2L142.6 333.2L143.3 333.3L144.0 328.8L144.7 325.6L145.4 337.8L146.1 331.0L146.8 340.7L147.5 325.3L148.2 335.2L148.9 326.7L149.6 320.9L150.4 323.2L151.1 327.8L151.8 340.0L152.5 320.4L153.2 332.0L153.9 325.8L154.6 332.4L155.3 331.0L156.0 321.6L156.7 338.0L157.4 335.8L158.2 331.0L158.9 324.2L159.6 341.9L160.3 323.0L161.0 331.2L161.7 325.5L162.4 315.8L163.1 326.2L163.8 323.1L164.5 321.5L165.2 329.6L166.0 327.2L166.7 328.5L167.4 326.3L168.1 328.6L168.8 329.3L169.5 329.4L170.2 322.1L170.9 332.2L171.6 324.5L172.3 317.6L173.0 331.0L173.8 332.3L174.5 319.3L175.2 326.1L175.9 325.0L176.6 317.1L177.3 318.0L178.0 322.2L178.7 319.4L179.4 324.4L180.1 318.6L180.8 314.8L181.6 310.3L182.3 308.9L183.0 301.4L183.7 309.9L184.4 302.8L185.1 305.3L185.8 310.9L186.5 302.3L187.2 300.7L187.9 297.3L188.6 296.7L189.4 297.0L190.1 300.9L190.8 295.4L191.5 289.3L192.2 284.1L192.9 279.4L193.6 277.7L194.3 270.8L195.0 259.7L195.7 260.4L196.5 257.4L197.2 254.7L197.9 235.4L198.6 221.1L199.3 217.6L200.0 193.0L200.7 200.0L201.4 185.8L202.1 173.3L202.8 173.9L203.5 147.2L204.3 154.7L205.0 152.4L205.7 153.1L206.4 125.8L207.1 119.9L207.8 138.0L208.5 140.6L209.2 131.8L209.9 128.0L210.6 132.7L211.3 124.5L212.1 139.0L212.8 114.0L213.5 131.7L214.2 130.1L214.9 147.3L215.6 142.2L216.3 144.0L217.0 172.1L217.7 174.7L218.4 178.2L219.1 193.6L219.9 214.0L220.6 222.2L221.3 225.6L222.0 237.9L222.7 254.3L223.4 256.8L224.1 281.0L224.8 273.8L225.5 274.7L226.2 280.3L226.9 292.8L227.7 292.6L228.4 295.9L229.1 300.5L229.8 306.5L230.5 311.8L231.2 309.0L231.9 313.9L232.6 320.1L233.3 303.6L234.0 319.1L234.7 316.0L235.5 317.1L236.2 324.0L236.9 314.2L237.6 325.8L238.3 308.8L239.0 326.0L239.7 323.8L240.4 321.4L241.1 321.9L241.8 322.0L242.5 316.9L243.3 316.2L244.0 311.5L244.7 329.2L245.4 318.3L246.1 320.6L246.8 325.9L247.5 331.3L248.2 313.2L248.9 319.5L249.6 334.7L250.4 318.7L251.1 324.2L251.8 325.6L252.5 323.2L253.2 330.3L253.9 328.2L254.6 323.1L255.3 333.7L256.0 334.9L256.7 336.6L257.4 324.8L258.2 333.9L258.9 330.6L259.6 331.4L260.3 326.2L261.0 327.5L261.7 333.3L262.4 322.5L263.1 327.4L263.8 327.8L264.5 331.7L265.2 331.3L266.0 330.9L266.7 329.6L267.4 327.7L268.1 327.7L268.8 331.1L269.5 330.5L270.2 326.4L270.9 324.1L271.6 323.8L272.3 330.0L273.0 336.1L273.8 329.2L274.5 329.1L275.2 329.6L275.9 327.5L276.6 332.4L277.3 329.4L278.0 341.2L278.7 321.4L279.4 329.8L280.1 331.5L280.8 327.5L281.6 331.2L282.3 333.5L283.0 326.0L283.7 329.7L284.4 333.3L285.1 326.7L285.8 327.9L286.5 328.2L287.2 331.5L287.9 324.8L288.6 334.4L289.4 326.0L290.1 322.7L290.8 334.5L291.5 328.9L292.2 338.7L292.9 329.9L293.6 338.3L294.3 336.5L295.0 329.1L295.7 324.8L296.4 327.6L297.2 331.1L297.9 333.9L298.6 330.0L299.3 318.4L300.0 323.2L300.7 336.5L301.4 333.5L302.1 337.0L302.8 327.4L303.5 331.5L304.3 337.5L305.0 330.9L305.7 332.4L306.4 335.2L307.1 331.8L307.8 325.9L308.5 334.6L309.2 331.8L309.9 337.0L310.6 332.0L311.3 323.4L312.1 327.4L312.8 333.5L313.5 332.9L314.2 323.9L314.9 330.6L315.6 332.5L316.3 324.4L317.0 331.9L317.7 333.4L318.4 327.9L319.1 336.1L319.9 331.9L320.6 333.5L321.3 329.0L322.0 330.2L322.7 320.8L323.4 326.3L324.1 329.5L324.8 326.8L325.5 330.6L326.2 328.3L326.9 326.7L327.7 327.3L328.4 322.7L329.1 326.8L329.8 332.9L330.5 328.2L331.2 334.9L331.9 319.7L332.6 338.5L333.3 330.1L334.0 327.0L334.7 334.0L335.5 331.5L336.2 324.5L336.9 335.4L337.6 325.0L338.3 330.6L339.0 331.2L339.7 319.9L340.4 325.7L341.1 327.6L341.8 330.7L342.5 328.6L343.3 330.3L344.0 320.6L344.7 328.4L345.4 333.0L346.1 331.8L346.8 327.4L347.5 334.7L348.2 333.0L348.9 337.1L349.6 340.5L350.3 318.3L351.1 330.3L351.8 320.7L352.5 326.5L353.2 327.8L353.9 334.5L354.6 329.4L355.3 328.3L356.0 333.5L356.7 325.7L357.4 323.1L358.2 326.8L358.9 328.0L359.6 337.3L360.3 315.5L361.0 325.3L361.7 334.7L362.4 334.6L363.1 332.2L363.8 333.8L364.5 328.7L365.2 333.1L366.0 328.3L366.7 331.1L367.4 330.1L368.1 334.6L368.8 327.9L369.5 327.5L370.2 332.7L370.9 336.8L371.6 328.4L372.3 337.5L373.0 332.6L373.8 326.4L374.5 322.5L375.2 330.0L375.9 327.0L376.6 322.3L377.3 333.7L378.0 330.7L378.7 327.1L379.4 322.0L380.1 334.2L380.8 334.3L381.6 323.6L382.3 322.4L383.0 331.3L383.7 327.9L384.4 323.5L385.1 329.2L385.8 337.4L386.5 327.0L387.2 323.3L387.9 334.1L388.6 321.4L389.4 329.3L390.1 336.5L390.8 326.6L391.5 335.0L392.2 320.7L392.9 324.9L393.6 318.4L394.3 335.4L395.0 326.3L395.7 319.7L396.4 320.7L397.2 323.4L397.9 324.5L398.6 322.9L399.3 320.9L400.0 316.8L400.7 334.3L401.4 330.4L402.1 327.9L402.8 323.7L403.5 322.5L404.2 325.9L405.0 324.1L405.7 319.5L406.4 316.8L407.1 326.5L407.8 323.3L408.5 321.1L409.2 308.0L409.9 323.5L410.6 317.8L411.3 318.3L412.1 319.9L412.8 311.9L413.5 316.2L414.2 317.3L414.9 313.2L415.6 311.0L416.3 314.6L417.0 314.0L417.7 302.8L418.4 311.0L419.1 301.9L419.9 307.0L420.6 310.2L421.3 311.5L422.0 314.6L422.7 301.7L423.4 302.4L424.1 308.9L424.8 313.3L425.5 311.3L426.2 308.5L426.9 303.5L427.7 314.7L428.4 321.0L429.1 311.7L429.8 315.5L430.5 318.7L431.2 324.7L431.9 312.3L432.6 308.3L433.3 321.4L434.0 324.1L434.7 319.3L435.5 318.0L436.2 313.6L436.9 315.8L437.6 325.0L438.3 314.3L439.0 313.8L439.7 317.7L440.4 312.7L441.1 320.8L441.8 314.7L442.5 319.2L443.3 311.0L444.0 305.7L444.7 319.3L445.4 307.2L446.1 302.0L446.8 303.3L447.5 294.3L448.2 302.3L448.9 288.6L449.6 299.1L450.3 305.7L451.1 299.0L451.8 301.7L452.5 291.1L453.2 289.0L453.9 289.3L454.6 295.5L455.3 301.7L456.0 305.6L456.7 310.0L457.4 301.6L458.1 313.7L458.9 309.7L459.6 308.6L460.3 308.8L461.0 319.9L461.7 320.4L462.4 321.1L463.1 311.5L463.8 322.9L464.5 322.6L465.2 315.6L466.0 314.7L466.7 310.5L467.4 320.9L468.1 316.6L468.8 330.9L469.5 319.2L470.2 318.4L470.9 318.3L471.6 326.0L472.3 316.7L473.0 316.0L473.8 324.4L474.5 324.5L475.2 326.7L475.9 326.8L476.6 325.5L477.3 332.1L478.0 332.8L478.7 327.5L479.4 329.0L480.1 321.8L480.8 327.8L481.6 331.6L482.3 335.8L483.0 328.8L483.7 332.6L484.4 336.3L485.1 318.1L485.8 337.1L486.5 319.5L487.2 312.6L487.9 327.2L488.6 330.0L489.4 324.6L490.1 332.4L490.8 327.1L491.5 324.3L492.2 334.4L492.9 320.6L493.6 327.9L494.3 326.9L495.0 321.9L495.7 335.3L496.4 334.6L497.2 327.1L497.9 326.7L498.6 329.8L499.3 329.2L500.0 329.9L500.7 333.5L501.4 335.2L502.1 332.5L502.8 328.3L503.5 326.8L504.2 335.1L505.0 320.5L505.7 317.6L506.4 328.1L507.1 333.0L507.8 330.0L508.5 325.3L509.2 329.7L509.9 320.0L510.6 330.6L511.3 324.7L512.0 327.0L512.8 318.3L513.5 327.3L514.2 327.0L514.9 333.5L515.6 330.6L516.3 335.8L517.0 313.7L517.7 329.1L518.4 330.4L519.1 329.3L519.9 327.5L520.6 326.7L521.3 338.1L522.0 323.2L522.7 329.1L523.4 329.7L524.1 320.7L524.8 328.2L525.5 333.4L526.2 333.7L526.9 325.7L527.7 329.2L528.4 328.9L529.1 335.8L529.8 328.8L530.5 332.8L531.2 333.5L531.9 323.3L532.6 328.2L533.3 331.0L534.0 324.8L534.7 320.5L535.5 337.0L536.2 325.1L536.9 328.4L537.6 330.1L538.3 322.8L539.0 325.5L539.7 331.9L540.4 323.5L541.1 330.6L541.8 329.8L542.5 336.1L543.3 329.5L544.0 326.8L544.7 331.3L545.4 329.6L546.1 323.5L546.8 330.5L547.5 332.9L548.2 321.5L548.9 333.3L549.6 341.5L550.3 336.1L551.1 331.1L551.8 335.8L552.5 335.4L553.2 332.3L553.9 330.8L554.6 331.1L555.3 329.9L556.0 324.6L556.7 313.8L557.4 324.1L558.1 326.6L558.9 333.2L559.6 329.4L560.3 335.0L561.0 330.0L561.7 335.2L562.4 324.6L563.1 319.6L563.8 325.2L564.5 316.9L565.2 335.3L565.9 325.6L566.7 330.4L567.4 329.0L568.1 335.1L568.8 330.2L569.5 330.4L570.2 333.3L570.9 324.3L571.6 326.2L572.3 324.1L573.0 332.5L573.8 333.1L574.5 335.6L575.2 325.9L575.9 325.2L576.6 330.1L577.3 333.4L578.0 329.5L578.7 327.6L579.4 327.4L580.1 331.2L580.8 324.5L581.6 323.6L582.3 334.3L583.0 328.4L583.7 329.6L584.4 336.2L585.1 332.7L585.8 328.7L586.5 324.1L587.2 333.4L587.9 331.8L588.6 331.0L589.4 332.0L590.1 337.0L590.8 325.9L591.5 331.1L592.2 327.8L592.9 326.6L593.6 332.1L594.3 334.7L595.0 333.4L595.7 332.5L596.4 334.0L597.2 331.5L597.9 336.9L598.6 332.2L599.3 332.9L600.0 328.8L600.7 327.6L601.4 321.2L602.1 324.2L602.8 326.6L603.5 329.9L604.2 329.6L605.0 328.1L605.7 331.0L606.4 329.7L607.1 334.0L607.8 328.0L608.5 334.2L609.2 332.1L609.9 332.5L610.6 317.5L611.3 329.2L612.0 325.1L612.8 335.8L613.5 327.0L614.2 331.2L614.9 325.3L615.6 331.7L616.3 335.4L617.0 326.1L617.7 329.6L618.4 336.2L619.1 330.3L619.8 334.4L620.6 326.5L621.3 329.4L622.0 328.1L622.7 334.4L623.4 323.3L624.1 332.6L624.8 328.3L625.5 331.0L626.2 329.4L626.9 335.7L627.7 329.4L628.4 327.9L629.1 336.0L629.8 324.8L630.5 334.6L631.2 332.5L631.9 332.9L632.6 324.2L633.3 332.3L634.0 331.9L634.7 328.2L635.5 329.1L636.2 324.3L636.9 331.9L637.6 332.8L638.3 333.7L639.0 333.7L639.7 326.4L640.4 327.4L641.1 331.5L641.8 330.5L642.5 340.5L643.3 325.9L644.0 327.7L644.7 340.1L645.4 332.6L646.1 330.3L646.8 322.9L647.5 328.6L648.2 323.8L648.9 322.2L649.6 326.3L650.3 334.4L651.1 336.3L651.8 331.3L652.5 326.1L653.2 327.8L653.9 336.1L654.6 326.3L655.3 334.2L656.0 331.7L656.7 324.9L657.4 329.2L658.1 332.4L658.9 333.5L659.6 329.5L660.3 328.5L661.0 330.5L661.7 333.6L662.4 327.6L663.1 325.7L663.8 335.2L664.5 326.7L665.2 332.8L665.9 331.0L666.7 325.2L667.4 335.8L668.1 330.4L668.8 321.6L669.5 322.8L670.2 332.5L670.9 335.0L671.6 323.7L672.3 328.6L673.0 328.4L673.7 337.2L674.5 329.3L675.2 337.2L675.9 331.1L676.6 320.9L677.3 323.8L678.0 322.1L678.7 329.5L679.4 327.9L680.1 331.7L680.8 320.0L681.6 332.3L682.3 336.6L683.0 332.0L683.7 324.7L684.4 332.3L685.1 328.9L685.8 336.7L686.5 333.0L687.2 336.2L687.9 335.4L688.6 331.2L689.4 327.2L690.1 320.7L690.8 327.2L691.5 335.3L692.2 335.3L692.9 337.4L693.6 330.6L694.3 334.8L695.0 331.2L695.7 335.6L696.4 322.5L697.2 331.6L697.9 326.5L698.6 331.5L699.3 319.0L700.0 336.9L700.7 327.3L701.4 323.2L702.1 329.9L702.8 325.1L703.5 329.9L704.2 324.2L705.0 329.7L705.7 321.1L706.4 337.1L707.1 325.8L707.8 331.9L708.5 331.5L709.2 326.7L709.9 332.6L710.6 332.8L711.3 326.7L712.0 335.0L712.8 330.7L713.5 324.5L714.2 333.6L714.9 323.7L715.6 334.8L716.3 328.4L717.0 329.2L717.7 336.5L718.4 325.9L719.1 336.6L719.8 322.9L720.6 322.3L721.3 332.9L722.0 329.4L722.7 330.7L723.4 336.8L724.1 333.9L724.8 330.2L725.5 329.9L726.2 323.8L726.9 332.1L727.6 332.5L728.4 326.5L729.1 326.0L729.8 331.0L730.5 328.8L731.2 332.6L731.9 330.6L732.6 340.1L733.3 338.4L734.0 325.6L734.7 332.9L735.5 335.2L736.2 327.4L736.9 319.7L737.6 324.8L738.3 327.7L739.0 329.7L739.7 320.8L740.4 321.2L741.1 328.4L741.8 331.2L742.5 329.0L743.3 326.9L744.0 330.2L744.7 332.0L745.4 332.5L746.1 336.7L746.8 330.9L747.5 328.3L748.2 336.1L748.9 334.0L749.6 325.1L750.3 333.8L751.1 328.0L751.8 335.3L752.5 339.4L753.2 328.3L753.9 327.1L754.6 329.0L755.3 330.4L756.0 323.1L756.7 331.6L757.4 334.0L758.1 329.0L758.9 325.1L759.6 328.6L760.3 325.2L761.0 322.7L761.7 334.0L762.4 330.8L763.1 331.5L763.8 327.4L764.5 338.0L765.2 325.6L765.9 337.0L766.7 328.4L767.4 331.9L768.1 332.5L768.8 327.6L769.5 336.3L770.2 327.5L770.9 331.9L771.6 336.9L772.3 325.6L773.0 336.2L773.7 327.4L774.5 332.3L775.2 332.1L775.9 323.7L776.6 328.9L777.3 331.4L778.0 326.1L778.7 332.6L779.4 322.7L780.1 333.3L780.8 327.8L781.5 333.1L782.3 327.0L783.0 334.6L783.7 330.8L784.4 326.9L785.1 336.6L785.8 331.3L786.5 328.5L787.2 332.8L787.9 332.2L788.6 327.2L789.4 326.3L790.1 338.0L790.8 334.8L791.5 343.1L792.2 330.9L792.9 327.7L793.6 334.9L794.3 336.5L795.0 328.6L795.7 333.3L796.4 320.9L797.2 323.7L797.9 339.7L798.6 327.5L799.3 327.6L800.0 327.3L800.7 330.9L801.4 337.8L802.1 330.2L802.8 333.3L803.5 322.2L804.2 328.0L805.0 324.7L805.7 335.8L806.4 330.8L807.1 331.9L807.8 335.1L808.5 333.1L809.2 338.3L809.9 330.4L810.6 335.3L811.3 330.4L812.0 329.2L812.8 332.4L813.5 334.6L814.2 327.2L814.9 327.4L815.6 333.5L816.3 326.2"/>
<path stroke="#ff6000" d="M107.8 292.2L108.5 278.7L109.2 294.0L109.9 283.9L110.6 278.8L111.3 293.4L112.1 273.7L112.8 281.7L113.5 301.1L114.2 278.5L114.9 275.3L115.6 288.8L116.3 288.4L117.0 284.9L117.7 298.7L118.4 286.2L119.1 281.6L119.9 290.4L120.6 280.6L121.3 274.2L122.0 298.6L122.7 297.7L123.4 291.3L124.1 283.6L124.8 285.0L125.5 292.4L126.2 293.6L126.9 291.3L127.7 277.7L128.4 292.5L129.1 290.4L129.8 281.9L130.5 288.7L131.2 292.6L131.9 279.4L132.6 285.4L133.3 290.9L134.0 289.3L134.7 282.2L135.5 289.1L136.2 285.8L136.9 282.4L137.6 281.8L138.3 296.9L139.0 289.7L139.7 288.9L140.4 286.6L141.1 283.1L141.8 281.0L142.6 289.4L143.3 292.8L144.0 286.0L144.7 290.1L145.4 278.1L146.1 285.2L146.8 286.7L147.5 281.9L148.2 290.3L148.9 288.7L149.6 287.8L150.4 283.6L151.1 280.3L151.8 282.9L152.5 283.0L153.2 288.0L153.9 284.9L154.6 288.0L155.3 280.9L156.0 289.9L156.7 287.0L157.4 285.4L158.2 282.6L158.9 290.2L159.6 287.6L160.3 290.5L161.0 293.0L161.7 280.8L162.4 283.9L163.1 293.6L163.8 290.8L164.5 283.1L165.2 288.7L166.0 290.8L166.7 279.2L167.4 287.6L168.1 286.9L168.8 282.0L169.5 288.1L170.2 284.2L170.9 283.2L171.6 280.0L172.3 287.1L173.0 277.5L173.8 280.8L174.5 273.1L175.2 280.5L175.9 283.8L176.6 283.3L177.3 285.7L178.0 279.4L178.7 279.0L179.4 273.4L180.1 276.8L180.8 280.8L181.6 270.3L182.3 277.1L183.0 272.6L183.7 265.4L184.4 265.5L185.1 275.1L185.8 270.9L186.5 262.2L187.2 263.1L187.9 264.5L188.6 261.6L189.4 277.0L190.1 265.7L190.8 270.7L191.5 264.9L192.2 261.8L192.9 255.0L193.6 248.6L194.3 247.8L195.0 247.3L195.7 246.9L196.5 232.5L197.2 233.2L197.9 239.8L198.6 222.6L199.3 211.8L200.0 214.0L200.7 198.3L201.4 181.4L202.1 186.0L202.8 177.2L203.5 170.1L204.3 170.6L205.0 161.2L205.7 160.3L206.4 150.7L207.1 151.4L207.8 135.1L208.5 141.7L209.2 133.0L209.9 149.1L210.6 139.1L211.3 134.4L212.1 133.6L212.8 144.6L213.5 141.5L214.2 141.5L214.9 147.4L215.6 151.1L216.3 147.9L217.0 165.8L217.7 176.0L218.4 172.4L219.1 173.7L219.9 199.7L220.6 181.8L221.3 198.6L222.0 203.4L222.7 220.6L223.4 222.9L224.1 218.3L224.8 224.8L225.5 238.2L226.2 248.7L226.9 252.2L227.7 247.9L228.4 262.6L229.1 266.5L229.8 264.4L230.5 260.6L231.2 272.9L231.9 266.7L232.6 267.8L233.3 270.1L234.0 272.6L234.7 267.8L235.5 270.5L236.2 281.9L236.9 266.8L237.6 273.5L238.3 274.9L239.0 279.1L239.7 279.4L240.4 291.4L241.1 280.3L241.8 276.7L242.5 277.2L243.3 284.2L244.0 293.2L244.7 287.4L245.4 283.8L246.1 276.2L246.8 291.1L247.5 283.3L248.2 280.8L248.9 281.0L249.6 284.8L250.4 298.4L251.1 281.9L251.8 284.5L252.5 282.7L253.2 290.2L253.9 288.1L254.6 278.6L255.3 286.5L256.0 286.3L256.7 289.9L257.4 280.3L258.2 294.6L258.9 289.2L259.6 284.7L260.3 287.0L261.0 282.6L261.7 284.9L262.4 280.0L263.1 288.2L263.8 287.8L264.5 285.8L265.2 295.9L266.0 280.3L266.7 291.7L267.4 281.7L268.1 280.2L268.8 282.3L269.5 286.3L270.2 290.4L270.9 297.7L271.6 284.5L272.3 288.4L273.0 278.9L273.8 288.7L274.5 284.2L275.2 289.3L275.9 285.2L276.6 289.0L277.3 288.1L278.0 296.5L278.7 290.8L279.4 288.1L280.1 281.1L280.8 286.0L281.6 293.3L282.3 279.6L283.0 285.6L283.7 281.9L284.4 291.7L285.1 303.3L285.8 291.1L286.5 292.3L287.2 286.0L287.9 294.8L288.6 291.7L289.4 294.0L290.1 286.6L290.8 291.8L291.5 280.6L292.2 283.4L292.9 283.1L293.6 288.3L294.3 286.1L295.0 283.0L295.7 291.3L296.4 281.1L297.2 287.6L297.9 281.0L298.6 276.2L299.3 279.5L300.0 292.4L300.7 281.2L301.4 288.7L302.1 289.2L302.8 288.3L303.5 292.9L304.3 286.0L305.0 290.6L305.7 281.7L306.4 285.6L307.1 299.8L307.8 291.9L308.5 292.1L309.2 290.5L309.9 290.4L310.6 286.2L311.3 287.9L312.1 292.5L312.8 285.0L313.5 282.7L314.2 287.1L314.9 281.4L315.6 285.0L316.3 289.9L317.0 289.1L317.7 287.1L318.4 284.5L319.1 286.3L319.9 282.3L320.6 281.5L321.3 292.0L322.0 292.7L322.7 287.6L323.4 284.9L324.1 282.7L324.8 283.9L325.5 284.1L326.2 291.6L326.9 285.2L327.7 290.2L328.4 285.0L329.1 282.7L329.8 290.3L330.5 288.2L331.2 275.1L331.9 290.7L332.6 289.5L333.3 292.3L334.0 294.0L334.7 282.2L335.5 290.3L336.2 290.0L336.9 290.9L337.6 300.6L338.3 283.3L339.0 289.6L339.7 287.2L340.4 280.3L341.1 287.6L341.8 286.3L342.5 286.1L343.3 280.7L344.0 293.5L344.7 289.6L345.4 297.5L346.1 286.7L346.8 283.7L347.5 288.9L348.2 277.1L348.9 282.0L349.6 277.2L350.3 285.9L351.1 277.9L351.8 289.2L352.5 284.6L353.2 286.0L353.9 288.6L354.6 278.5L355.3 280.1L356.0 289.8L356.7 283.1L357.4 285.9L358.2 285.6L358.9 283.4L359.6 288.7L360.3 285.3L361.0 284.8L361.7 289.2L362.4 288.7L363.1 282.0L363.8 286.0L364.5 274.6L365.2 275.7L366.0 289.7L366.7 284.6L367.4 296.0L368.1 289.4L368.8 290.6L369.5 289.9L370.2 296.7L370.9 284.9L371.6 285.5L372.3 290.1L373.0 286.5L373.8 281.6L374.5 278.2L375.2 292.5L375.9 278.2L376.6 294.4L377.3 290.0L378.0 287.8L378.7 278.3L379.4 282.9L380.1 282.9L380.8 278.1L381.6 284.5L382.3 287.8L383.0 278.3L383.7 286.5L384.4 291.6L385.1 293.8L385.8 284.5L386.5 276.0L387.2 281.4L387.9 284.8L388.6 278.9L389.4 292.1L390.1 282.6L390.8 287.2L391.5 277.7L392.2 288.4L392.9 280.2L393.6 283.0L394.3 283.8L395.0 280.2L395.7 284.1L396.4 276.2L397.2 284.1L397.9 293.6L398.6 275.4L399.3 275.6L400.0 279.5L400.7 274.7L401.4 277.8L402.1 285.1L402.8 290.8L403.5 285.3L404.2 281.0L405.0 276.3L405.7 285.6L406.4 282.3L407.1 269.2L407.8 279.8L408.5 279.1L409.2 279.4L409.9 265.0L410.6 268.3L411.3 266.7L412.1 261.6L412.8 264.2L413.5 261.2L414.2 265.4L414.9 261.9L415.6 262.6L416.3 261.8L417.0 271.6L417.7 266.5L418.4 267.6L419.1 269.5L419.9 266.9L420.6 257.7L421.3 263.1L422.0 268.5L422.7 268.0L423.4 263.2L424.1 277.7L424.8 269.9L425.5 263.9L426.2 263.7L426.9 268.9L427.7 271.0L428.4 283.5L429.1 278.0L429.8 274.7L430.5 272.5L431.2 272.3L431.9 286.2L432.6 276.9L433.3 272.4L434.0 277.4L434.7 274.1L435.5 269.8L436.2 270.2L436.9 270.2L437.6 266.5L438.3 263.6L439.0 270.2L439.7 273.4L440.4 270.6L441.1 268.7L441.8 265.5L442.5 272.8L443.3 268.2L444.0 265.2L444.7 256.4L445.4 261.0L446.1 265.0L446.8 260.0L447.5 264.5L448.2 265.1L448.9 261.7L449.6 266.6L450.3 268.7L451.1 266.8L451.8 274.5L452.5 272.5L453.2 284.5L453.9 276.7L454.6 267.6L455.3 278.1L456.0 277.0L456.7 279.8L457.4 283.5L458.1 276.4L458.9 279.5L459.6 274.5L460.3 284.8L461.0 280.6L461.7 282.8L462.4 284.4L463.1 276.5L463.8 285.8L464.5 286.0L465.2 270.2L466.0 283.2L466.7 284.1L467.4 281.0L468.1 288.4L468.8 282.0L469.5 289.6L470.2 286.3L470.9 286.9L471.6 277.7L472.3 281.3L473.0 275.5L473.8 276.5L474.5 288.1L475.2 282.3L475.9 287.0L476.6 288.1L477.3 279.3L478.0 278.2L478.7 284.6L479.4 283.7L480.1 284.0L480.8 283.9L481.6 283.8L482.3 290.5L483.0 282.7L483.7 289.0L484.4 291.5L485.1 286.5L485.8 284.5L486.5 281.8L487.2 284.1L487.9 284.5L488.6 289.2L489.4 284.1L490.1 285.1L490.8 284.7L491.5 289.8L492.2 278.0L492.9 282.6L493.6 283.0L494.3 285.8L495.0 287.7L495.7 281.8L496.4 292.8L497.2 288.6L497.9 287.8L498.6 283.7L499.3 288.0L500.0 279.6L500.7 295.0L501.4 279.0L502.1 285.0L502.8 282.0L503.5 289.1L504.2 281.6L505.0 288.2L505.7 285.4L506.4 293.8L507.1 284.0L507.8 286.1L508.5 295.8L509.2 287.2L509.9 288.3L510.6 282.8L511.3 290.0L512.0 285.8L512.8 280.6L513.5 291.0L514.2 277.7L514.9 285.6L515.6 287.9L516.3 293.4L517.0 295.4L517.7 282.2L518.4 289.1L519.1 289.9L519.9 281.7L520.6 283.6L521.3 286.3L522.0 294.0L522.7 296.4L523.4 282.4L524.1 287.2L524.8 288.2L525.5 277.7L526.2 289.0L526.9 285.2L527.7 276.6L528.4 284.0L529.1 289.6L529.8 291.0L530.5 281.1L531.2 292.9L531.9 282.9L532.6 279.1L533.3 287.4L534.0 283.0L534.7 286.6L535.5 280.1L536.2 285.6L536.9 290.3L537.6 285.2L538.3 286.2L539.0 289.9L539.7 288.1L540.4 292.8L541.1 291.0L541.8 283.9L542.5 295.9L543.3 285.7L544.0 286.9L544.7 289.8L545.4 280.2L546.1 283.7L546.8 289.9L547.5 286.0L548.2 282.6L548.9 294.6L549.6 286.0L550.3 288.2L551.1 285.1L551.8 276.9L552.5 290.2L553.2 288.7L553.9 292.8L554.6 286.0L555.3 284.1L556.0 298.9L556.7 280.0L557.4 279.3L558.1 300.0L558.9 294.4L559.6 284.8L560.3 286.6L561.0 281.4L561.7 288.4L562.4 280.8L563.1 293.6L563.8 285.0L564.5 289.1L565.2 289.3L565.9 295.6L566.7 289.0L567.4 280.4L568.1 290.1L568.8 288.1L569.5 286.3L570.2 291.7L570.9 285.7L571.6 284.3L572.3 288.1L573.0 296.0L573.8 279.6L574.5 286.7L575.2 287.1L575.9 288.0L576.6 289.8L577.3 295.0L578.0 287.2L578.7 286.2L579.4 282.2L580.1 279.1L580.8 290.5L581.6 279.2L582.3 286.5L583.0 284.1L583.7 291.9L584.4 285.3L585.1 291.5L585.8 283.7L586.5 293.0L587.2 286.8L587.9 289.0L588.6 285.2L589.4 285.7L590.1 286.2L590.8 289.4L591.5 282.7L592.2 284.2L592.9 290.7L593.6 283.3L594.3 290.0L595.0 286.5L595.7 287.4L596.4 287.3L597.2 283.0L597.9 295.6L598.6 280.7L599.3 295.4L600.0 280.9L600.7 284.1L601.4 294.0L602.1 285.1L602.8 288.3L603.5 292.5L604.2 280.9L605.0 281.4L605.7 284.9L606.4 278.6L607.1 286.0L607.8 288.0L608.5 280.3L609.2 290.3L609.9 282.8L610.6 281.3L611.3 285.6L612.0 286.1L612.8 284.3L613.5 285.5L614.2 290.0L614.9 304.0L615.6 289.1L616.3 293.7L617.0 281.9L617.7 288.8L618.4 285.5L619.1 283.0L619.8 281.6L620.6 291.1L621.3 276.1L622.0 282.1L622.7 283.5L623.4 291.0L624.1 276.8L624.8 283.4L625.5 281.2L626.2 288.1L626.9 277.4L627.7 279.4L628.4 287.1L629.1 276.9L629.8 291.8L630.5 282.4L631.2 283.5L631.9 283.3L632.6 290.1L633.3 288.5L634.0 282.1L634.7 281.6L635.5 287.1L636.2 288.1L636.9 289.4L637.6 280.4L638.3 287.6L639.0 289.6L639.7 296.2L640.4 295.7L641.1 292.5L641.8 297.0L642.5 289.1L643.3 288.6L644.0 292.1L644.7 289.3L645.4 287.7L646.1 295.8L646.8 283.8L647.5 300.7L648.2 277.8L648.9 294.4L649.6 287.1L650.3 289.0L651.1 285.5L651.8 291.0L652.5 284.7L653.2 294.9L653.9 283.6L654.6 288.7L655.3 285.5L656.0 282.3L656.7 293.1L657.4 290.2L658.1 291.0L658.9 287.8L659.6 286.5L660.3 283.8L661.0 286.3L661.7 288.1L662.4 284.7L663.1 282.3L663.8 282.6L664.5 277.1L665.2 290.4L665.9 286.2L666.7 293.8L667.4 290.6L668.1 284.3L668.8 281.2L669.5 289.7L670.2 285.0L670.9 286.9L671.6 284.8L672.3 286.2L673.0 289.6L673.7 298.2L674.5 294.6L675.2 285.4L675.9 287.7L676.6 277.2L677.3 287.0L678.0 282.8L678.7 293.0L679.4 294.0L680.1 286.3L680.8 279.2L681.6 285.3L682.3 288.8L683.0 285.3L683.7 284.3L684.4 285.1L685.1 287.2L685.8 292.4L686.5 292.8L687.2 289.8L687.9 287.9L688.6 293.6L689.4 279.6L690.1 284.4L690.8 289.8L691.5 283.6L692.2 275.5L692.9 286.1L693.6 286.2L694.3 282.3L695.0 293.8L695.7 290.0L696.4 291.0L697.2 283.6L697.9 295.4L698.6 285.7L699.3 289.6L700.0 288.6L700.7 290.0L701.4 280.2L702.1 291.4L702.8 293.0L703.5 285.8L704.2 290.1L705.0 284.8L705.7 287.6L706.4 287.1L707.1 287.0L707.8 295.5L708.5 297.0L709.2 277.6L709.9 293.0L710.6 284.8L711.3 292.7L712.0 287.7L712.8 288.6L713.5 280.3L714.2 288.3L714.9 294.7L715.6 294.2L716.3 285.9L717.0 283.1L717.7 277.6L718.4 277.1L719.1 294.2L719.8 287.9L720.6 293.2L721.3 286.0L722.0 283.5L722.7 296.1L723.4 283.2L724.1 283.8L724.8 288.5L725.5 290.2L726.2 279.3L726.9 288.0L727.6 292.6L728.4 286.8L729.1 282.3L729.8 284.0L730.5 296.8L731.2 293.9L731.9 289.3L732.6 286.6L733.3 286.6L734.0 293.4L734.7 282.9L735.5 285.1L736.2 294.9L736.9 292.0L737.6 287.9L738.3 294.7L739.0 287.2L739.7 286.5L740.4 289.4L741.1 284.5L741.8 278.6L742.5 290.5L743.3 285.0L744.0 289.5L744.7 279.9L745.4 281.3L746.1 287.3L746.8 290.3L747.5 283.5L748.2 287.6L748.9 293.2L749.6 292.1L750.3 288.1L751.1 276.8L751.8 282.0L752.5 280.6L753.2 282.8L753.9 280.6L754.6 280.0L755.3 292.6L756.0 284.4L756.7 284.3L757.4 284.9L758.1 285.3L758.9 299.4L759.6 286.4L760.3 293.8L761.0 282.7L761.7 289.8L762.4 288.6L763.1 287.6L763.8 297.2L764.5 288.2L765.2 293.4L765.9 282.7L766.7 289.9L767.4 292.8L768.1 281.4L768.8 288.8L769.5 292.0L770.2 287.9L770.9 288.3L771.6 286.2L772.3 292.2L773.0 282.2L773.7 285.8L774.5 279.5L775.2 284.6L775.9 292.0L776.6 282.2L777.3 288.6L778.0 286.8L778.7 299.2L779.4 293.3L780.1 280.7L780.8 282.0L781.5 295.8L782.3 285.7L783.0 285.6L783.7 281.3L784.4 292.5L785.1 295.7L785.8 285.8L786.5 290.5L787.2 290.1L787.9 291.6L788.6 281.3L789.4 291.4L790.1 282.6L790.8 284.3L791.5 290.4L792.2 282.6L792.9 281.2L793.6 285.5L794.3 288.4L795.0 283.6L795.7 290.8L796.4 284.9L797.2 279.9L797.9 293.7L798.6 295.9L799.3 283.7L800.0 291.5L800.7 289.4L801.4 286.5L802.1 290.2L802.8 286.7L803.5 292.0L804.2 289.8L805.0 287.7L805.7 284.6L806.4 289.3L807.1 285.6L807.8 284.3L808.5 284.8L809.2 287.8L809.9 281.0L810.6 291.0L811.3 282.2L812.0 282.5L812.8 283.0L813.5 289.7L814.2 282.6L814.9 284.9L815.6 292.6L816.3 288.7"/>
<path stroke="#ff0000" d="M107.8 232.6L108.5 246.3L109.2 247.6L109.9 261.7L110.6 244.4L111.3 246.4L112.1 247.8L112.8 242.4L113.5 241.7L114.2 251.0L114.9 249.8L115.6 247.3L116.3 240.2L117.0 241.0L117.7 252.2L118.4 251.0L119.1 240.0L119.9 235.1L120.6 244.5L121.3 248.3L122.0 238.0L122.7 246.1L123.4 240.2L124.1 235.5L124.8 240.8L125.5 243.9L126.2 240.2L126.9 247.9L127.7 245.3L128.4 247.5L129.1 245.5L129.8 247.0L130.5 245.4L131.2 246.4L131.9 243.9L132.6 244.0L133.3 242.8L134.0 236.8L134.7 252.6L135.5 237.4L136.2 245.6L136.9 250.9L137.6 245.3L138.3 243.9L139.0 238.7L139.7 249.9L140.4 243.2L141.1 243.7L141.8 253.1L142.6 250.5L143.3 241.2L144.0 240.7L144.7 238.7L145.4 241.6L146.1 242.3L146.8 243.6L147.5 238.1L148.2 248.6L148.9 245.0L149.6 242.3L150.4 252.2L151.1 237.5L151.8 248.2L152.5 244.5L153.2 233.2L153.9 248.2L154.6 246.7L155.3 236.2L156.0 249.4L156.7 246.1L157.4 241.3L158.2 241.5L158.9 240.7L159.6 241.8L160.3 236.8L161.0 238.4L161.7 240.4L162.4 246.6L163.1 246.6L163.8 252.4L164.5 239.4L165.2 251.7L166.0 238.0L166.7 233.0L167.4 247.3L168.1 245.1L168.8 243.8L169.5 237.0L170.2 245.1L170.9 241.1L171.6 242.6L172.3 240.8L173.0 232.6L173.8 243.4L174.5 237.6L175.2 236.0L175.9 232.4L176.6 242.5L177.3 229.6L178.0 232.2L178.7 229.1L179.4 232.4L180.1 240.3L180.8 234.2L181.6 225.5L182.3 228.6L183.0 227.9L183.7 217.1L184.4 213.7L185.1 224.5L185.8 212.7L186.5 232.7L187.2 231.9L187.9 214.7L188.6 219.6L189.4 213.5L190.1 212.3L190.8 214.0L191.5 207.7L192.2 208.4L192.9 215.3L193.6 202.0L194.3 198.4L195.0 183.9L195.7 196.6L196.5 183.5L197.2 179.5L197.9 170.0L198.6 149.7L199.3 149.2L200.0 145.7L200.7 131.6L201.4 117.4L202.1 120.9L202.8 106.2L203.5 83.4L204.3 80.7L205.0 80.8L205.7 78.2L206.4 70.5L207.1 78.0L207.8 54.0L208.5 56.9L209.2 57.1L209.9 68.5L210.6 63.4L211.3 53.0L212.1 55.4L212.8 62.5L213.5 55.4L214.2 53.8L214.9 70.3L215.6 73.1L216.3 80.8L217.0 89.1L217.7 80.4L218.4 90.6L219.1 100.8L219.9 121.6L220.6 130.2L221.3 132.9L222.0 145.3L222.7 151.4L223.4 166.3L224.1 166.2L224.8 167.2L225.5 176.4L226.2 182.8L226.9 197.8L227.7 197.8L228.4 209.6L229.1 205.8L229.8 216.0L230.5 219.1L231.2 222.0L231.9 216.5L232.6 220.4L233.3 222.2L234.0 230.5L234.7 224.8L235.5 234.2L236.2 219.9L236.9 229.2L237.6 228.4L238.3 230.8L239.0 239.3L239.7 238.9L240.4 232.8L241.1 225.8L241.8 239.8L242.5 238.3L243.3 235.7L244.0 244.5L244.7 245.1L245.4 239.2L246.1 237.9L246.8 240.1L247.5 231.0L248.2 239.9L248.9 237.7L249.6 232.0L250.4 231.9L251.1 248.4L251.8 242.7L252.5 235.5L253.2 248.2L253.9 246.2L254.6 248.2L255.3 248.8L256.0 247.9L256.7 241.7L257.4 236.5L258.2 235.4L258.9 242.9L259.6 252.6L260.3 243.5L261.0 245.0L261.7 241.7L262.4 244.1L263.1 252.3L263.8 241.7L264.5 253.7L265.2 247.1L266.0 242.3L266.7 242.2L267.4 236.4L268.1 255.3L268.8 242.4L269.5 240.7L270.2 245.6L270.9 241.0L271.6 249.4L272.3 241.0L273.0 241.5L273.8 248.9L274.5 247.4L275.2 245.1L275.9 247.3L276.6 239.2L277.3 243.3L278.0 237.9L278.7 238.5L279.4 243.9L280.1 245.1L280.8 248.8L281.6 248.1L282.3 248.1L283.0 242.5L283.7 248.5L284.4 243.8L285.1 243.3L285.8 246.6L286.5 245.1L287.2 237.3L287.9 236.5L288.6 248.0L289.4 245.1L290.1 246.0L290.8 245.5L291.5 236.8L292.2 240.9L292.9 238.1L293.6 235.7L294.3 246.3L295.0 245.1L295.7 244.0L296.4 239.3L297.2 244.6L297.9 241.1L298.6 238.6L299.3 238.6L300.0 242.0L300.7 248.0L301.4 251.6L302.1 238.8L302.8 242.0L303.5 248.7L304.3 246.6L305.0 246.3L305.7 252.2L306.4 242.9L307.1 247.9L307.8 245.6L308.5 240.6L309.2 244.6L309.9 241.5L310.6 242.1L311.3 244.0L312.1 243.9L312.8 235.2L313.5 244.9L314.2 236.3L314.9 248.5L315.6 240.6L316.3 243.3L317.0 247.6L317.7 256.8L318.4 236.4L319.1 249.6L319.9 248.7L320.6 243.5L321.3 243.8L322.0 242.7L322.7 245.3L323.4 251.3L324.1 239.9L324.8 248.4L325.5 243.0L326.2 241.3L326.9 238.4L327.7 245.1L328.4 245.5L329.1 245.1L329.8 252.9L330.5 247.6L331.2 248.8L331.9 249.5L332.6 243.2L333.3 245.5L334.0 236.3L334.7 236.8L335.5 253.0L336.2 243.4L336.9 248.8L337.6 241.3L338.3 243.2L339.0 239.5L339.7 242.4L340.4 240.3L341.1 245.4L341.8 256.0L342.5 249.6L343.3 248.0L344.0 246.2L344.7 248.8L345.4 236.0L346.1 244.7L346.8 237.6L347.5 245.5L348.2 235.9L348.9 249.6L349.6 240.9L350.3 250.2L351.1 241.7L351.8 236.1L352.5 251.6L353.2 248.0L353.9 242.6L354.6 244.6L355.3 250.3L356.0 238.1L356.7 243.4L357.4 237.4L358.2 242.1L358.9 249.2L359.6 246.0L360.3 237.0L361.0 250.3L361.7 245.8L362.4 240.7L363.1 238.7L363.8 239.5L364.5 250.6L365.2 233.4L366.0 244.3L366.7 243.4L367.4 243.4L368.1 244.5L368.8 248.0L369.5 244.9L370.2 236.9L370.9 249.9L371.6 255.0L372.3 240.7L373.0 241.6L373.8 239.7L374.5 234.8L375.2 246.6L375.9 242.2L376.6 240.6L377.3 237.0L378.0 238.0L378.7 247.0L379.4 249.5L380.1 244.1L380.8 250.6L381.6 237.4L382.3 244.6L383.0 244.3L383.7 246.9L384.4 235.1L385.1 241.0L385.8 244.4L386.5 239.3L387.2 242.6L387.9 239.3L388.6 235.6L389.4 243.2L390.1 239.4L390.8 239.4L391.5 236.1L392.2 238.6L392.9 241.3L393.6 244.4L394.3 239.7L395.0 246.1L395.7 237.6L396.4 240.4L397.2 237.8L397.9 242.8L398.6 244.0L399.3 244.3L400.0 234.1L400.7 240.4L401.4 240.1L402.1 247.5L402.8 238.6L403.5 255.1L404.2 230.8L405.0 238.3L405.7 236.5L406.4 243.2L407.1 241.0L407.8 231.8L408.5 235.2L409.2 231.2L409.9 226.0L410.6 228.2L411.3 240.4L412.1 234.7L412.8 234.4L413.5 232.2L414.2 237.2L414.9 236.0L415.6 227.9L416.3 226.1L417.0 219.3L417.7 223.1L418.4 213.1L419.1 230.4L419.9 228.0L420.6 219.4L421.3 222.6L422.0 227.1L422.7 218.5L423.4 217.7L424.1 217.5L424.8 227.5L425.5 226.4L426.2 226.1L426.9 227.8L427.7 223.6L428.4 232.2L429.1 228.3L429.8 242.2L430.5 227.3L431.2 223.2L431.9 232.0L432.6 226.8L433.3 240.8L434.0 234.1L434.7 240.3L435.5 230.7L436.2 229.6L436.9 239.1L437.6 236.1L438.3 234.5L439.0 218.6L439.7 231.0L440.4 229.5L441.1 227.6L441.8 227.3L442.5 229.4L443.3 234.3L444.0 230.1L444.7 217.1L445.4 223.5L446.1 225.9L446.8 230.4L447.5 222.7L448.2 221.6L448.9 224.8L449.6 216.2L450.3 224.0L451.1 221.8L451.8 216.7L452.5 220.5L453.2 216.3L453.9 224.4L454.6 226.3L455.3 222.5L456.0 224.9L456.7 220.8L457.4 225.9L458.1 229.2L458.9 227.7L459.6 227.6L460.3 237.5L461.0 233.3L461.7 235.1L462.4 228.0L463.1 237.2L463.8 230.0L464.5 242.2L465.2 236.7L466.0 231.5L466.7 238.6L467.4 232.0L468.1 248.1L468.8 238.3L469.5 237.9L470.2 239.7L470.9 246.8L471.6 236.3L472.3 251.3L473.0 235.4L473.8 238.8L474.5 235.6L475.2 241.9L475.9 246.2L476.6 243.5L477.3 243.3L478.0 238.3L478.7 242.9L479.4 239.4L480.1 239.2L480.8 234.8L481.6 251.5L482.3 243.8L483.0 238.6L483.7 238.7L484.4 244.8L485.1 243.5L485.8 242.7L486.5 241.7L487.2 245.1L487.9 245.6L488.6 247.9L489.4 244.4L490.1 235.9L490.8 247.2L491.5 238.0L492.2 233.3L492.9 241.8L493.6 231.4L494.3 243.5L495.0 234.8L495.7 243.1L496.4 248.8L497.2 241.3L497.9 233.9L498.6 245.8L499.3 240.7L500.0 247.9L500.7 247.3L501.4 240.9L502.1 244.0L502.8 240.4L503.5 237.0L504.2 248.9L505.0 246.5L505.7 243.0L506.4 232.1L507.1 244.8L507.8 245.6L508.5 241.2L509.2 233.1L509.9 246.1L510.6 244.8L511.3 243.1L512.0 239.7L512.8 232.8L513.5 249.3L514.2 251.3L514.9 242.6L515.6 240.8L516.3 254.1L517.0 246.3L517.7 238.7L518.4 245.9L519.1 241.0L519.9 242.5L520.6 240.2L521.3 241.3L522.0 242.1L522.7 237.4L523.4 246.1L524.1 242.8L524.8 237.9L525.5 246.1L526.2 245.2L526.9 247.0L527.7 247.9L528.4 233.7L529.1 241.1L529.8 234.4L530.5 239.9L531.2 243.0L531.9 244.8L532.6 242.1L533.3 243.6L534.0 239.0L534.7 247.6L535.5 242.6L536.2 241.2L536.9 244.6L537.6 244.6L538.3 240.8L539.0 240.8L539.7 244.0L540.4 243.6L541.1 246.2L541.8 240.8L542.5 244.1L543.3 251.1L544.0 245.0L544.7 240.6L545.4 242.2L546.1 247.9L546.8 240.1L547.5 240.7L548.2 240.7L548.9 236.3L549.6 245.3L550.3 240.8L551.1 244.9L551.8 239.0L552.5 238.2L553.2 241.4L553.9 240.2L554.6 247.7L555.3 240.8L556.0 249.5L556.7 233.4L557.4 238.3L558.1 251.2L558.9 256.7L559.6 237.7L560.3 248.0L561.0 241.3L561.7 250.2L562.4 243.6L563.1 247.1L563.8 241.1L564.5 245.6L565.2 236.9L565.9 247.7L566.7 237.9L567.4 244.1L568.1 241.6L568.8 251.7L569.5 252.5L570.2 239.0L570.9 250.0L571.6 245.7L572.3 245.6L573.0 248.4L573.8 243.2L574.5 250.9L575.2 249.8L575.9 239.7L576.6 248.0L577.3 240.6L578.0 241.0L578.7 236.9L579.4 242.0L580.1 253.0L580.8 247.3L581.6 246.2L582.3 238.3L583.0 242.5L583.7 246.5L584.4 242.1L585.1 245.9L585.8 241.6L586.5 243.5L587.2 238.9L587.9 242.6L588.6 239.4L589.4 244.3L590.1 240.8L590.8 245.0L591.5 241.1L592.2 243.1L592.9 244.8L593.6 246.2L594.3 245.5L595.0 242.0L595.7 255.2L596.4 238.3L597.2 255.6L597.9 245.1L598.6 245.8L599.3 240.7L600.0 243.1L600.7 244.5L601.4 243.8L602.1 239.7L602.8 233.0L603.5 242.4L604.2 254.1L605.0 246.3L605.7 242.2L606.4 228.3L607.1 247.9L607.8 246.0L608.5 241.6L609.2 242.7L609.9 250.6L610.6 239.7L611.3 250.6L612.0 245.5L612.8 237.9L613.5 250.6L614.2 245.9L614.9 236.2L615.6 245.5L616.3 249.3L617.0 247.1L617.7 240.3L618.4 251.8L619.1 247.3L619.8 251.3L620.6 249.8L621.3 238.1L622.0 244.7L622.7 246.4L623.4 242.2L624.1 247.7L624.8 250.1L625.5 238.8L626.2 240.1L626.9 248.4L627.7 240.9L628.4 237.3L629.1 241.9L629.8 241.9L630.5 250.3L631.2 244.9L631.9 253.3L632.6 238.9L633.3 245.1L634.0 237.9L634.7 248.0L635.5 240.1L636.2 251.9L636.9 246.3L637.6 241.7L638.3 242.6L639.0 244.6L639.7 252.3L640.4 237.9L641.1 241.1L641.8 238.8L642.5 238.9L643.3 246.1L644.0 242.4L644.7 231.5L645.4 248.4L646.1 242.3L646.8 247.0L647.5 235.8L648.2 243.5L648.9 249.4L649.6 247.2L650.3 251.1L651.1 255.4L651.8 257.5L652.5 247.9L653.2 249.8L653.9 243.6L654.6 248.3L655.3 243.2L656.0 235.7L656.7 250.0L657.4 250.2L658.1 239.6L658.9 232.9L659.6 248.6L660.3 252.5L661.0 245.7L661.7 246.3L662.4 240.9L663.1 249.5L663.8 245.6L664.5 245.9L665.2 252.0L665.9 252.0L666.7 242.2L667.4 241.7L668.1 248.2L668.8 236.7L669.5 239.8L670.2 242.1L670.9 241.4L671.6 242.6L672.3 240.8L673.0 240.1L673.7 244.0L674.5 254.4L675.2 245.1L675.9 248.4L676.6 250.2L677.3 241.4L678.0 253.1L678.7 240.3L679.4 247.5L680.1 250.4L680.8 248.6L681.6 233.0L682.3 237.2L683.0 245.8L683.7 239.2L684.4 235.7L685.1 248.6L685.8 245.8L686.5 239.9L687.2 242.4L687.9 246.2L688.6 236.4L689.4 241.9L690.1 240.5L690.8 232.7L691.5 242.0L692.2 231.4L692.9 242.9L693.6 245.2L694.3 243.7L695.0 240.1L695.7 241.2L696.4 242.5L697.2 251.7L697.9 249.7L698.6 245.7L699.3 240.8L700.0 237.3L700.7 256.2L701.4 245.1L702.1 246.7L702.8 244.9L703.5 243.4L704.2 248.6L705.0 250.9L705.7 239.4L706.4 240.7L707.1 246.5L707.8 245.0L708.5 247.8L709.2 251.3L709.9 241.2L710.6 247.7L711.3 249.9L712.0 247.4L712.8 236.4L713.5 242.3L714.2 243.3L714.9 244.0L715.6 240.2L716.3 240.8L717.0 250.8L717.7 245.6L718.4 247.6L719.1 243.4L719.8 244.8L720.6 254.3L721.3 238.8L722.0 243.2L722.7 253.0L723.4 238.9L724.1 243.9L724.8 242.2L725.5 244.4L726.2 243.7L726.9 247.0L727.6 252.7L728.4 247.6L729.1 243.7L729.8 244.4L730.5 241.4L731.2 245.0L731.9 255.6L732.6 241.0L733.3 248.6L734.0 251.2L734.7 246.2L735.5 251.3L736.2 242.9L736.9 249.2L737.6 235.2L738.3 245.9L739.0 247.4L739.7 247.9L740.4 255.3L741.1 249.0L741.8 248.4L742.5 246.3L743.3 255.6L744.0 244.5L744.7 238.4L745.4 246.8L746.1 244.9L746.8 242.6L747.5 248.6L748.2 246.8L748.9 240.0L749.6 243.7L750.3 250.6L751.1 253.3L751.8 233.4L752.5 242.4L753.2 252.3L753.9 243.8L754.6 241.2L755.3 244.0L756.0 253.7L756.7 235.7L757.4 241.6L758.1 245.5L758.9 241.1L759.6 245.6L760.3 246.1L761.0 240.1L761.7 254.1L762.4 239.5L763.1 242.5L763.8 240.7L764.5 239.9L765.2 236.8L765.9 237.3L766.7 240.0L767.4 246.2L768.1 241.0L768.8 246.7L769.5 249.0L770.2 242.1L770.9 242.5L771.6 238.5L772.3 254.7L773.0 241.3L773.7 241.0L774.5 243.7L775.2 237.0L775.9 248.5L776.6 242.6L777.3 246.0L778.0 244.3L778.7 248.9L779.4 244.9L780.1 240.9L780.8 243.6L781.5 242.5L782.3 247.9L783.0 236.4L783.7 247.6L784.4 244.1L785.1 241.3L785.8 245.1L786.5 240.5L787.2 243.2L787.9 235.9L788.6 241.5L789.4 242.2L790.1 248.1L790.8 241.9L791.5 239.3L792.2 242.1L792.9 248.7L793.6 246.8L794.3 245.3L795.0 244.1L795.7 250.9L796.4 235.1L797.2 244.7L797.9 243.7L798.6 246.4L799.3 244.4L800.0 234.9L800.7 248.8L801.4 246.8L802.1 249.3L802.8 246.9L803.5 236.8L804.2 247.3L805.0 246.5L805.7 253.0L806.4 246.0L807.1 243.2L807.8 246.6L808.5 246.2L809.2 240.4L809.9 241.7L810.6 244.8L811.3 248.1L812.0 251.6L812.8 236.1L813.5 251.8L814.2 241.1L814.9 245.2L815.6 247.8L816.3 240.0"/>
</g>
<g stroke="#000" stroke-width="3.2" fill="none">
<path d="M150.7 29.4 v22.5 M150.7 738.6 v-22.5"/>
<path d="M204.4 29.4 v10.5 M204.4 738.6 v-10.5"/>
<path d="M258.1 29.4 v22.5 M258.1 738.6 v-22.5"/>
<path d="M311.8 29.4 v10.5 M311.8 738.6 v-10.5"/>
<path d="M365.4 29.4 v22.5 M365.4 738.6 v-22.5"/>
<path d="M419.1 29.4 v10.5 M419.1 738.6 v-10.5"/>
<path d="M472.8 29.4 v22.5 M472.8 738.6 v-22.5"/>
<path d="M526.5 29.4 v10.5 M526.5 738.6 v-10.5"/>
<path d="M580.1 29.4 v22.5 M580.1 738.6 v-22.5"/>
<path d="M633.8 29.4 v10.5 M633.8 738.6 v-10.5"/>
<path d="M687.5 29.4 v22.5 M687.5 738.6 v-22.5"/>
<path d="M741.2 29.4 v10.5 M741.2 738.6 v-10.5"/>
<path d="M794.8 29.4 v22.5 M794.8 738.6 v-22.5"/>
<path d="M107.8 72.5 h22.5 M816.3 72.5 h-22.5"/>
<path d="M107.8 115.4 h22.5 M816.3 115.4 h-22.5"/>
<path d="M107.8 158.3 h22.5 M816.3 158.3 h-22.5"/>
<path d="M107.8 201.2 h22.5 M816.3 201.2 h-22.5"/>
<path d="M107.8 244.1 h22.5 M816.3 244.1 h-22.5"/>
<path d="M107.8 287.0 h22.5 M816.3 287.0 h-22.5"/>
<path d="M107.8 329.9 h22.5 M816.3 329.9 h-22.5"/>
<path d="M107.8 372.8 h22.5 M816.3 372.8 h-22.5"/>
<path d="M107.8 415.7 h22.5 M816.3 415.7 h-22.5"/>
<path d="M107.8 458.6 h22.5 M816.3 458.6 h-22.5"/>
<path d="M107.8 501.5 h22.5 M816.3 501.5 h-22.5"/>
<path d="M107.8 544.4 h22.5 M816.3 544.4 h-22.5"/>
<path d="M107.8 587.3 h22.5 M816.3 587.3 h-22.5"/>
<path d="M107.8 630.2 h22.5 M816.3 630.2 h-22.5"/>
<path d="M107.8 673.1 h22.5 M816.3 673.1 h-22.5"/>
<path d="M107.8 716.0 h22.5 M816.3 716.0 h-22.5"/>
</g>
<rect x="107.8" y="29.4" width="708.5" height="709.2" fill="none" stroke="#000" stroke-width="3.4"/>
<text transform="translate(150.7 798.6) scale(1 1.04)" font-size="49" text-anchor="middle">50</text>
<text transform="translate(258.1 798.6) scale(1 1.04)" font-size="49" text-anchor="middle">100</text>
<text transform="translate(365.4 798.6) scale(1 1.04)" font-size="49" text-anchor="middle">150</text>
<text transform="translate(472.8 798.6) scale(1 1.04)" font-size="49" text-anchor="middle">200</text>
<text transform="translate(580.1 798.6) scale(1 1.04)" font-size="49" text-anchor="middle">250</text>
<text transform="translate(687.5 798.6) scale(1 1.04)" font-size="49" text-anchor="middle">300</text>
<text transform="translate(794.8 798.6) scale(1 1.04)" font-size="49" text-anchor="middle">350</text>
<text transform="translate(338.4 867.2) scale(1 1.01)" font-size="50">Shift (cm<tspan font-size="36" dy="-26">-1</tspan><tspan dy="26" dx="0.8">)</tspan></text>
<text transform="translate(38.0 602.6) rotate(-90) scale(1 1.01)" font-size="50">Intensity (arb. units)</text>
<line x1="832" y1="242.8" x2="886" y2="242.8" stroke="#ff0000" stroke-width="4.2"/>
<text transform="translate(904.6 258.2) scale(1 1.04)" font-size="41">50 K</text>
<line x1="832" y1="286.0" x2="886" y2="286.0" stroke="#ff6000" stroke-width="4.2"/>
<text transform="translate(904.6 301.4) scale(1 1.04)" font-size="41">45 K</text>
<line x1="832" y1="329.1" x2="886" y2="329.1" stroke="#ffbf10" stroke-width="4.2"/>
<text transform="translate(904.6 344.5) scale(1 1.04)" font-size="41">40 K</text>
<line x1="832" y1="372.3" x2="886" y2="372.3" stroke="#dfff10" stroke-width="4.2"/>
<text transform="translate(904.6 387.7) scale(1 1.04)" font-size="41">35 K</text>
<line x1="832" y1="415.4" x2="886" y2="415.4" stroke="#80ff10" stroke-width="4.2"/>
<text transform="translate(904.6 430.8) scale(1 1.04)" font-size="41">30 K</text>
<line x1="832" y1="458.6" x2="886" y2="458.6" stroke="#20f010" stroke-width="4.2"/>
<text transform="translate(904.6 474.0) scale(1 1.04)" font-size="41">25 K</text>
<line x1="832" y1="501.8" x2="886" y2="501.8" stroke="#00f040" stroke-width="4.2"/>
<text transform="translate(904.6 517.2) scale(1 1.04)" font-size="41">20 K</text>
<line x1="832" y1="544.9" x2="886" y2="544.9" stroke="#00f0a0" stroke-width="4.2"/>
<text transform="translate(904.6 560.3) scale(1 1.04)" font-size="41">17.5 K</text>
<line x1="832" y1="588.1" x2="886" y2="588.1" stroke="#00f0f0" stroke-width="4.2"/>
<text transform="translate(904.6 603.5) scale(1 1.04)" font-size="41">15 K</text>
<line x1="832" y1="631.2" x2="886" y2="631.2" stroke="#10a0ff" stroke-width="4.2"/>
<text transform="translate(904.6 646.6) scale(1 1.04)" font-size="41">12.5 K</text>
<line x1="832" y1="674.4" x2="886" y2="674.4" stroke="#0040ff" stroke-width="4.2"/>
<text transform="translate(904.6 689.8) scale(1 1.04)" font-size="41">10 K</text>
<line x1="832" y1="717.6" x2="886" y2="717.6" stroke="#2000e8" stroke-width="4.2"/>
<text transform="translate(904.6 733.0) scale(1 1.04)" font-size="41">8 K</text>
<g stroke="#000" stroke-width="3.4" fill="none" stroke-linecap="butt">
<path d="M1259.8 349.9 V29.4 H1968.3 V349.9" stroke-linejoin="miter"/>
<path d="M1259.8 417.7 V738.5 H1968.3 V417.7" stroke-linejoin="miter"/>
</g>
<g stroke="#000" stroke-width="3.2" fill="none">
<path d="M1330.6 29.4 v22.5 M1330.6 738.5 v-22.5"/>
<path d="M1401.5 29.4 v10.5 M1401.5 738.5 v-10.5"/>
<path d="M1472.3 29.4 v22.5 M1472.3 738.5 v-22.5"/>
<path d="M1543.2 29.4 v10.5 M1543.2 738.5 v-10.5"/>
<path d="M1614.0 29.4 v22.5 M1614.0 738.5 v-22.5"/>
<path d="M1684.9 29.4 v10.5 M1684.9 738.5 v-10.5"/>
<path d="M1755.8 29.4 v22.5 M1755.8 738.5 v-22.5"/>
<path d="M1826.6 29.4 v10.5 M1826.6 738.5 v-10.5"/>
<path d="M1897.4 29.4 v22.5 M1897.4 738.5 v-22.5"/>
<path d="M1259.8 109.1 h10.5 M1968.3 109.1 h-10.5"/>
<path d="M1259.8 188.9 h22.5 M1968.3 188.9 h-22.5"/>
<path d="M1259.8 268.6 h10.5 M1968.3 268.6 h-10.5"/>
<path d="M1259.8 348.3 h22.5 M1968.3 348.3 h-22.5"/>
<path d="M1259.8 419.3 h22.5 M1968.3 419.3 h-22.5"/>
<path d="M1259.8 483.1 h22.5 M1968.3 483.1 h-22.5"/>
<path d="M1259.8 547.0 h22.5 M1968.3 547.0 h-22.5"/>
<path d="M1259.8 610.8 h22.5 M1968.3 610.8 h-22.5"/>
<path d="M1259.8 674.7 h22.5 M1968.3 674.7 h-22.5"/>
</g>
<polyline fill="none" stroke="#8ca6ec" stroke-width="3.2" stroke-linejoin="round" points="1302.3,128.0 1330.6,93.7 1366.1,105.5 1401.5,109.1 1436.9,102.0 1472.3,119.7 1543.2,105.0 1614.0,98.2 1684.9,118.9 1755.8,108.8 1826.6,136.2 1897.4,114.5"/>
<polyline fill="none" stroke="#20c020" stroke-width="3.2" stroke-linejoin="round" points="1302.3,233.9 1330.6,206.9 1366.1,215.2 1401.5,217.2 1436.9,212.4 1472.3,228.2 1543.2,216.6 1614.0,211.6 1684.9,228.5 1755.8,219.7 1826.6,236.8 1897.4,228.1"/>
<polyline fill="none" stroke="#e84048" stroke-width="3.2" stroke-linejoin="round" points="1302.3,553.6 1330.6,617.0 1366.1,581.1 1401.5,590.9 1436.9,620.0 1472.3,555.5 1543.2,570.0 1614.0,595.5 1684.9,557.0 1755.8,594.3 1826.6,558.2 1897.4,559.1"/>
<g stroke="#000" stroke-width="1.9" stroke-linejoin="miter">
<path fill="#7d9cee" d="M1302.3 113.7 L1316.5 136.7 L1288.1 136.7 Z"/>
<path fill="#7d9cee" d="M1330.6 79.6 L1344.8 102.1 L1316.4 102.1 Z"/>
<path fill="#7d9cee" d="M1366.1 91.0 L1380.3 114.4 L1351.9 114.4 Z"/>
<path fill="#7d9cee" d="M1401.5 94.6 L1415.7 118.0 L1387.3 118.0 Z"/>
<path fill="#7d9cee" d="M1436.9 87.6 L1451.1 110.8 L1422.7 110.8 Z"/>
<path fill="#7d9cee" d="M1472.3 105.3 L1486.5 128.5 L1458.1 128.5 Z"/>
<path fill="#7d9cee" d="M1543.2 90.5 L1557.4 113.9 L1529.0 113.9 Z"/>
<path fill="#7d9cee" d="M1614.0 83.7 L1628.2 107.1 L1599.8 107.1 Z"/>
<path fill="#7d9cee" d="M1684.9 104.6 L1699.1 127.6 L1670.7 127.6 Z"/>
<path fill="#7d9cee" d="M1755.8 94.4 L1770.0 117.6 L1741.5 117.6 Z"/>
<path fill="#7d9cee" d="M1826.6 121.9 L1840.8 144.9 L1812.4 144.9 Z"/>
<path fill="#7d9cee" d="M1897.4 100.1 L1911.6 123.3 L1883.2 123.3 Z"/>
<rect fill="#00c000" x="1289.6" y="221.2" width="25.4" height="25.4"/>
<rect fill="#00c000" x="1317.9" y="194.2" width="25.4" height="25.4"/>
<rect fill="#00c000" x="1353.4" y="202.5" width="25.4" height="25.4"/>
<rect fill="#00c000" x="1388.8" y="204.5" width="25.4" height="25.4"/>
<rect fill="#00c000" x="1424.2" y="199.7" width="25.4" height="25.4"/>
<rect fill="#00c000" x="1459.6" y="215.5" width="25.4" height="25.4"/>
<rect fill="#00c000" x="1530.5" y="203.9" width="25.4" height="25.4"/>
<rect fill="#00c000" x="1601.3" y="198.9" width="25.4" height="25.4"/>
<rect fill="#00c000" x="1672.2" y="215.8" width="25.4" height="25.4"/>
<rect fill="#00c000" x="1743.0" y="207.0" width="25.4" height="25.4"/>
<rect fill="#00c000" x="1813.9" y="224.1" width="25.4" height="25.4"/>
<rect fill="#00c000" x="1884.7" y="215.4" width="25.4" height="25.4"/>
<circle fill="#ff4040" cx="1302.3" cy="553.6" r="12.5"/>
<circle fill="#ff4040" cx="1330.6" cy="617.0" r="12.5"/>
<circle fill="#ff4040" cx="1366.1" cy="581.1" r="12.5"/>
<circle fill="#ff4040" cx="1401.5" cy="590.9" r="12.5"/>
<circle fill="#ff4040" cx="1436.9" cy="620.0" r="12.5"/>
<circle fill="#ff4040" cx="1472.3" cy="555.5" r="12.5"/>
<circle fill="#ff4040" cx="1543.2" cy="570.0" r="12.5"/>
<circle fill="#ff4040" cx="1614.0" cy="595.5" r="12.5"/>
<circle fill="#ff4040" cx="1684.9" cy="557.0" r="12.5"/>
<circle fill="#ff4040" cx="1755.8" cy="594.3" r="12.5"/>
<circle fill="#ff4040" cx="1826.6" cy="558.2" r="12.5"/>
<circle fill="#ff4040" cx="1897.4" cy="559.1" r="12.5"/>
</g>
<text transform="translate(1247.3 36.3) scale(1 1.04)" font-size="49" text-anchor="end">200</text>
<text transform="translate(1247.3 195.8) scale(1 1.04)" font-size="49" text-anchor="end">180</text>
<text transform="translate(1247.3 355.2) scale(1 1.04)" font-size="49" text-anchor="end">160</text>
<text transform="translate(1247.3 426.2) scale(1 1.04)" font-size="49" text-anchor="end">80</text>
<text transform="translate(1247.3 490.0) scale(1 1.04)" font-size="49" text-anchor="end">79</text>
<text transform="translate(1247.3 553.9) scale(1 1.04)" font-size="49" text-anchor="end">78</text>
<text transform="translate(1247.3 617.7) scale(1 1.04)" font-size="49" text-anchor="end">77</text>
<text transform="translate(1247.3 681.6) scale(1 1.04)" font-size="49" text-anchor="end">76</text>
<text transform="translate(1247.3 745.4) scale(1 1.04)" font-size="49" text-anchor="end">75</text>
<text transform="translate(1330.6 788.2) scale(1 1.04)" font-size="49" text-anchor="middle">10</text>
<text transform="translate(1472.3 788.2) scale(1 1.04)" font-size="49" text-anchor="middle">20</text>
<text transform="translate(1614.0 788.2) scale(1 1.04)" font-size="49" text-anchor="middle">30</text>
<text transform="translate(1755.8 788.2) scale(1 1.04)" font-size="49" text-anchor="middle">40</text>
<text transform="translate(1897.4 788.2) scale(1 1.04)" font-size="49" text-anchor="middle">50</text>
<text transform="translate(1435.0 866.3) scale(1 1.01)" font-size="49.7">Temperature (K)</text>
<text transform="translate(1128.0 573.0) rotate(-90) scale(1 1.01)" font-size="50">Raman shift (cm<tspan font-size="36" dy="-26">-1</tspan><tspan dy="26" dx="0.8">)</tspan></text>
</svg>
</body></html>
